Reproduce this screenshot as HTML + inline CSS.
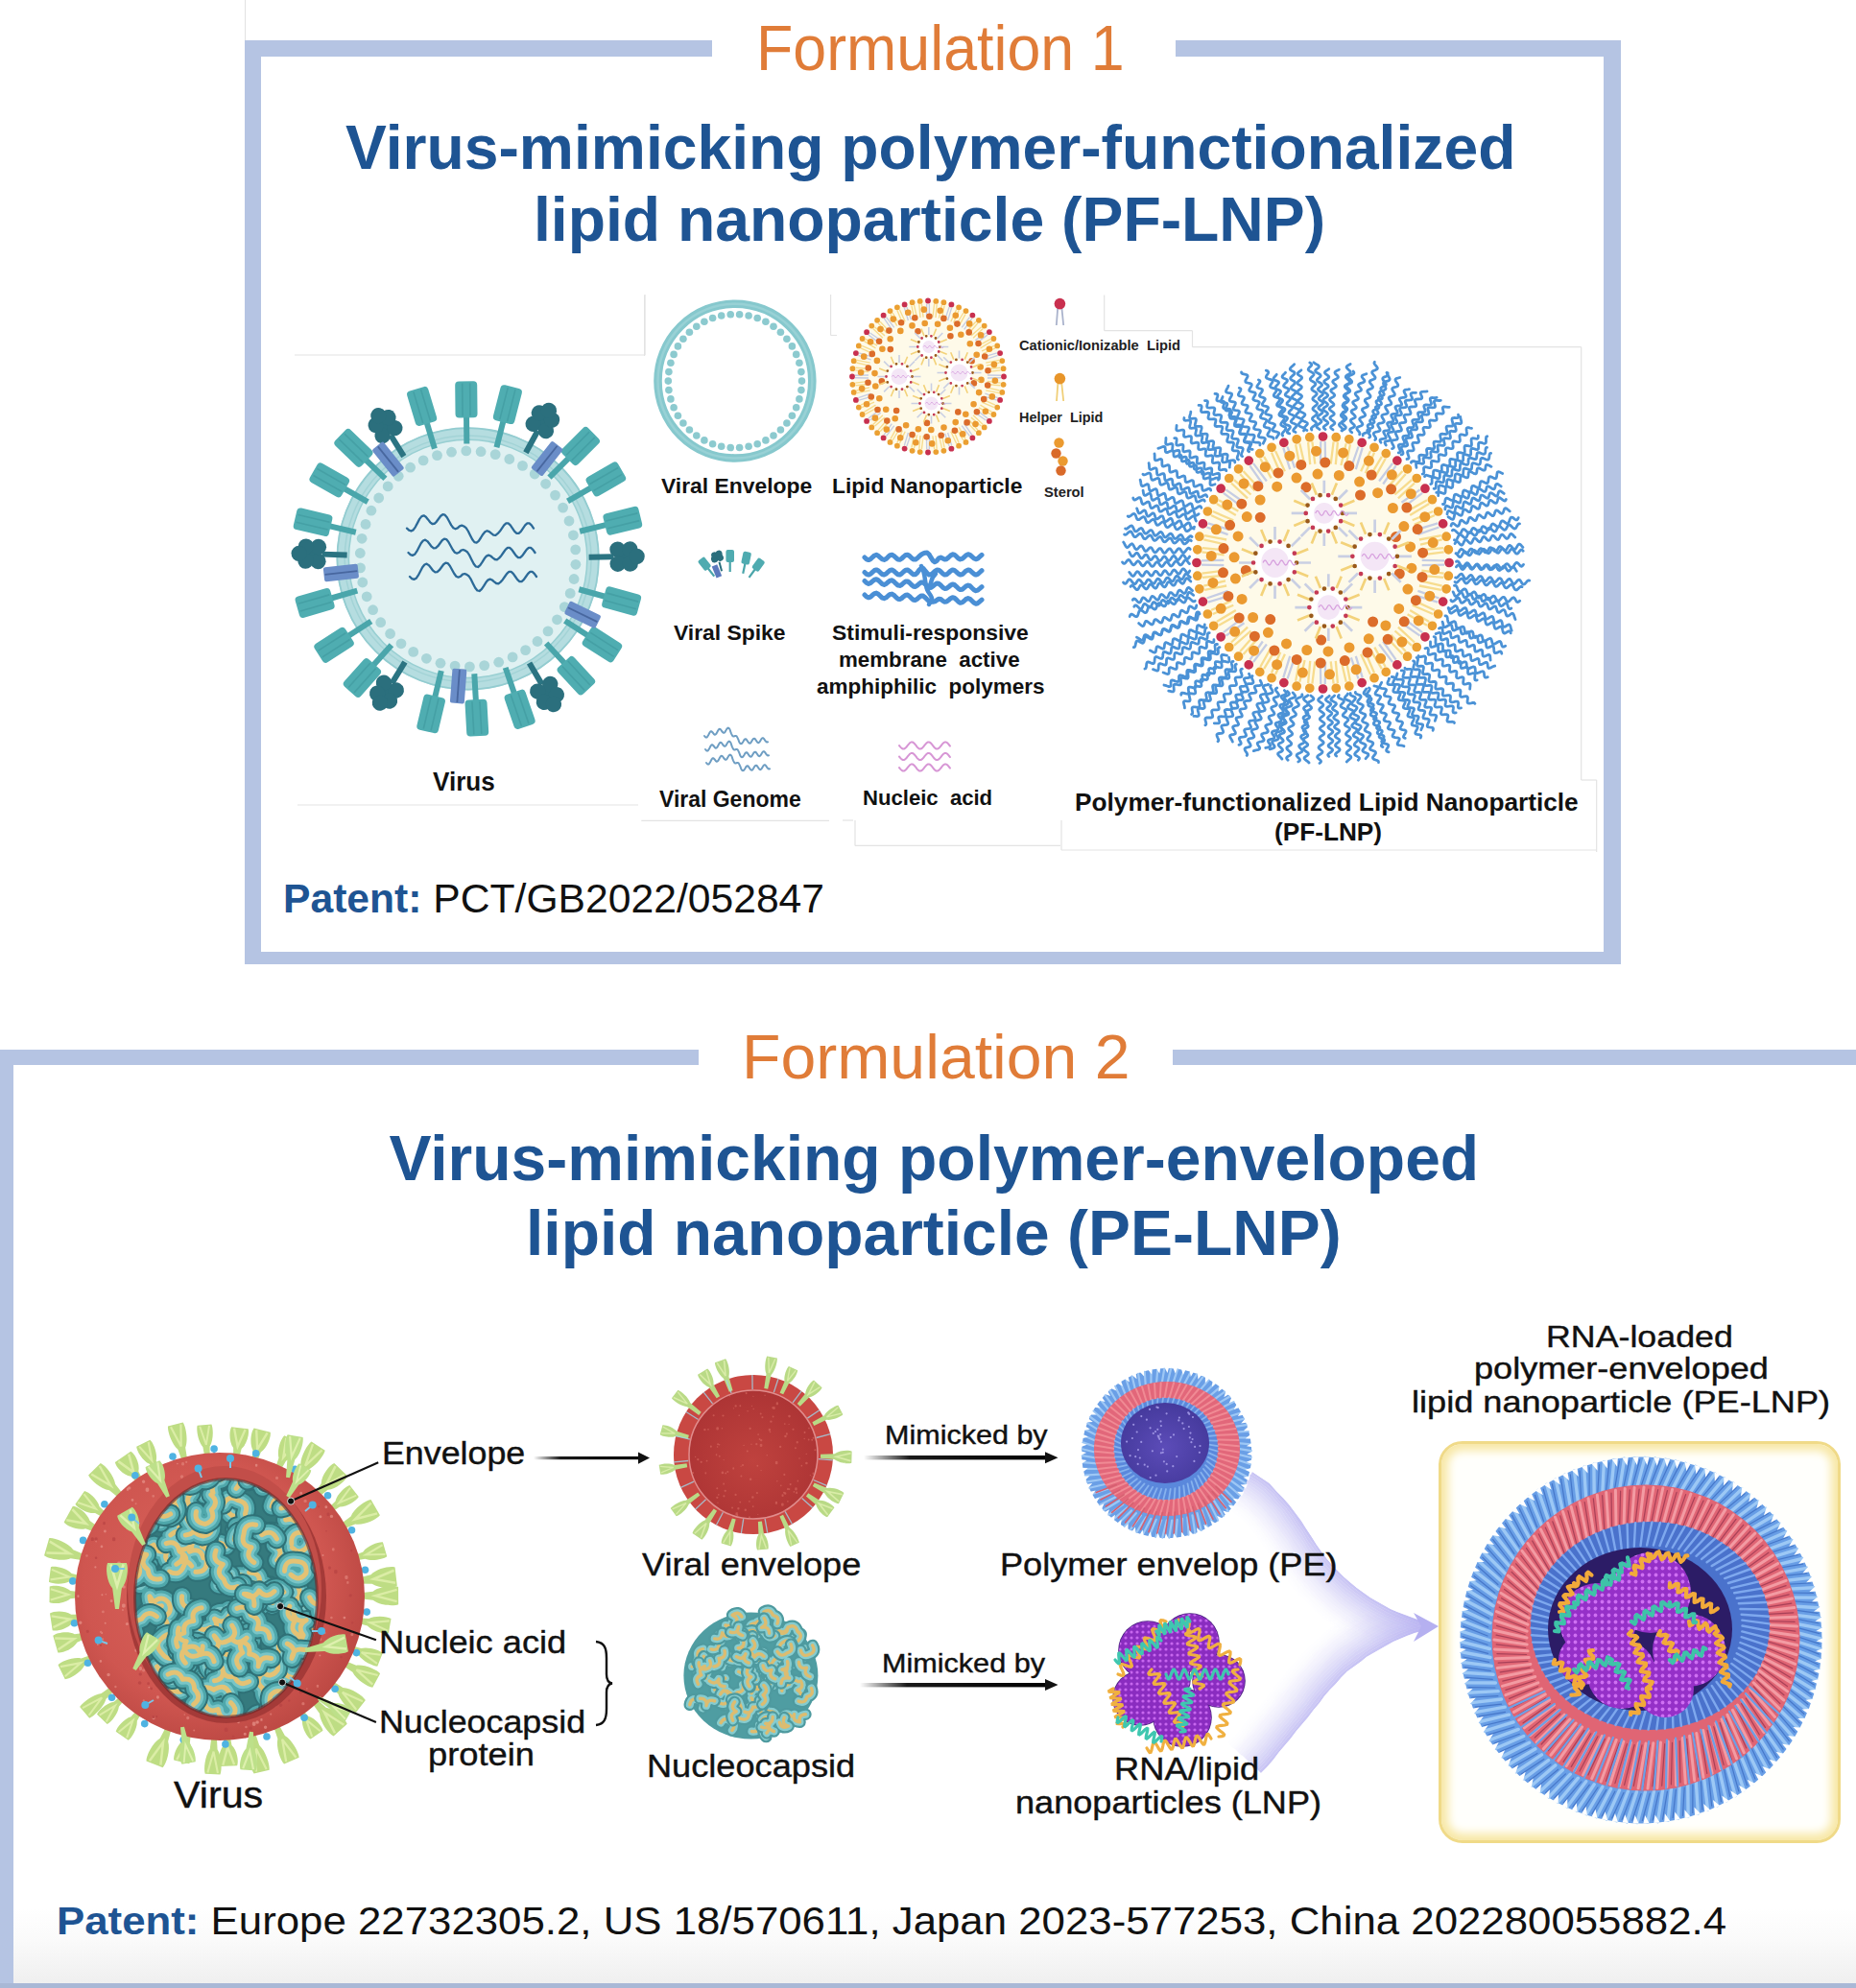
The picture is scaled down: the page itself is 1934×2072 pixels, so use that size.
<!DOCTYPE html>
<html><head><meta charset="utf-8">
<style>
html,body{margin:0;padding:0;background:#fff;}
#pg{position:relative;width:1934px;height:2072px;overflow:hidden;background:#fff;font-family:"Liberation Sans",sans-serif;}
.t{position:absolute;white-space:pre;line-height:1;transform-origin:0 0;}
.r{position:absolute;}
svg{position:absolute;left:0;top:0;overflow:visible;}
</style></head><body><div id="pg">
<div class="r" style="left:0;top:1990px;width:1934px;height:82px;background:linear-gradient(#fff,#fafafa 40%,#eeeeee)"></div>
<div class="r" style="left:1499px;top:1502px;width:413px;height:413px;border-radius:25px;border:3px solid #f0da88;box-shadow:inset 0 0 10px 7px #f8e8a6;background:#fffffc"></div>
<svg width="1934" height="2072" viewBox="0 0 1934 2072"><line x1="307" y1="370" x2="672" y2="370" stroke="#e3e3e3" stroke-width="1.2"/>
<line x1="672" y1="307" x2="672" y2="370" stroke="#e3e3e3" stroke-width="1.2"/>
<line x1="865.6" y1="307" x2="865.6" y2="349.5" stroke="#e3e3e3" stroke-width="1.2"/>
<line x1="865.6" y1="349.5" x2="872" y2="349.5" stroke="#e3e3e3" stroke-width="1.2"/>
<line x1="1150.7" y1="307.6" x2="1150.7" y2="344.7" stroke="#e3e3e3" stroke-width="1.2"/>
<line x1="1150.7" y1="344.7" x2="1242.5" y2="344.7" stroke="#e3e3e3" stroke-width="1.2"/>
<line x1="1242.5" y1="344.7" x2="1242.5" y2="361.7" stroke="#e3e3e3" stroke-width="1.2"/>
<line x1="1242.5" y1="361.7" x2="1647.7" y2="361.7" stroke="#e3e3e3" stroke-width="1.2"/>
<line x1="1647.7" y1="361.7" x2="1647.7" y2="813" stroke="#e3e3e3" stroke-width="1.2"/>
<line x1="1647.7" y1="813" x2="1663.7" y2="813" stroke="#e3e3e3" stroke-width="1.2"/>
<line x1="1663.7" y1="813" x2="1663.7" y2="888" stroke="#e3e3e3" stroke-width="1.2"/>
<line x1="668.3" y1="855.3" x2="864" y2="855.3" stroke="#e3e3e3" stroke-width="1.2"/>
<line x1="878" y1="855" x2="889" y2="855" stroke="#e3e3e3" stroke-width="1.2"/>
<line x1="891" y1="855" x2="891" y2="881.4" stroke="#e3e3e3" stroke-width="1.2"/>
<line x1="891" y1="881.4" x2="1105" y2="881.4" stroke="#e3e3e3" stroke-width="1.2"/>
<line x1="671.6" y1="307.5" x2="671.6" y2="371" stroke="#e3e3e3" stroke-width="1.2"/>
<line x1="310" y1="839" x2="665" y2="839" stroke="#e3e3e3" stroke-width="1.2"/>
<line x1="1106" y1="855" x2="1106" y2="886" stroke="#e3e3e3" stroke-width="1.2"/>
<line x1="1106" y1="886" x2="1663.7" y2="886" stroke="#e3e3e3" stroke-width="1.2"/>
<circle cx="487.6" cy="582.4" r="124" fill="#e0f1f2"/>
<circle cx="487.6" cy="582.4" r="130.5" fill="none" stroke="#b5dde0" stroke-width="13"/>
<circle cx="487.6" cy="582.4" r="136.2" fill="none" stroke="#93ccd0" stroke-width="1.8"/>
<circle cx="487.6" cy="582.4" r="128.5" fill="none" stroke="#a3d3d6" stroke-width="1.5"/>
<circle cx="487.6" cy="582.4" r="124.2" fill="none" stroke="#98cfd2" stroke-width="1.5"/>
<circle cx="599.9" cy="588.3" r="5.4" fill="#a9d5d8"/>
<circle cx="598.1" cy="603.5" r="5.4" fill="#a9d5d8"/>
<circle cx="594.2" cy="618.4" r="5.4" fill="#a9d5d8"/>
<circle cx="588.3" cy="632.6" r="5.4" fill="#a9d5d8"/>
<circle cx="580.5" cy="645.8" r="5.4" fill="#a9d5d8"/>
<circle cx="571.0" cy="657.9" r="5.4" fill="#a9d5d8"/>
<circle cx="560.0" cy="668.5" r="5.4" fill="#a9d5d8"/>
<circle cx="547.6" cy="677.6" r="5.4" fill="#a9d5d8"/>
<circle cx="534.1" cy="684.9" r="5.4" fill="#a9d5d8"/>
<circle cx="519.7" cy="690.2" r="5.4" fill="#a9d5d8"/>
<circle cx="504.7" cy="693.6" r="5.4" fill="#a9d5d8"/>
<circle cx="489.4" cy="694.9" r="5.4" fill="#a9d5d8"/>
<circle cx="474.1" cy="694.1" r="5.4" fill="#a9d5d8"/>
<circle cx="459.0" cy="691.2" r="5.4" fill="#a9d5d8"/>
<circle cx="444.4" cy="686.3" r="5.4" fill="#a9d5d8"/>
<circle cx="430.7" cy="679.4" r="5.4" fill="#a9d5d8"/>
<circle cx="418.0" cy="670.8" r="5.4" fill="#a9d5d8"/>
<circle cx="406.6" cy="660.5" r="5.4" fill="#a9d5d8"/>
<circle cx="396.7" cy="648.7" r="5.4" fill="#a9d5d8"/>
<circle cx="388.6" cy="635.7" r="5.4" fill="#a9d5d8"/>
<circle cx="382.2" cy="621.8" r="5.4" fill="#a9d5d8"/>
<circle cx="377.8" cy="607.0" r="5.4" fill="#a9d5d8"/>
<circle cx="375.5" cy="591.9" r="5.4" fill="#a9d5d8"/>
<circle cx="375.3" cy="576.5" r="5.4" fill="#a9d5d8"/>
<circle cx="377.1" cy="561.3" r="5.4" fill="#a9d5d8"/>
<circle cx="381.0" cy="546.4" r="5.4" fill="#a9d5d8"/>
<circle cx="386.9" cy="532.2" r="5.4" fill="#a9d5d8"/>
<circle cx="394.7" cy="519.0" r="5.4" fill="#a9d5d8"/>
<circle cx="404.2" cy="506.9" r="5.4" fill="#a9d5d8"/>
<circle cx="415.2" cy="496.3" r="5.4" fill="#a9d5d8"/>
<circle cx="427.6" cy="487.2" r="5.4" fill="#a9d5d8"/>
<circle cx="441.1" cy="479.9" r="5.4" fill="#a9d5d8"/>
<circle cx="455.5" cy="474.6" r="5.4" fill="#a9d5d8"/>
<circle cx="470.5" cy="471.2" r="5.4" fill="#a9d5d8"/>
<circle cx="485.8" cy="469.9" r="5.4" fill="#a9d5d8"/>
<circle cx="501.1" cy="470.7" r="5.4" fill="#a9d5d8"/>
<circle cx="516.2" cy="473.6" r="5.4" fill="#a9d5d8"/>
<circle cx="530.8" cy="478.5" r="5.4" fill="#a9d5d8"/>
<circle cx="544.5" cy="485.4" r="5.4" fill="#a9d5d8"/>
<circle cx="557.2" cy="494.0" r="5.4" fill="#a9d5d8"/>
<circle cx="568.6" cy="504.3" r="5.4" fill="#a9d5d8"/>
<circle cx="578.5" cy="516.1" r="5.4" fill="#a9d5d8"/>
<circle cx="586.6" cy="529.1" r="5.4" fill="#a9d5d8"/>
<circle cx="593.0" cy="543.0" r="5.4" fill="#a9d5d8"/>
<circle cx="597.4" cy="557.8" r="5.4" fill="#a9d5d8"/>
<circle cx="599.7" cy="572.9" r="5.4" fill="#a9d5d8"/>
<polyline points="424.0,550.6 426.2,552.7 428.4,553.5 430.6,552.4 432.8,549.3 435.0,545.1 437.2,540.9 439.4,538.1 441.6,537.3 443.8,538.7 446.0,541.4 448.2,544.3 450.4,546.0 452.6,545.8 454.8,543.8 457.0,540.8 459.2,537.8 461.4,536.2 463.6,536.7 465.8,539.3 468.0,543.3 470.2,547.4 472.4,550.3 474.6,551.3 476.8,550.4 479.0,548.3 481.2,547.6 483.4,548.5 485.6,550.1 487.8,553.5 490.0,558.0 492.2,562.3 494.4,565.1 496.6,565.6 498.8,563.8 501.0,560.5 503.2,556.9 505.4,554.2 507.6,553.2 509.8,554.1 512.0,555.9 514.2,557.6 516.4,557.9 518.6,556.2 520.8,553.8 523.0,550.6 525.2,547.4 527.4,545.4 529.6,545.4 531.8,547.4 534.0,550.6 536.2,553.8 538.4,555.8 540.6,555.8 542.8,553.8 545.0,550.6 547.2,547.4 549.4,545.4 551.6,545.4 553.8,547.4 556.0,550.6" fill="none" stroke="#2c6a98" stroke-width="2.3" stroke-linecap="round" stroke-linejoin="round"/>
<polyline points="425.5,576.0 427.7,578.1 429.9,578.9 432.1,577.8 434.3,574.7 436.5,570.5 438.7,566.3 440.9,563.5 443.1,562.7 445.3,564.1 447.5,566.8 449.7,569.7 451.9,571.4 454.1,571.2 456.3,569.2 458.5,566.2 460.7,563.2 462.9,561.6 465.1,562.1 467.3,564.7 469.5,568.7 471.7,572.8 473.9,575.7 476.1,576.7 478.3,575.8 480.5,573.7 482.7,573.0 484.9,573.9 487.1,575.5 489.3,578.9 491.5,583.4 493.7,587.7 495.9,590.5 498.1,591.0 500.3,589.2 502.5,585.9 504.7,582.3 506.9,579.6 509.1,578.6 511.3,579.5 513.5,581.3 515.7,583.0 517.9,583.3 520.1,581.6 522.3,579.2 524.5,576.0 526.7,572.8 528.9,570.8 531.1,570.8 533.3,572.8 535.5,576.0 537.7,579.2 539.9,581.2 542.1,581.2 544.3,579.2 546.5,576.0 548.7,572.8 550.9,570.8 553.1,570.8 555.3,572.8 557.5,576.0" fill="none" stroke="#2c6a98" stroke-width="2.3" stroke-linecap="round" stroke-linejoin="round"/>
<polyline points="427.0,601.0 429.2,603.1 431.4,603.9 433.6,602.8 435.8,599.7 438.0,595.5 440.2,591.3 442.4,588.5 444.6,587.7 446.8,589.1 449.0,591.8 451.2,594.7 453.4,596.4 455.6,596.2 457.8,594.2 460.0,591.2 462.2,588.2 464.4,586.6 466.6,587.1 468.8,589.7 471.0,593.7 473.2,597.8 475.4,600.7 477.6,601.7 479.8,600.8 482.0,598.7 484.2,598.0 486.4,598.9 488.6,600.5 490.8,603.9 493.0,608.4 495.2,612.7 497.4,615.5 499.6,616.0 501.8,614.2 504.0,610.9 506.2,607.3 508.4,604.6 510.6,603.6 512.8,604.5 515.0,606.3 517.2,608.0 519.4,608.3 521.6,606.6 523.8,604.2 526.0,601.0 528.2,597.8 530.4,595.8 532.6,595.8 534.8,597.8 537.0,601.0 539.2,604.2 541.4,606.2 543.6,606.2 545.8,604.2 548.0,601.0 550.2,597.8 552.4,595.8 554.6,595.8 556.8,597.8 559.0,601.0" fill="none" stroke="#2c6a98" stroke-width="2.3" stroke-linecap="round" stroke-linejoin="round"/>
<g transform="translate(487.6,582.4) rotate(-0.6)"><rect x="-3" y="-150" width="6" height="30" fill="#4aa6ab"/><rect x="-11.5" y="-185" width="23" height="38" rx="4" fill="#4fadb1"/><path d="M-4,-183 V-149 M4,-183 V-149" stroke="#45a0a5" stroke-width="1.6"/></g>
<g transform="translate(487.6,582.4) rotate(-16.8)"><rect x="-3" y="-150" width="6" height="30" fill="#4aa6ab"/><rect x="-11.5" y="-185" width="23" height="38" rx="4" fill="#4fadb1"/><path d="M-4,-183 V-149 M4,-183 V-149" stroke="#45a0a5" stroke-width="1.6"/></g>
<g transform="translate(487.6,582.4) rotate(14.4)"><rect x="-3" y="-150" width="6" height="30" fill="#4aa6ab"/><rect x="-11.5" y="-185" width="23" height="38" rx="4" fill="#4fadb1"/><path d="M-4,-183 V-149 M4,-183 V-149" stroke="#45a0a5" stroke-width="1.6"/></g>
<g transform="translate(487.6,582.4) rotate(-45.9)"><rect x="-3" y="-150" width="6" height="30" fill="#4aa6ab"/><rect x="-11.5" y="-185" width="23" height="38" rx="4" fill="#4fadb1"/><path d="M-4,-183 V-149 M4,-183 V-149" stroke="#45a0a5" stroke-width="1.6"/></g>
<g transform="translate(487.6,582.4) rotate(45.0)"><rect x="-3" y="-150" width="6" height="30" fill="#4aa6ab"/><rect x="-11.5" y="-185" width="23" height="38" rx="4" fill="#4fadb1"/><path d="M-4,-183 V-149 M4,-183 V-149" stroke="#45a0a5" stroke-width="1.6"/></g>
<g transform="translate(487.6,582.4) rotate(-60.4)"><rect x="-3" y="-150" width="6" height="30" fill="#4aa6ab"/><rect x="-11.5" y="-185" width="23" height="38" rx="4" fill="#4fadb1"/><path d="M-4,-183 V-149 M4,-183 V-149" stroke="#45a0a5" stroke-width="1.6"/></g>
<g transform="translate(487.6,582.4) rotate(60.0)"><rect x="-3" y="-150" width="6" height="30" fill="#4aa6ab"/><rect x="-11.5" y="-185" width="23" height="38" rx="4" fill="#4fadb1"/><path d="M-4,-183 V-149 M4,-183 V-149" stroke="#45a0a5" stroke-width="1.6"/></g>
<g transform="translate(487.6,582.4) rotate(-76.7)"><rect x="-3" y="-150" width="6" height="30" fill="#4aa6ab"/><rect x="-11.5" y="-185" width="23" height="38" rx="4" fill="#4fadb1"/><path d="M-4,-183 V-149 M4,-183 V-149" stroke="#45a0a5" stroke-width="1.6"/></g>
<g transform="translate(487.6,582.4) rotate(76.2)"><rect x="-3" y="-150" width="6" height="30" fill="#4aa6ab"/><rect x="-11.5" y="-185" width="23" height="38" rx="4" fill="#4fadb1"/><path d="M-4,-183 V-149 M4,-183 V-149" stroke="#45a0a5" stroke-width="1.6"/></g>
<g transform="translate(487.6,582.4) rotate(253.9)"><rect x="-3" y="-150" width="6" height="30" fill="#4aa6ab"/><rect x="-11.5" y="-185" width="23" height="38" rx="4" fill="#4fadb1"/><path d="M-4,-183 V-149 M4,-183 V-149" stroke="#45a0a5" stroke-width="1.6"/></g>
<g transform="translate(487.6,582.4) rotate(105.4)"><rect x="-3" y="-150" width="6" height="30" fill="#4aa6ab"/><rect x="-11.5" y="-185" width="23" height="38" rx="4" fill="#4fadb1"/><path d="M-4,-183 V-149 M4,-183 V-149" stroke="#45a0a5" stroke-width="1.6"/></g>
<g transform="translate(487.6,582.4) rotate(237.2)"><rect x="-3" y="-150" width="6" height="30" fill="#4aa6ab"/><rect x="-11.5" y="-185" width="23" height="38" rx="4" fill="#4fadb1"/><path d="M-4,-183 V-149 M4,-183 V-149" stroke="#45a0a5" stroke-width="1.6"/></g>
<g transform="translate(487.6,582.4) rotate(122.6)"><rect x="-3" y="-150" width="6" height="30" fill="#4aa6ab"/><rect x="-11.5" y="-185" width="23" height="38" rx="4" fill="#4fadb1"/><path d="M-4,-183 V-149 M4,-183 V-149" stroke="#45a0a5" stroke-width="1.6"/></g>
<g transform="translate(487.6,582.4) rotate(221.6)"><rect x="-3" y="-150" width="6" height="30" fill="#4aa6ab"/><rect x="-11.5" y="-185" width="23" height="38" rx="4" fill="#4fadb1"/><path d="M-4,-183 V-149 M4,-183 V-149" stroke="#45a0a5" stroke-width="1.6"/></g>
<g transform="translate(487.6,582.4) rotate(137.2)"><rect x="-3" y="-150" width="6" height="30" fill="#4aa6ab"/><rect x="-11.5" y="-185" width="23" height="38" rx="4" fill="#4fadb1"/><path d="M-4,-183 V-149 M4,-183 V-149" stroke="#45a0a5" stroke-width="1.6"/></g>
<g transform="translate(487.6,582.4) rotate(193.4)"><rect x="-3" y="-150" width="6" height="30" fill="#4aa6ab"/><rect x="-11.5" y="-185" width="23" height="38" rx="4" fill="#4fadb1"/><path d="M-4,-183 V-149 M4,-183 V-149" stroke="#45a0a5" stroke-width="1.6"/></g>
<g transform="translate(487.6,582.4) rotate(176.8)"><rect x="-3" y="-150" width="6" height="30" fill="#4aa6ab"/><rect x="-11.5" y="-185" width="23" height="38" rx="4" fill="#4fadb1"/><path d="M-4,-183 V-149 M4,-183 V-149" stroke="#45a0a5" stroke-width="1.6"/></g>
<g transform="translate(487.6,582.4) rotate(161.0)"><rect x="-3" y="-150" width="6" height="30" fill="#4aa6ab"/><rect x="-11.5" y="-185" width="23" height="38" rx="4" fill="#4fadb1"/><path d="M-4,-183 V-149 M4,-183 V-149" stroke="#45a0a5" stroke-width="1.6"/></g>
<g transform="translate(487.6,582.4) rotate(-32.0)"><rect x="-3" y="-152" width="6" height="26" fill="#2b7482"/><circle cx="0" cy="-164" r="8.2" fill="#2b6f7d"/><circle cx="-7.5" cy="-156" r="8.2" fill="#2b6f7d"/><circle cx="7.5" cy="-156" r="8.2" fill="#2b6f7d"/><circle cx="-7.5" cy="-169" r="8.2" fill="#2b6f7d"/><circle cx="7.5" cy="-169" r="8.2" fill="#2b6f7d"/><circle cx="0" cy="-176" r="8.2" fill="#2b6f7d"/></g>
<g transform="translate(487.6,582.4) rotate(28.6)"><rect x="-3" y="-152" width="6" height="26" fill="#2b7482"/><circle cx="0" cy="-164" r="8.2" fill="#2b6f7d"/><circle cx="-7.5" cy="-156" r="8.2" fill="#2b6f7d"/><circle cx="7.5" cy="-156" r="8.2" fill="#2b6f7d"/><circle cx="-7.5" cy="-169" r="8.2" fill="#2b6f7d"/><circle cx="7.5" cy="-169" r="8.2" fill="#2b6f7d"/><circle cx="0" cy="-176" r="8.2" fill="#2b6f7d"/></g>
<g transform="translate(487.6,582.4) rotate(-88.2)"><rect x="-3" y="-152" width="6" height="26" fill="#2b7482"/><circle cx="0" cy="-164" r="8.2" fill="#2b6f7d"/><circle cx="-7.5" cy="-156" r="8.2" fill="#2b6f7d"/><circle cx="7.5" cy="-156" r="8.2" fill="#2b6f7d"/><circle cx="-7.5" cy="-169" r="8.2" fill="#2b6f7d"/><circle cx="7.5" cy="-169" r="8.2" fill="#2b6f7d"/><circle cx="0" cy="-176" r="8.2" fill="#2b6f7d"/></g>
<g transform="translate(487.6,582.4) rotate(89.2)"><rect x="-3" y="-152" width="6" height="26" fill="#2b7482"/><circle cx="0" cy="-164" r="8.2" fill="#2b6f7d"/><circle cx="-7.5" cy="-156" r="8.2" fill="#2b6f7d"/><circle cx="7.5" cy="-156" r="8.2" fill="#2b6f7d"/><circle cx="-7.5" cy="-169" r="8.2" fill="#2b6f7d"/><circle cx="7.5" cy="-169" r="8.2" fill="#2b6f7d"/><circle cx="0" cy="-176" r="8.2" fill="#2b6f7d"/></g>
<g transform="translate(487.6,582.4) rotate(211.4)"><rect x="-3" y="-152" width="6" height="26" fill="#2b7482"/><circle cx="0" cy="-164" r="8.2" fill="#2b6f7d"/><circle cx="-7.5" cy="-156" r="8.2" fill="#2b6f7d"/><circle cx="7.5" cy="-156" r="8.2" fill="#2b6f7d"/><circle cx="-7.5" cy="-169" r="8.2" fill="#2b6f7d"/><circle cx="7.5" cy="-169" r="8.2" fill="#2b6f7d"/><circle cx="0" cy="-176" r="8.2" fill="#2b6f7d"/></g>
<g transform="translate(487.6,582.4) rotate(149.5)"><rect x="-3" y="-152" width="6" height="26" fill="#2b7482"/><circle cx="0" cy="-164" r="8.2" fill="#2b6f7d"/><circle cx="-7.5" cy="-156" r="8.2" fill="#2b6f7d"/><circle cx="7.5" cy="-156" r="8.2" fill="#2b6f7d"/><circle cx="-7.5" cy="-169" r="8.2" fill="#2b6f7d"/><circle cx="7.5" cy="-169" r="8.2" fill="#2b6f7d"/><circle cx="0" cy="-176" r="8.2" fill="#2b6f7d"/></g>
<g transform="translate(487.6,582.4) rotate(-38.7)"><rect x="-7.5" y="-151" width="15" height="36" rx="2" fill="#6a8dc8"/><path d="M0,-150 V-116" stroke="#48679f" stroke-width="1.8"/></g>
<g transform="translate(487.6,582.4) rotate(38.3)"><rect x="-7.5" y="-151" width="15" height="36" rx="2" fill="#6a8dc8"/><path d="M0,-150 V-116" stroke="#48679f" stroke-width="1.8"/></g>
<g transform="translate(487.6,582.4) rotate(263.7)"><rect x="-7.5" y="-151" width="15" height="36" rx="2" fill="#6a8dc8"/><path d="M0,-150 V-116" stroke="#48679f" stroke-width="1.8"/></g>
<g transform="translate(487.6,582.4) rotate(116.0)"><rect x="-7.5" y="-151" width="15" height="36" rx="2" fill="#6a8dc8"/><path d="M0,-150 V-116" stroke="#48679f" stroke-width="1.8"/></g>
<g transform="translate(487.6,582.4) rotate(184.3)"><rect x="-7.5" y="-151" width="15" height="36" rx="2" fill="#6a8dc8"/><path d="M0,-150 V-116" stroke="#48679f" stroke-width="1.8"/></g>
<circle cx="765.9" cy="397.1" r="80.4" fill="none" stroke="#86c8cd" stroke-width="8.6"/>
<circle cx="765.9" cy="397.1" r="80.4" fill="none" stroke="#98d1d5" stroke-width="2.5"/>
<circle cx="835.5" cy="397.1" r="3.8" fill="#8ccacf"/>
<circle cx="834.9" cy="406.6" r="3.8" fill="#8ccacf"/>
<circle cx="832.9" cy="415.9" r="3.8" fill="#8ccacf"/>
<circle cx="829.7" cy="424.8" r="3.8" fill="#8ccacf"/>
<circle cx="825.4" cy="433.3" r="3.8" fill="#8ccacf"/>
<circle cx="819.9" cy="441.0" r="3.8" fill="#8ccacf"/>
<circle cx="813.4" cy="448.0" r="3.8" fill="#8ccacf"/>
<circle cx="806.0" cy="454.0" r="3.8" fill="#8ccacf"/>
<circle cx="797.9" cy="458.9" r="3.8" fill="#8ccacf"/>
<circle cx="789.2" cy="462.7" r="3.8" fill="#8ccacf"/>
<circle cx="780.1" cy="465.2" r="3.8" fill="#8ccacf"/>
<circle cx="770.6" cy="466.5" r="3.8" fill="#8ccacf"/>
<circle cx="761.2" cy="466.5" r="3.8" fill="#8ccacf"/>
<circle cx="751.7" cy="465.2" r="3.8" fill="#8ccacf"/>
<circle cx="742.6" cy="462.7" r="3.8" fill="#8ccacf"/>
<circle cx="733.9" cy="458.9" r="3.8" fill="#8ccacf"/>
<circle cx="725.8" cy="454.0" r="3.8" fill="#8ccacf"/>
<circle cx="718.4" cy="448.0" r="3.8" fill="#8ccacf"/>
<circle cx="711.9" cy="441.0" r="3.8" fill="#8ccacf"/>
<circle cx="706.4" cy="433.3" r="3.8" fill="#8ccacf"/>
<circle cx="702.1" cy="424.8" r="3.8" fill="#8ccacf"/>
<circle cx="698.9" cy="415.9" r="3.8" fill="#8ccacf"/>
<circle cx="696.9" cy="406.6" r="3.8" fill="#8ccacf"/>
<circle cx="696.3" cy="397.1" r="3.8" fill="#8ccacf"/>
<circle cx="696.9" cy="387.6" r="3.8" fill="#8ccacf"/>
<circle cx="698.9" cy="378.3" r="3.8" fill="#8ccacf"/>
<circle cx="702.1" cy="369.4" r="3.8" fill="#8ccacf"/>
<circle cx="706.4" cy="360.9" r="3.8" fill="#8ccacf"/>
<circle cx="711.9" cy="353.2" r="3.8" fill="#8ccacf"/>
<circle cx="718.4" cy="346.2" r="3.8" fill="#8ccacf"/>
<circle cx="725.8" cy="340.2" r="3.8" fill="#8ccacf"/>
<circle cx="733.9" cy="335.3" r="3.8" fill="#8ccacf"/>
<circle cx="742.6" cy="331.5" r="3.8" fill="#8ccacf"/>
<circle cx="751.7" cy="329.0" r="3.8" fill="#8ccacf"/>
<circle cx="761.2" cy="327.7" r="3.8" fill="#8ccacf"/>
<circle cx="770.6" cy="327.7" r="3.8" fill="#8ccacf"/>
<circle cx="780.1" cy="329.0" r="3.8" fill="#8ccacf"/>
<circle cx="789.2" cy="331.5" r="3.8" fill="#8ccacf"/>
<circle cx="797.9" cy="335.3" r="3.8" fill="#8ccacf"/>
<circle cx="806.0" cy="340.2" r="3.8" fill="#8ccacf"/>
<circle cx="813.4" cy="346.2" r="3.8" fill="#8ccacf"/>
<circle cx="819.9" cy="353.2" r="3.8" fill="#8ccacf"/>
<circle cx="825.4" cy="360.9" r="3.8" fill="#8ccacf"/>
<circle cx="829.7" cy="369.4" r="3.8" fill="#8ccacf"/>
<circle cx="832.9" cy="378.3" r="3.8" fill="#8ccacf"/>
<circle cx="834.9" cy="387.6" r="3.8" fill="#8ccacf"/>
<circle cx="967" cy="392.5" r="80.0" fill="#fefae9"/>
<path d="M1043 391.2L1029 391M1043 393.8L1029 394M1039.7 414.7L1026.4 410.2M1038.9 417.2L1025.5 413.1M1029.2 436.1L1018.1 427.7M1027.7 438.2L1016.2 430.2M1012.7 453.2L1004.7 441.7M1010.6 454.7L1002.2 443.6M991.7 464.4L987.6 451M989.2 465.2L984.7 451.9M968.3 468.5L968.5 454.5M965.7 468.5L965.5 454.5M944.8 465.2L949.3 451.9M942.3 464.4L946.4 451M923.4 454.7L931.8 443.6M921.3 453.2L929.3 441.7M906.3 438.2L917.8 430.2M904.8 436.1L915.9 427.7M895.1 417.2L908.5 413.1M894.3 414.7L907.6 410.2M891 393.8L905 394M891 391.2L905 391M894.3 370.3L907.6 374.8M895.1 367.8L908.5 371.9M904.8 348.9L915.9 357.3M906.3 346.8L917.8 354.8M921.3 331.8L929.3 343.3M923.4 330.3L931.8 341.4M942.3 320.6L946.4 334M944.8 319.8L949.3 333.1M965.7 316.5L965.5 330.5M968.3 316.5L968.5 330.5M989.2 319.8L984.7 333.1M991.7 320.6L987.6 334M1010.6 330.3L1002.2 341.4M1012.7 331.8L1004.7 343.3M1027.7 346.8L1016.2 354.8M1029.2 348.9L1018.1 357.3M1038.9 367.8L1025.5 371.9M1039.7 370.3L1026.4 374.8" fill="none" stroke="#c6cde3" stroke-width="1.4" stroke-linecap="butt" stroke-linejoin="round"/><path d="M1042.7 399.1L1028.8 397.4M1042.4 401.7L1028.5 400.5M1041.6 407L1027.9 403.9M1041.1 409.6L1027.3 406.9M1037 422.2L1024.3 416.3M1035.9 424.6L1023 419.1M1033.5 429.4L1021.5 422.2M1032.2 431.6L1019.9 424.8M1024.3 442.4L1014.1 432.8M1022.6 444.3L1012 435.1M1018.8 448.1L1009.6 437.5M1016.9 449.8L1007.3 439.6M1006.1 457.7L999.3 445.4M1003.9 459L996.7 447M999.1 461.4L993.6 448.5M996.7 462.5L990.8 449.8M984.1 466.6L981.4 452.8M981.5 467.1L978.4 453.4M976.2 467.9L975 454M973.6 468.2L971.9 454.3M960.4 468.2L962.1 454.3M957.8 467.9L959 454M952.5 467.1L955.6 453.4M949.9 466.6L952.6 452.8M937.3 462.5L943.2 449.8M934.9 461.4L940.4 448.5M930.1 459L937.3 447M927.9 457.7L934.7 445.4M917.1 449.8L926.7 439.6M915.2 448.1L924.4 437.5M911.4 444.3L922 435.1M909.7 442.4L919.9 432.8M901.8 431.6L914.1 424.8M900.5 429.4L912.5 422.2M898.1 424.6L911 419.1M897 422.2L909.7 416.3M892.9 409.6L906.7 406.9M892.4 407L906.1 403.9M891.6 401.7L905.5 400.5M891.3 399.1L905.2 397.4M891.3 385.9L905.2 387.6M891.6 383.3L905.5 384.5M892.4 378L906.1 381.1M892.9 375.4L906.7 378.1M897 362.8L909.7 368.7M898.1 360.4L911 365.9M900.5 355.6L912.5 362.8M901.8 353.4L914.1 360.2M909.7 342.6L919.9 352.2M911.4 340.7L922 349.9M915.2 336.9L924.4 347.5M917.1 335.2L926.7 345.4M927.9 327.3L934.7 339.6M930.1 326L937.3 338M934.9 323.6L940.4 336.5M937.3 322.5L943.2 335.2M949.9 318.4L952.6 332.2M952.5 317.9L955.6 331.6M957.8 317.1L959 331M960.4 316.8L962.1 330.7M973.6 316.8L971.9 330.7M976.2 317.1L975 331M981.5 317.9L978.4 331.6M984.1 318.4L981.4 332.2M996.7 322.5L990.8 335.2M999.1 323.6L993.6 336.5M1003.9 326L996.7 338M1006.1 327.3L999.3 339.6M1016.9 335.2L1007.3 345.4M1018.8 336.9L1009.6 347.5M1022.6 340.7L1012 349.9M1024.3 342.6L1014.1 352.2M1032.2 353.4L1019.9 360.2M1033.5 355.6L1021.5 362.8M1035.9 360.4L1023 365.9M1037 362.8L1024.3 368.7M1041.1 375.4L1027.3 378.1M1041.6 378L1027.9 381.1M1042.4 383.3L1028.5 384.5M1042.7 385.9L1028.8 387.6" fill="none" stroke="#f7dc8e" stroke-width="1.4" stroke-linecap="butt" stroke-linejoin="round"/><path d="M1033.6 396.8a3.3 3.3 0 1 0 6.6 0a3.3 3.3 0 1 0 -6.6 0M1019.2 395.9a3.3 3.3 0 1 0 6.6 0a3.3 3.3 0 1 0 -6.6 0M1030.5 413.4a3.3 3.3 0 1 0 6.6 0a3.3 3.3 0 1 0 -6.6 0M1016.8 409.1a3.3 3.3 0 1 0 6.6 0a3.3 3.3 0 1 0 -6.6 0M1023.6 428.8a3.3 3.3 0 1 0 6.6 0a3.3 3.3 0 1 0 -6.6 0M1011.3 421.3a3.3 3.3 0 1 0 6.6 0a3.3 3.3 0 1 0 -6.6 0M1013.2 442a3.3 3.3 0 1 0 6.6 0a3.3 3.3 0 1 0 -6.6 0M1003 431.8a3.3 3.3 0 1 0 6.6 0a3.3 3.3 0 1 0 -6.6 0M999.9 452.4a3.3 3.3 0 1 0 6.6 0a3.3 3.3 0 1 0 -6.6 0M992.4 440.1a3.3 3.3 0 1 0 6.6 0a3.3 3.3 0 1 0 -6.6 0M984.5 459.3a3.3 3.3 0 1 0 6.6 0a3.3 3.3 0 1 0 -6.6 0M980.2 445.6a3.3 3.3 0 1 0 6.6 0a3.3 3.3 0 1 0 -6.6 0M967.9 462.4a3.3 3.3 0 1 0 6.6 0a3.3 3.3 0 1 0 -6.6 0M967 448a3.3 3.3 0 1 0 6.6 0a3.3 3.3 0 1 0 -6.6 0M951 461.3a3.3 3.3 0 1 0 6.6 0a3.3 3.3 0 1 0 -6.6 0M953.6 447.2a3.3 3.3 0 1 0 6.6 0a3.3 3.3 0 1 0 -6.6 0M934.9 456.3a3.3 3.3 0 1 0 6.6 0a3.3 3.3 0 1 0 -6.6 0M940.8 443.2a3.3 3.3 0 1 0 6.6 0a3.3 3.3 0 1 0 -6.6 0M920.5 447.6a3.3 3.3 0 1 0 6.6 0a3.3 3.3 0 1 0 -6.6 0M929.4 436.2a3.3 3.3 0 1 0 6.6 0a3.3 3.3 0 1 0 -6.6 0M908.6 435.6a3.3 3.3 0 1 0 6.6 0a3.3 3.3 0 1 0 -6.6 0M919.9 426.8a3.3 3.3 0 1 0 6.6 0a3.3 3.3 0 1 0 -6.6 0M899.8 421.2a3.3 3.3 0 1 0 6.6 0a3.3 3.3 0 1 0 -6.6 0M913 415.3a3.3 3.3 0 1 0 6.6 0a3.3 3.3 0 1 0 -6.6 0M894.8 405.1a3.3 3.3 0 1 0 6.6 0a3.3 3.3 0 1 0 -6.6 0M909 402.5a3.3 3.3 0 1 0 6.6 0a3.3 3.3 0 1 0 -6.6 0M893.8 388.2a3.3 3.3 0 1 0 6.6 0a3.3 3.3 0 1 0 -6.6 0M908.2 389.1a3.3 3.3 0 1 0 6.6 0a3.3 3.3 0 1 0 -6.6 0M896.9 371.6a3.3 3.3 0 1 0 6.6 0a3.3 3.3 0 1 0 -6.6 0M910.6 375.9a3.3 3.3 0 1 0 6.6 0a3.3 3.3 0 1 0 -6.6 0M903.8 356.2a3.3 3.3 0 1 0 6.6 0a3.3 3.3 0 1 0 -6.6 0M916.1 363.7a3.3 3.3 0 1 0 6.6 0a3.3 3.3 0 1 0 -6.6 0M914.2 343a3.3 3.3 0 1 0 6.6 0a3.3 3.3 0 1 0 -6.6 0M924.4 353.2a3.3 3.3 0 1 0 6.6 0a3.3 3.3 0 1 0 -6.6 0M927.5 332.6a3.3 3.3 0 1 0 6.6 0a3.3 3.3 0 1 0 -6.6 0M935 344.9a3.3 3.3 0 1 0 6.6 0a3.3 3.3 0 1 0 -6.6 0M942.9 325.7a3.3 3.3 0 1 0 6.6 0a3.3 3.3 0 1 0 -6.6 0M947.2 339.4a3.3 3.3 0 1 0 6.6 0a3.3 3.3 0 1 0 -6.6 0M959.5 322.6a3.3 3.3 0 1 0 6.6 0a3.3 3.3 0 1 0 -6.6 0M960.4 337a3.3 3.3 0 1 0 6.6 0a3.3 3.3 0 1 0 -6.6 0M976.4 323.7a3.3 3.3 0 1 0 6.6 0a3.3 3.3 0 1 0 -6.6 0M973.8 337.8a3.3 3.3 0 1 0 6.6 0a3.3 3.3 0 1 0 -6.6 0M992.5 328.7a3.3 3.3 0 1 0 6.6 0a3.3 3.3 0 1 0 -6.6 0M986.6 341.8a3.3 3.3 0 1 0 6.6 0a3.3 3.3 0 1 0 -6.6 0M1006.9 337.4a3.3 3.3 0 1 0 6.6 0a3.3 3.3 0 1 0 -6.6 0M998 348.8a3.3 3.3 0 1 0 6.6 0a3.3 3.3 0 1 0 -6.6 0M1018.8 349.4a3.3 3.3 0 1 0 6.6 0a3.3 3.3 0 1 0 -6.6 0M1007.5 358.2a3.3 3.3 0 1 0 6.6 0a3.3 3.3 0 1 0 -6.6 0M1027.6 363.8a3.3 3.3 0 1 0 6.6 0a3.3 3.3 0 1 0 -6.6 0M1014.4 369.7a3.3 3.3 0 1 0 6.6 0a3.3 3.3 0 1 0 -6.6 0M1032.6 379.9a3.3 3.3 0 1 0 6.6 0a3.3 3.3 0 1 0 -6.6 0M1018.4 382.5a3.3 3.3 0 1 0 6.6 0a3.3 3.3 0 1 0 -6.6 0" fill="#eb9a30"/><path d="M1025.9 401.5a3.3 3.3 0 1 0 6.6 0a3.3 3.3 0 1 0 -6.6 0M1011.6 399.4a3.3 3.3 0 1 0 6.6 0a3.3 3.3 0 1 0 -6.6 0M1021.9 416.1a3.3 3.3 0 1 0 6.6 0a3.3 3.3 0 1 0 -6.6 0M1014.6 429.3a3.3 3.3 0 1 0 6.6 0a3.3 3.3 0 1 0 -6.6 0M1004.3 440.4a3.3 3.3 0 1 0 6.6 0a3.3 3.3 0 1 0 -6.6 0M995 429.4a3.3 3.3 0 1 0 6.6 0a3.3 3.3 0 1 0 -6.6 0M991.6 448.7a3.3 3.3 0 1 0 6.6 0a3.3 3.3 0 1 0 -6.6 0M977.4 453.8a3.3 3.3 0 1 0 6.6 0a3.3 3.3 0 1 0 -6.6 0M962.3 455.3a3.3 3.3 0 1 0 6.6 0a3.3 3.3 0 1 0 -6.6 0M962.6 440.9a3.3 3.3 0 1 0 6.6 0a3.3 3.3 0 1 0 -6.6 0M947.3 453.1a3.3 3.3 0 1 0 6.6 0a3.3 3.3 0 1 0 -6.6 0M933.3 447.4a3.3 3.3 0 1 0 6.6 0a3.3 3.3 0 1 0 -6.6 0M921 438.6a3.3 3.3 0 1 0 6.6 0a3.3 3.3 0 1 0 -6.6 0M930.8 428a3.3 3.3 0 1 0 6.6 0a3.3 3.3 0 1 0 -6.6 0M911.2 427a3.3 3.3 0 1 0 6.6 0a3.3 3.3 0 1 0 -6.6 0M904.5 413.5a3.3 3.3 0 1 0 6.6 0a3.3 3.3 0 1 0 -6.6 0M901.2 398.7a3.3 3.3 0 1 0 6.6 0a3.3 3.3 0 1 0 -6.6 0M915.5 397.3a3.3 3.3 0 1 0 6.6 0a3.3 3.3 0 1 0 -6.6 0M901.5 383.5a3.3 3.3 0 1 0 6.6 0a3.3 3.3 0 1 0 -6.6 0M905.5 368.9a3.3 3.3 0 1 0 6.6 0a3.3 3.3 0 1 0 -6.6 0M912.8 355.7a3.3 3.3 0 1 0 6.6 0a3.3 3.3 0 1 0 -6.6 0M924.5 364.1a3.3 3.3 0 1 0 6.6 0a3.3 3.3 0 1 0 -6.6 0M923.1 344.6a3.3 3.3 0 1 0 6.6 0a3.3 3.3 0 1 0 -6.6 0M935.8 336.3a3.3 3.3 0 1 0 6.6 0a3.3 3.3 0 1 0 -6.6 0M950 331.2a3.3 3.3 0 1 0 6.6 0a3.3 3.3 0 1 0 -6.6 0M953.2 345.3a3.3 3.3 0 1 0 6.6 0a3.3 3.3 0 1 0 -6.6 0M965.1 329.7a3.3 3.3 0 1 0 6.6 0a3.3 3.3 0 1 0 -6.6 0M980.1 331.9a3.3 3.3 0 1 0 6.6 0a3.3 3.3 0 1 0 -6.6 0M994.1 337.6a3.3 3.3 0 1 0 6.6 0a3.3 3.3 0 1 0 -6.6 0M987.1 350.2a3.3 3.3 0 1 0 6.6 0a3.3 3.3 0 1 0 -6.6 0M1006.4 346.4a3.3 3.3 0 1 0 6.6 0a3.3 3.3 0 1 0 -6.6 0M1016.2 358a3.3 3.3 0 1 0 6.6 0a3.3 3.3 0 1 0 -6.6 0M1022.9 371.5a3.3 3.3 0 1 0 6.6 0a3.3 3.3 0 1 0 -6.6 0M1009.3 376.3a3.3 3.3 0 1 0 6.6 0a3.3 3.3 0 1 0 -6.6 0M1026.2 386.3a3.3 3.3 0 1 0 6.6 0a3.3 3.3 0 1 0 -6.6 0" fill="#dc6c2a"/>
<path d="M980.3 361.5L988.3 361.5M976.6 370.3L982.3 376M967.8 374L967.8 382M959 370.3L953.3 376M955.3 361.5L947.3 361.5M959 352.7L953.3 347M967.8 349L967.8 341M976.6 352.7L982.3 347M951.5 392.5L959.5 392.5M947.3 402.8L952.9 408.4M937 407L937 415M926.7 402.8L921.1 408.4M922.5 392.5L914.5 392.5M926.7 382.2L921.1 376.6M937 378L937 370M947.3 382.2L952.9 376.6M1014.5 388.5L1022.5 388.5M1010.1 399.1L1015.8 404.8M999.5 403.5L999.5 411.5M988.9 399.1L983.2 404.8M984.5 388.5L976.5 388.5M988.9 377.9L983.2 372.2M999.5 373.5L999.5 365.5M1010.1 377.9L1015.8 372.2M983.5 420.5L991.5 420.5M979.7 429.7L985.3 435.3M970.5 433.5L970.5 441.5M961.3 429.7L955.7 435.3M957.5 420.5L949.5 420.5M961.3 411.3L955.7 405.7M970.5 407.5L970.5 399.5M979.7 411.3L985.3 405.7" fill="none" stroke="#c9cfe3" stroke-width="1.6" stroke-linecap="butt" stroke-linejoin="round"/><path d="M979.3 366.3L986.7 369.3M972.6 373L975.6 380.4M963 373L960 380.4M956.3 366.3L948.9 369.3M956.3 356.7L948.9 353.7M963 350L960 342.6M972.6 350L975.6 342.6M979.3 356.7L986.7 353.7M950.4 398L957.8 401.1M942.5 405.9L945.6 413.3M931.5 405.9L928.4 413.3M923.6 398L916.2 401.1M923.6 387L916.2 383.9M931.5 379.1L928.4 371.7M942.5 379.1L945.6 371.7M950.4 387L957.8 383.9M1013.4 394.2L1020.7 397.3M1005.2 402.4L1008.3 409.7M993.8 402.4L990.7 409.7M985.6 394.2L978.3 397.3M985.6 382.8L978.3 379.7M993.8 374.6L990.7 367.3M1005.2 374.6L1008.3 367.3M1013.4 382.8L1020.7 379.7M982.5 425.5L989.9 428.5M975.5 432.5L978.5 439.9M965.5 432.5L962.5 439.9M958.5 425.5L951.1 428.5M958.5 415.5L951.1 412.5M965.5 408.5L962.5 401.1M975.5 408.5L978.5 401.1M982.5 415.5L989.9 412.5" fill="none" stroke="#f3d27a" stroke-width="1.6" stroke-linecap="butt" stroke-linejoin="round"/>
<path d="M957.3 361.5a10.5 10.5 0 1 0 21 0a10.5 10.5 0 1 0 -21 0M924.5 392.5a12.5 12.5 0 1 0 25 0a12.5 12.5 0 1 0 -25 0M986.5 388.5a13 13 0 1 0 26 0a13 13 0 1 0 -26 0M959.5 420.5a11 11 0 1 0 22 0a11 11 0 1 0 -22 0" fill="#ffffff"/><path d="M961.3 361.5a6.5 6.5 0 1 0 13 0a6.5 6.5 0 1 0 -13 0M928.5 392.5a8.5 8.5 0 1 0 17 0a8.5 8.5 0 1 0 -17 0M990.5 388.5a9 9 0 1 0 18 0a9 9 0 1 0 -18 0M963.5 420.5a7 7 0 1 0 14 0a7 7 0 1 0 -14 0" fill="#f4e6f6"/><path d="M977.9 361.5a1.4 1.4 0 1 0 2.8 0a1.4 1.4 0 1 0 -2.8 0M973.6 370.5a1.4 1.4 0 1 0 2.8 0a1.4 1.4 0 1 0 -2.8 0M963.8 372.7a1.4 1.4 0 1 0 2.8 0a1.4 1.4 0 1 0 -2.8 0M956 366.5a1.4 1.4 0 1 0 2.8 0a1.4 1.4 0 1 0 -2.8 0M956 356.5a1.4 1.4 0 1 0 2.8 0a1.4 1.4 0 1 0 -2.8 0M963.8 350.3a1.4 1.4 0 1 0 2.8 0a1.4 1.4 0 1 0 -2.8 0M973.6 352.5a1.4 1.4 0 1 0 2.8 0a1.4 1.4 0 1 0 -2.8 0M949.1 392.5a1.4 1.4 0 1 0 2.8 0a1.4 1.4 0 1 0 -2.8 0M944 403.1a1.4 1.4 0 1 0 2.8 0a1.4 1.4 0 1 0 -2.8 0M932.6 405.7a1.4 1.4 0 1 0 2.8 0a1.4 1.4 0 1 0 -2.8 0M923.4 398.4a1.4 1.4 0 1 0 2.8 0a1.4 1.4 0 1 0 -2.8 0M923.4 386.6a1.4 1.4 0 1 0 2.8 0a1.4 1.4 0 1 0 -2.8 0M932.6 379.3a1.4 1.4 0 1 0 2.8 0a1.4 1.4 0 1 0 -2.8 0M944 381.9a1.4 1.4 0 1 0 2.8 0a1.4 1.4 0 1 0 -2.8 0M1012.1 388.5a1.4 1.4 0 1 0 2.8 0a1.4 1.4 0 1 0 -2.8 0M1006.8 399.4a1.4 1.4 0 1 0 2.8 0a1.4 1.4 0 1 0 -2.8 0M995 402.1a1.4 1.4 0 1 0 2.8 0a1.4 1.4 0 1 0 -2.8 0M985.5 394.6a1.4 1.4 0 1 0 2.8 0a1.4 1.4 0 1 0 -2.8 0M985.5 382.4a1.4 1.4 0 1 0 2.8 0a1.4 1.4 0 1 0 -2.8 0M995 374.9a1.4 1.4 0 1 0 2.8 0a1.4 1.4 0 1 0 -2.8 0M1006.8 377.6a1.4 1.4 0 1 0 2.8 0a1.4 1.4 0 1 0 -2.8 0M981.1 420.5a1.4 1.4 0 1 0 2.8 0a1.4 1.4 0 1 0 -2.8 0M976.6 429.9a1.4 1.4 0 1 0 2.8 0a1.4 1.4 0 1 0 -2.8 0M966.4 432.2a1.4 1.4 0 1 0 2.8 0a1.4 1.4 0 1 0 -2.8 0M958.3 425.7a1.4 1.4 0 1 0 2.8 0a1.4 1.4 0 1 0 -2.8 0M958.3 415.3a1.4 1.4 0 1 0 2.8 0a1.4 1.4 0 1 0 -2.8 0M966.4 408.8a1.4 1.4 0 1 0 2.8 0a1.4 1.4 0 1 0 -2.8 0M976.6 411.1a1.4 1.4 0 1 0 2.8 0a1.4 1.4 0 1 0 -2.8 0" fill="#9a5a1a"/><path d="M976.8 366.5a1.4 1.4 0 1 0 2.8 0a1.4 1.4 0 1 0 -2.8 0M969 372.7a1.4 1.4 0 1 0 2.8 0a1.4 1.4 0 1 0 -2.8 0M959.2 370.5a1.4 1.4 0 1 0 2.8 0a1.4 1.4 0 1 0 -2.8 0M954.9 361.5a1.4 1.4 0 1 0 2.8 0a1.4 1.4 0 1 0 -2.8 0M959.2 352.5a1.4 1.4 0 1 0 2.8 0a1.4 1.4 0 1 0 -2.8 0M969 350.3a1.4 1.4 0 1 0 2.8 0a1.4 1.4 0 1 0 -2.8 0M976.8 356.5a1.4 1.4 0 1 0 2.8 0a1.4 1.4 0 1 0 -2.8 0M947.8 398.4a1.4 1.4 0 1 0 2.8 0a1.4 1.4 0 1 0 -2.8 0M938.6 405.7a1.4 1.4 0 1 0 2.8 0a1.4 1.4 0 1 0 -2.8 0M927.2 403.1a1.4 1.4 0 1 0 2.8 0a1.4 1.4 0 1 0 -2.8 0M922.1 392.5a1.4 1.4 0 1 0 2.8 0a1.4 1.4 0 1 0 -2.8 0M927.2 381.9a1.4 1.4 0 1 0 2.8 0a1.4 1.4 0 1 0 -2.8 0M938.6 379.3a1.4 1.4 0 1 0 2.8 0a1.4 1.4 0 1 0 -2.8 0M947.8 386.6a1.4 1.4 0 1 0 2.8 0a1.4 1.4 0 1 0 -2.8 0M1010.7 394.6a1.4 1.4 0 1 0 2.8 0a1.4 1.4 0 1 0 -2.8 0M1001.2 402.1a1.4 1.4 0 1 0 2.8 0a1.4 1.4 0 1 0 -2.8 0M989.4 399.4a1.4 1.4 0 1 0 2.8 0a1.4 1.4 0 1 0 -2.8 0M984.1 388.5a1.4 1.4 0 1 0 2.8 0a1.4 1.4 0 1 0 -2.8 0M989.4 377.6a1.4 1.4 0 1 0 2.8 0a1.4 1.4 0 1 0 -2.8 0M1001.2 374.9a1.4 1.4 0 1 0 2.8 0a1.4 1.4 0 1 0 -2.8 0M1010.7 382.4a1.4 1.4 0 1 0 2.8 0a1.4 1.4 0 1 0 -2.8 0M979.9 425.7a1.4 1.4 0 1 0 2.8 0a1.4 1.4 0 1 0 -2.8 0M971.8 432.2a1.4 1.4 0 1 0 2.8 0a1.4 1.4 0 1 0 -2.8 0M961.6 429.9a1.4 1.4 0 1 0 2.8 0a1.4 1.4 0 1 0 -2.8 0M957.1 420.5a1.4 1.4 0 1 0 2.8 0a1.4 1.4 0 1 0 -2.8 0M961.6 411.1a1.4 1.4 0 1 0 2.8 0a1.4 1.4 0 1 0 -2.8 0M971.8 408.8a1.4 1.4 0 1 0 2.8 0a1.4 1.4 0 1 0 -2.8 0M979.9 415.3a1.4 1.4 0 1 0 2.8 0a1.4 1.4 0 1 0 -2.8 0" fill="#c53a55"/><path d="M962.3 361.5q1.2 -3 2.6 0t2.6 0q1.2 -3 2.6 0t2.6 0q1.2 -3 2.6 0t2.6 0q1.2 -3 2.6 0t2.6 0M929.5 392.5q1.2 -3 2.6 0t2.6 0q1.2 -3 2.6 0t2.6 0q1.2 -3 2.6 0t2.6 0q1.2 -3 2.6 0t2.6 0M991.5 388.5q1.2 -3 2.6 0t2.6 0q1.2 -3 2.6 0t2.6 0q1.2 -3 2.6 0t2.6 0q1.2 -3 2.6 0t2.6 0M964.5 420.5q1.2 -3 2.6 0t2.6 0q1.2 -3 2.6 0t2.6 0q1.2 -3 2.6 0t2.6 0q1.2 -3 2.6 0t2.6 0" fill="none" stroke="#d7a0de" stroke-width=".8" stroke-linecap="butt" stroke-linejoin="round"/><path d="M1043.1 392.5a2.9 2.9 0 1 0 5.8 0a2.9 2.9 0 1 0 -5.8 0M1039.2 416.9a2.9 2.9 0 1 0 5.8 0a2.9 2.9 0 1 0 -5.8 0M1028 438.9a2.9 2.9 0 1 0 5.8 0a2.9 2.9 0 1 0 -5.8 0M1010.5 456.4a2.9 2.9 0 1 0 5.8 0a2.9 2.9 0 1 0 -5.8 0M988.5 467.6a2.9 2.9 0 1 0 5.8 0a2.9 2.9 0 1 0 -5.8 0M964.1 471.5a2.9 2.9 0 1 0 5.8 0a2.9 2.9 0 1 0 -5.8 0M939.7 467.6a2.9 2.9 0 1 0 5.8 0a2.9 2.9 0 1 0 -5.8 0M917.7 456.4a2.9 2.9 0 1 0 5.8 0a2.9 2.9 0 1 0 -5.8 0M900.2 438.9a2.9 2.9 0 1 0 5.8 0a2.9 2.9 0 1 0 -5.8 0M889 416.9a2.9 2.9 0 1 0 5.8 0a2.9 2.9 0 1 0 -5.8 0M885.1 392.5a2.9 2.9 0 1 0 5.8 0a2.9 2.9 0 1 0 -5.8 0M889 368.1a2.9 2.9 0 1 0 5.8 0a2.9 2.9 0 1 0 -5.8 0M900.2 346.1a2.9 2.9 0 1 0 5.8 0a2.9 2.9 0 1 0 -5.8 0M917.7 328.6a2.9 2.9 0 1 0 5.8 0a2.9 2.9 0 1 0 -5.8 0M939.7 317.4a2.9 2.9 0 1 0 5.8 0a2.9 2.9 0 1 0 -5.8 0M964.1 313.5a2.9 2.9 0 1 0 5.8 0a2.9 2.9 0 1 0 -5.8 0M988.5 317.4a2.9 2.9 0 1 0 5.8 0a2.9 2.9 0 1 0 -5.8 0M1010.5 328.6a2.9 2.9 0 1 0 5.8 0a2.9 2.9 0 1 0 -5.8 0M1028 346.1a2.9 2.9 0 1 0 5.8 0a2.9 2.9 0 1 0 -5.8 0M1039.2 368.1a2.9 2.9 0 1 0 5.8 0a2.9 2.9 0 1 0 -5.8 0" fill="#c8304f"/><path d="M1042.7 400.8a2.9 2.9 0 1 0 5.8 0a2.9 2.9 0 1 0 -5.8 0M1041.4 408.9a2.9 2.9 0 1 0 5.8 0a2.9 2.9 0 1 0 -5.8 0M1036.3 424.6a2.9 2.9 0 1 0 5.8 0a2.9 2.9 0 1 0 -5.8 0M1032.5 432a2.9 2.9 0 1 0 5.8 0a2.9 2.9 0 1 0 -5.8 0M1022.8 445.4a2.9 2.9 0 1 0 5.8 0a2.9 2.9 0 1 0 -5.8 0M1017 451.2a2.9 2.9 0 1 0 5.8 0a2.9 2.9 0 1 0 -5.8 0M1003.6 460.9a2.9 2.9 0 1 0 5.8 0a2.9 2.9 0 1 0 -5.8 0M996.2 464.7a2.9 2.9 0 1 0 5.8 0a2.9 2.9 0 1 0 -5.8 0M980.5 469.8a2.9 2.9 0 1 0 5.8 0a2.9 2.9 0 1 0 -5.8 0M972.4 471.1a2.9 2.9 0 1 0 5.8 0a2.9 2.9 0 1 0 -5.8 0M955.8 471.1a2.9 2.9 0 1 0 5.8 0a2.9 2.9 0 1 0 -5.8 0M947.7 469.8a2.9 2.9 0 1 0 5.8 0a2.9 2.9 0 1 0 -5.8 0M932 464.7a2.9 2.9 0 1 0 5.8 0a2.9 2.9 0 1 0 -5.8 0M924.6 460.9a2.9 2.9 0 1 0 5.8 0a2.9 2.9 0 1 0 -5.8 0M911.2 451.2a2.9 2.9 0 1 0 5.8 0a2.9 2.9 0 1 0 -5.8 0M905.4 445.4a2.9 2.9 0 1 0 5.8 0a2.9 2.9 0 1 0 -5.8 0M895.7 432a2.9 2.9 0 1 0 5.8 0a2.9 2.9 0 1 0 -5.8 0M891.9 424.6a2.9 2.9 0 1 0 5.8 0a2.9 2.9 0 1 0 -5.8 0M886.8 408.9a2.9 2.9 0 1 0 5.8 0a2.9 2.9 0 1 0 -5.8 0M885.5 400.8a2.9 2.9 0 1 0 5.8 0a2.9 2.9 0 1 0 -5.8 0M885.5 384.2a2.9 2.9 0 1 0 5.8 0a2.9 2.9 0 1 0 -5.8 0M886.8 376.1a2.9 2.9 0 1 0 5.8 0a2.9 2.9 0 1 0 -5.8 0M891.9 360.4a2.9 2.9 0 1 0 5.8 0a2.9 2.9 0 1 0 -5.8 0M895.7 353a2.9 2.9 0 1 0 5.8 0a2.9 2.9 0 1 0 -5.8 0M905.4 339.6a2.9 2.9 0 1 0 5.8 0a2.9 2.9 0 1 0 -5.8 0M911.2 333.8a2.9 2.9 0 1 0 5.8 0a2.9 2.9 0 1 0 -5.8 0M924.6 324.1a2.9 2.9 0 1 0 5.8 0a2.9 2.9 0 1 0 -5.8 0M932 320.3a2.9 2.9 0 1 0 5.8 0a2.9 2.9 0 1 0 -5.8 0M947.7 315.2a2.9 2.9 0 1 0 5.8 0a2.9 2.9 0 1 0 -5.8 0M955.8 313.9a2.9 2.9 0 1 0 5.8 0a2.9 2.9 0 1 0 -5.8 0M972.4 313.9a2.9 2.9 0 1 0 5.8 0a2.9 2.9 0 1 0 -5.8 0M980.5 315.2a2.9 2.9 0 1 0 5.8 0a2.9 2.9 0 1 0 -5.8 0M996.2 320.3a2.9 2.9 0 1 0 5.8 0a2.9 2.9 0 1 0 -5.8 0M1003.6 324.1a2.9 2.9 0 1 0 5.8 0a2.9 2.9 0 1 0 -5.8 0M1017 333.8a2.9 2.9 0 1 0 5.8 0a2.9 2.9 0 1 0 -5.8 0M1022.8 339.6a2.9 2.9 0 1 0 5.8 0a2.9 2.9 0 1 0 -5.8 0M1032.5 353a2.9 2.9 0 1 0 5.8 0a2.9 2.9 0 1 0 -5.8 0M1036.3 360.4a2.9 2.9 0 1 0 5.8 0a2.9 2.9 0 1 0 -5.8 0M1041.4 376.1a2.9 2.9 0 1 0 5.8 0a2.9 2.9 0 1 0 -5.8 0M1042.7 384.2a2.9 2.9 0 1 0 5.8 0a2.9 2.9 0 1 0 -5.8 0" fill="#eba032"/>
<path d="M1102.2,321 L1100.8,339 M1106.4,321 L1108.2,339" stroke="#aab3cc" stroke-width="1.8"/>
<circle cx="1104.4" cy="316.6" r="5.8" fill="#c9304f"/>
<path d="M1102.4,399 L1101,418 M1106.2,399 L1108.2,418" stroke="#f0cf78" stroke-width="1.8"/>
<circle cx="1104.4" cy="394.6" r="5.8" fill="#e8952a"/>
<circle cx="1103.5" cy="461.5" r="5.2" fill="#eb9a30"/>
<circle cx="1100.5" cy="472.5" r="5.2" fill="#d96a2a"/>
<circle cx="1107.5" cy="480.5" r="5.2" fill="#eb9a30"/>
<circle cx="1105.5" cy="490.5" r="5.2" fill="#d96a2a"/>
<g transform="translate(737.5,592) rotate(-38)"><rect x="-1.1" y="0" width="2.2" height="11" fill="#4aa5aa"/><rect x="-4.3" y="-12" width="8.6" height="13" rx="2" fill="#4fabb0"/></g>
<g transform="translate(760.7,585) rotate(0)"><rect x="-1.1" y="0" width="2.2" height="11" fill="#4aa5aa"/><rect x="-4.3" y="-12" width="8.6" height="13" rx="2" fill="#4fabb0"/></g>
<g transform="translate(776.5,587) rotate(12)"><rect x="-1.1" y="0" width="2.2" height="11" fill="#4aa5aa"/><rect x="-4.3" y="-12" width="8.6" height="13" rx="2" fill="#4fabb0"/></g>
<g transform="translate(787,593) rotate(36)"><rect x="-1.1" y="0" width="2.2" height="11" fill="#4aa5aa"/><rect x="-4.3" y="-12" width="8.6" height="13" rx="2" fill="#4fabb0"/></g>
<g transform="translate(746,593) rotate(-22)"><rect x="-3" y="-4" width="6" height="13" fill="#5c79bd"/></g>
<g transform="translate(748,584) rotate(-15)"><rect x="0" y="2" width="2" height="10" fill="#2b6f7d"/><circle cx="-3" cy="-2" r="3.6" fill="#2b6f7d"/><circle cx="3" cy="-2" r="3.6" fill="#2b6f7d"/><circle cx="-2" cy="-6" r="3.4" fill="#2b6f7d"/><circle cx="3" cy="-6.5" r="3.4" fill="#2b6f7d"/></g>
<polyline points="901.0,581.0 903.0,582.8 905.1,583.6 907.1,582.7 909.1,580.8 911.2,579.0 913.2,578.3 915.2,579.2 917.3,581.2 919.3,582.9 921.3,583.4 923.4,582.4 925.4,580.4 927.4,578.7 929.5,578.3 931.5,579.4 933.5,581.3 935.6,583.0 937.6,583.3 939.6,582.1 941.7,580.1 943.7,578.5 945.7,578.2 947.8,579.5 949.8,581.5 951.8,583.0 953.9,583.1 955.9,581.7 957.9,579.7 960.0,578.0 962.0,576.9 964.0,576.2 966.1,576.0 968.1,577.8 970.1,581.2 972.2,584.5 974.2,585.8 976.2,584.4 978.3,581.8 980.3,581.0 982.3,582.0 984.4,583.0 986.4,582.7 988.4,581.0 990.5,579.0 992.5,577.8 994.5,578.2 996.6,579.9 998.6,581.9 1000.6,582.9 1002.7,582.4 1004.7,580.6 1006.7,578.7 1008.8,577.7 1010.8,578.3 1012.8,580.1 1014.9,582.0 1016.9,582.8 1018.9,582.1 1021.0,580.2 1023.0,578.4" fill="none" stroke="#4a8fd5" stroke-width="5" stroke-linecap="round" stroke-linejoin="round"/>
<polyline points="901.0,596.5 903.0,598.4 905.1,599.1 907.1,598.3 909.1,596.4 911.2,594.5 913.2,593.9 915.2,594.8 917.3,596.8 919.3,598.5 921.3,599.1 923.4,598.1 925.4,596.1 927.4,594.4 929.5,593.9 931.5,595.1 933.5,597.0 935.6,598.7 937.6,599.0 939.6,597.8 941.7,595.8 943.7,594.2 945.7,594.0 947.8,595.3 949.8,597.3 951.8,598.8 953.9,598.8 955.9,596.9 957.9,594.0 960.0,592.1 962.0,592.5 964.0,594.8 966.1,597.4 968.1,598.9 970.1,598.8 972.2,597.3 974.2,595.3 976.2,594.0 978.3,594.2 980.3,595.8 982.3,597.8 984.4,599.0 986.4,598.7 988.4,597.1 990.5,595.1 992.5,593.9 994.5,594.4 996.6,596.1 998.6,598.0 1000.6,599.1 1002.7,598.6 1004.7,596.8 1006.7,594.9 1008.8,593.9 1010.8,594.5 1012.8,596.3 1014.9,598.2 1016.9,599.1 1018.9,598.4 1021.0,596.5 1023.0,594.7" fill="none" stroke="#4a8fd5" stroke-width="5" stroke-linecap="round" stroke-linejoin="round"/>
<polyline points="901.0,605.5 903.0,607.5 905.1,608.4 907.1,607.7 909.1,605.9 911.2,604.2 913.2,603.7 915.2,604.8 917.3,606.8 919.3,608.7 921.3,609.4 923.4,608.5 925.4,606.7 927.4,605.1 929.5,604.8 931.5,606.1 933.5,608.2 935.6,610.0 937.6,610.4 939.6,609.4 941.7,607.5 943.7,606.0 945.7,605.9 947.8,607.4 949.8,609.5 951.8,611.2 953.9,611.4 955.9,610.2 957.9,608.3 960.0,607.0 962.0,607.1 964.0,608.7 966.1,610.8 968.1,612.3 970.1,612.4 972.2,611.0 974.2,609.1 976.2,608.0 978.3,608.3 980.3,610.0 982.3,612.1 984.4,613.5 986.4,613.3 988.4,611.8 990.5,610.0 992.5,608.9 994.5,609.5 996.6,611.3 998.6,613.4 1000.6,614.6 1002.7,614.2 1004.7,612.6 1006.7,610.8 1008.8,610.0 1010.8,610.7 1012.8,612.7 1014.9,614.7 1016.9,615.7 1018.9,615.1 1021.0,613.4 1023.0,611.7" fill="none" stroke="#4a8fd5" stroke-width="5" stroke-linecap="round" stroke-linejoin="round"/>
<polyline points="901.0,620.0 903.0,622.0 905.1,622.8 907.1,622.1 909.1,620.3 911.2,618.6 913.2,618.1 915.2,619.2 917.3,621.2 919.3,623.1 921.3,623.7 923.4,622.8 925.4,621.0 927.4,619.4 929.5,619.1 931.5,620.3 933.5,622.4 935.6,624.2 937.6,624.6 939.6,623.5 941.7,621.7 943.7,620.2 945.7,620.1 947.8,621.5 949.8,623.6 951.8,625.2 953.9,625.5 955.9,624.2 957.9,622.3 960.0,621.0 962.0,621.1 964.0,622.7 966.1,624.8 968.1,626.5 970.1,627.2 972.2,627.3 974.2,626.9 976.2,625.5 978.3,624.2 980.3,624.5 982.3,626.1 984.4,627.3 986.4,627.1 988.4,625.6 990.5,623.7 992.5,622.7 994.5,623.2 996.6,625.0 998.6,627.1 1000.6,628.3 1002.7,627.9 1004.7,626.3 1006.7,624.4 1008.8,623.6 1010.8,624.3 1012.8,626.2 1014.9,628.3 1016.9,629.2 1018.9,628.7 1021.0,626.9 1023.0,625.2" fill="none" stroke="#4a8fd5" stroke-width="5" stroke-linecap="round" stroke-linejoin="round"/>
<path d="M960,590 C966,600 962,610 968,618 S970,626 968,630" fill="none" stroke="#4a8fd5" stroke-width="4.5" stroke-linecap="round"/>
<path d="M975,598 C968,604 972,610 966,614" fill="none" stroke="#4a8fd5" stroke-width="4.5" stroke-linecap="round"/>
<polyline points="734.0,767.0 734.8,768.0 735.6,768.6 736.5,768.5 737.3,767.6 738.1,766.2 739.0,764.5 739.8,763.1 740.6,762.3 741.4,762.3 742.2,763.0 743.1,764.0 743.9,765.1 744.7,765.7 745.5,765.5 746.4,764.7 747.2,763.3 748.0,761.7 748.9,760.4 749.7,759.8 750.5,759.9 751.3,760.8 752.1,762.0 753.0,763.1 753.8,763.7 754.6,763.7 755.5,762.9 756.3,761.6 757.1,760.1 757.9,759.1 758.8,758.6 759.6,759.0 760.4,760.0 761.2,762.4 762.0,764.6 762.9,766.3 763.7,767.3 764.5,767.5 765.4,767.3 766.2,766.9 767.0,766.9 767.8,767.6 768.6,769.1 769.5,771.1 770.3,773.5 771.1,774.6 772.0,775.2 772.8,775.1 773.6,774.2 774.4,772.9 775.2,771.5 776.1,770.5 776.9,770.2 777.7,770.7 778.5,771.8 779.4,773.1 780.2,774.2 781.0,774.7 781.9,774.5 782.7,773.6 783.5,772.2 784.3,770.8 785.1,769.9 786.0,769.7 786.8,770.2 787.6,771.3 788.5,772.6 789.3,773.7 790.1,774.2 790.9,773.9 791.8,772.9 792.6,771.5 793.4,770.2 794.2,769.3 795.0,769.2 795.9,769.8 796.7,770.9 797.5,772.2 798.4,773.2 799.2,773.6 800.0,773.3" fill="none" stroke="#6f9ec3" stroke-width="2.0" stroke-linecap="round" stroke-linejoin="round"/>
<polyline points="735.0,781.0 735.8,782.0 736.6,782.6 737.5,782.5 738.3,781.6 739.1,780.2 740.0,778.5 740.8,777.1 741.6,776.3 742.4,776.3 743.2,777.0 744.1,778.0 744.9,779.1 745.7,779.7 746.5,779.5 747.4,778.7 748.2,777.3 749.0,775.7 749.9,774.4 750.7,773.8 751.5,773.9 752.3,774.8 753.1,776.0 754.0,777.1 754.8,777.7 755.6,777.7 756.5,776.9 757.3,775.6 758.1,774.1 758.9,773.1 759.8,772.6 760.6,773.0 761.4,774.0 762.2,776.4 763.0,778.6 763.9,780.3 764.7,781.3 765.5,781.5 766.4,781.3 767.2,780.9 768.0,780.9 768.8,781.6 769.6,783.1 770.5,785.1 771.3,787.5 772.1,788.6 773.0,789.2 773.8,789.1 774.6,788.2 775.4,786.9 776.2,785.5 777.1,784.5 777.9,784.2 778.7,784.7 779.5,785.8 780.4,787.1 781.2,788.2 782.0,788.7 782.9,788.5 783.7,787.6 784.5,786.2 785.3,784.8 786.1,783.9 787.0,783.7 787.8,784.2 788.6,785.3 789.5,786.6 790.3,787.7 791.1,788.2 791.9,787.9 792.8,786.9 793.6,785.5 794.4,784.2 795.2,783.3 796.0,783.2 796.9,783.8 797.7,784.9 798.5,786.2 799.4,787.2 800.2,787.6 801.0,787.3" fill="none" stroke="#6f9ec3" stroke-width="2.0" stroke-linecap="round" stroke-linejoin="round"/>
<polyline points="736.0,795.0 736.8,796.0 737.6,796.6 738.5,796.5 739.3,795.6 740.1,794.2 741.0,792.5 741.8,791.1 742.6,790.3 743.4,790.3 744.2,791.0 745.1,792.0 745.9,793.1 746.7,793.7 747.5,793.5 748.4,792.7 749.2,791.3 750.0,789.7 750.9,788.4 751.7,787.8 752.5,787.9 753.3,788.8 754.1,790.0 755.0,791.1 755.8,791.7 756.6,791.7 757.5,790.9 758.3,789.6 759.1,788.1 759.9,787.1 760.8,786.6 761.6,787.0 762.4,788.0 763.2,790.4 764.0,792.6 764.9,794.3 765.7,795.3 766.5,795.5 767.4,795.3 768.2,794.9 769.0,794.9 769.8,795.6 770.6,797.1 771.5,799.1 772.3,801.5 773.1,802.6 774.0,803.2 774.8,803.1 775.6,802.2 776.4,800.9 777.2,799.5 778.1,798.5 778.9,798.2 779.7,798.7 780.5,799.8 781.4,801.1 782.2,802.2 783.0,802.7 783.9,802.5 784.7,801.6 785.5,800.2 786.3,798.8 787.1,797.9 788.0,797.7 788.8,798.2 789.6,799.3 790.5,800.6 791.3,801.7 792.1,802.2 792.9,801.9 793.8,800.9 794.6,799.5 795.4,798.2 796.2,797.3 797.0,797.2 797.9,797.8 798.7,798.9 799.5,800.2 800.4,801.2 801.2,801.6 802.0,801.3" fill="none" stroke="#6f9ec3" stroke-width="2.0" stroke-linecap="round" stroke-linejoin="round"/>
<polyline points="937.0,777.0 937.9,778.1 938.8,779.1 939.6,779.9 940.5,780.4 941.4,780.6 942.3,780.4 943.2,779.9 944.1,779.0 945.0,778.0 945.8,776.9 946.7,775.8 947.6,774.8 948.5,774.0 949.4,773.5 950.2,773.4 951.1,773.6 952.0,774.2 952.9,775.0 953.8,776.1 954.7,777.2 955.5,778.3 956.4,779.3 957.3,780.1 958.2,780.5 959.1,780.6 960.0,780.3 960.9,779.7 961.7,778.9 962.6,777.8 963.5,776.7 964.4,775.6 965.3,774.6 966.1,773.9 967.0,773.5 967.9,773.4 968.8,773.7 969.7,774.3 970.6,775.2 971.5,776.3 972.3,777.4 973.2,778.5 974.1,779.5 975.0,780.2 975.9,780.5 976.8,780.6 977.6,780.2 978.5,779.6 979.4,778.7 980.3,777.6 981.2,776.5 982.0,775.4 982.9,774.5 983.8,773.8 984.7,773.4 985.6,773.4 986.5,773.8 987.4,774.5 988.2,775.4 989.1,776.5 990.0,777.6" fill="none" stroke="#d796d5" stroke-width="2.0" stroke-linecap="round" stroke-linejoin="round"/>
<polyline points="937.0,788.5 937.9,789.6 938.8,790.6 939.6,791.4 940.5,791.9 941.4,792.1 942.3,791.9 943.2,791.4 944.1,790.5 945.0,789.5 945.8,788.4 946.7,787.3 947.6,786.3 948.5,785.5 949.4,785.0 950.2,784.9 951.1,785.1 952.0,785.7 952.9,786.5 953.8,787.6 954.7,788.7 955.5,789.8 956.4,790.8 957.3,791.6 958.2,792.0 959.1,792.1 960.0,791.8 960.9,791.2 961.7,790.4 962.6,789.3 963.5,788.2 964.4,787.1 965.3,786.1 966.1,785.4 967.0,785.0 967.9,784.9 968.8,785.2 969.7,785.8 970.6,786.7 971.5,787.8 972.3,788.9 973.2,790.0 974.1,791.0 975.0,791.7 975.9,792.0 976.8,792.1 977.6,791.7 978.5,791.1 979.4,790.2 980.3,789.1 981.2,788.0 982.0,786.9 982.9,786.0 983.8,785.3 984.7,784.9 985.6,784.9 986.5,785.3 987.4,786.0 988.2,786.9 989.1,788.0 990.0,789.1" fill="none" stroke="#d796d5" stroke-width="2.0" stroke-linecap="round" stroke-linejoin="round"/>
<polyline points="937.0,800.0 937.9,801.1 938.8,802.1 939.6,802.9 940.5,803.4 941.4,803.6 942.3,803.4 943.2,802.9 944.1,802.0 945.0,801.0 945.8,799.9 946.7,798.8 947.6,797.8 948.5,797.0 949.4,796.5 950.2,796.4 951.1,796.6 952.0,797.2 952.9,798.0 953.8,799.1 954.7,800.2 955.5,801.3 956.4,802.3 957.3,803.1 958.2,803.5 959.1,803.6 960.0,803.3 960.9,802.7 961.7,801.9 962.6,800.8 963.5,799.7 964.4,798.6 965.3,797.6 966.1,796.9 967.0,796.5 967.9,796.4 968.8,796.7 969.7,797.3 970.6,798.2 971.5,799.3 972.3,800.4 973.2,801.5 974.1,802.5 975.0,803.2 975.9,803.5 976.8,803.6 977.6,803.2 978.5,802.6 979.4,801.7 980.3,800.6 981.2,799.5 982.0,798.4 982.9,797.5 983.8,796.8 984.7,796.4 985.6,796.4 986.5,796.8 987.4,797.5 988.2,798.4 989.1,799.5 990.0,800.6" fill="none" stroke="#d796d5" stroke-width="2.0" stroke-linecap="round" stroke-linejoin="round"/>
<defs><path id="bw0" d="M139 1.9l1 .5l1 -.4l1 -1.1l1 -1.4l1 -1.2l1 -.4l1 .5l1 1.2l1 1.5l1 1.3l1 .6l1 -.3l1 -1.1l1 -1.4l1 -1.2l1 -.5l1 .4l1 1.2l1 1.5l1 1.3l1 .6l1 -.3l1 -1.1l1 -1.4l1 -1.2l1 -.6l1 .3l1 1.1l1 1.5l1 1.3l1 .6l1 -.3l1 -1.1l1 -1.5l1 -1.3l1 -.7l1 .2l1 1l1 1.4l1 1.3l1 .7l1 -.2l1 -1l1 -1.5l1 -1.4l1 -.7l1 .2l1 1l1 1.4l1 1.3l1 .7l1 -.2l1 -1l1 -1.5l1 -1.4l1 -.8l1 .1l1 .9l1 1.4l1 1.3l1 .7l1 -.1l1 -1l1 -1.5l1 -1.4l1 -.9l1 0l1 .9l1 1.4l1 1.3"/><path id="bw1" d="M139 -.5l.9 -1.3l.9 -.7l.9 .1l.9 .9l.9 1.3l.9 1.3l.9 .8l.9 0l.9 -.8l.9 -1.3l.9 -1.4l.9 -1.1l.9 -.4l.9 .5l.9 1.1l.9 1.4l.9 1.1l.9 .5l.9 -.3l.9 -1l.9 -1.4l.9 -1.3l.9 -.8l.9 -0l.9 .8l.9 1.3l.9 1.4l.9 .9l.9 .2l.9 -.6l.9 -1.2l.9 -1.4l.9 -1.1l.9 -.5l.9 .3l.9 1l.9 1.4l.9 1.3l.9 .7l.9 -.1l.9 -.8l.9 -1.3l.9 -1.3l.9 -.9l.9 -.1l.9 .7l.9 1.3l.9 1.4l.9 1.1l.9 .4l.9 -.4l.9 -1.1l.9 -1.4l.9 -1.2l.9 -.6l.9 .2l.9 1l.9 1.4l.9 1.4l.9 .9l.9 .1l.9 -.7l.9 -1.2l.9 -1.3l.9 -1l.9 -.3l.9 .5l.9 1.2l.9 1.4l.9 1.2"/><path id="bw2" d="M139 -.1l.9 -1.5l.9 -1l.9 -.2l.9 .6l.9 1.1l.9 1.2l.9 .9l.9 .2l.9 -.6l.9 -1.3l.9 -1.5l.9 -1.3l.9 -.7l.9 .1l.9 .8l.9 1.2l.9 1.2l.9 .7l.9 -.1l.9 -.9l.9 -1.4l.9 -1.5l.9 -1.1l.9 -.4l.9 .4l.9 1.1l.9 1.3l.9 1.1l.9 .5l.9 -.3l.9 -1l.9 -1.4l.9 -1.3l.9 -.8l.9 0l.9 .8l.9 1.3l.9 1.4l.9 1l.9 .3l.9 -.5l.9 -1.1l.9 -1.3l.9 -1.1l.9 -.4l.9 .4l.9 1.1l.9 1.5l.9 1.4l.9 .8l.9 .1l.9 -.7l.9 -1.2l.9 -1.2l.9 -.8l.9 -.1l.9 .7l.9 1.3l.9 1.5l.9 1.3l.9 .6l.9 -.2l.9 -.9l.9 -1.2l.9 -1.1l.9 -.5l.9 .2l.9 1l.9 1.5l.9 1.5"/><path id="bw3" d="M139 1l1 .9l1 .1l1 -.8l1 -1.5l1 -1.6l1 -1.2l1 -.3l1 .6l1 1.2l1 1.3l1 .9l1 -0l1 -.9l1 -1.5l1 -1.6l1 -1l1 -.2l1 .8l1 1.3l1 1.3l1 .8l1 -.1l1 -1l1 -1.5l1 -1.5l1 -.9l1 0l1 .9l1 1.4l1 1.3l1 .7l1 -.2l1 -1l1 -1.5l1 -1.4l1 -.7l1 .3l1 1.1l1 1.5l1 1.3l1 .7l1 -.3l1 -1.1l1 -1.4l1 -1.2l1 -.5l1 .5l1 1.3l1 1.6l1 1.3l1 .6l1 -.4l1 -1.1l1 -1.4l1 -1.1l1 -.3l1 .6l1 1.4l1 1.6l1 1.3l1 .5l1 -.5l1 -1.2l1 -1.4l1 -1l1 -.1l1 .8l1 1.5l1 1.6l1 1.2"/><path id="bw4" d="M139 -2.1l1 .9l1 1.4l1 1.2l1 .5l1 -.4l1 -1.3l1 -1.6l1 -1.4l1 -.7l1 .2l1 1l1 1.4l1 1.1l1 .4l1 -.5l1 -1.3l1 -1.6l1 -1.3l1 -.5l1 .4l1 1.2l1 1.4l1 1.1l1 .3l1 -.6l1 -1.3l1 -1.5l1 -1.2l1 -.4l1 .6l1 1.3l1 1.5l1 1.1l1 .3l1 -.7l1 -1.3l1 -1.5l1 -1l1 -.2l1 .7l1 1.4l1 1.5l1 1l1 .2l1 -.7l1 -1.3l1 -1.4l1 -.9l1 -0l1 .9l1 1.5l1 1.5l1 1l1 .1l1 -.8l1 -1.3l1 -1.3l1 -.7l1 .2l1 1.1l1 1.6l1 1.5l1 .9l1 0l1 -.9l1 -1.3l1 -1.2l1 -.6l1 .3l1 1.2"/><path id="bw5" d="M139 -1.7l1 -.5l1 .4l1 1.2l1 1.6l1 1.5l1 .9l1 .1l1 -.7l1 -1.2l1 -1.2l1 -.7l1 .1l1 .9l1 1.5l1 1.5l1 1.1l1 .3l1 -.6l1 -1.2l1 -1.3l1 -.9l1 -.2l1 .7l1 1.3l1 1.5l1 1.2l1 .5l1 -.4l1 -1.1l1 -1.4l1 -1.2l1 -.5l1 .4l1 1.1l1 1.4l1 1.3l1 .6l1 -.3l1 -1l1 -1.5l1 -1.4l1 -.8l1 .1l1 .9l1 1.3l1 1.3l1 .8l1 -.1l1 -.9l1 -1.5l1 -1.5l1 -1l1 -.2l1 .6l1 1.2l1 1.3l1 .9l1 .1l1 -.8l1 -1.4l1 -1.6l1 -1.2l1 -.5l1 .4l1 1l1 1.3l1 1l1 .3l1 -.6l1 -1.3"/><path id="bw6" d="M139 1.5l1 -1.3l1 -1.3l1 -.7l1 .3l1 1.2l1 1.7l1 1.5l1 .8l1 -.2l1 -1l1 -1.4l1 -1.1l1 -.3l1 .7l1 1.4l1 1.7l1 1.3l1 .4l1 -.6l1 -1.3l1 -1.4l1 -.9l1 0l1 1l1 1.6l1 1.5l1 .9l1 -.1l1 -1l1 -1.5l1 -1.3l1 -.6l1 .4l1 1.2l1 1.5l1 1.2l1 .4l1 -.6l1 -1.4l1 -1.6l1 -1.1l1 -.3l1 .7l1 1.4l1 1.4l1 .9l1 -.1l1 -1l1 -1.6l1 -1.5l1 -.9l1 .1l1 1l1 1.4l1 1.2l1 .4l1 -.6l1 -1.4l1 -1.7l1 -1.4l1 -.5l1 .5l1 1.2l1 1.4l1 .9l1 -0l1 -1l1 -1.6l1 -1.6l1 -1.1"/><path id="bw7" d="M139 -1.9l.9 1.1l.9 1.3l.9 1.1l.9 .5l.9 -.3l.9 -1.1l.9 -1.4l.9 -1.4l.9 -.9l.9 -.1l.9 .7l.9 1.2l.9 1.3l.9 .9l.9 .2l.9 -.6l.9 -1.2l.9 -1.4l.9 -1.2l.9 -.6l.9 .2l.9 .9l.9 1.3l.9 1.3l.9 .7l.9 -0l.9 -.8l.9 -1.3l.9 -1.4l.9 -1l.9 -.3l.9 .5l.9 1.2l.9 1.4l.9 1.2l.9 .5l.9 -.3l.9 -1l.9 -1.4l.9 -1.3l.9 -.8l.9 0l.9 .8l.9 1.3l.9 1.4l.9 1l.9 .3l.9 -.5l.9 -1.1l.9 -1.3l.9 -1.1l.9 -.5l.9 .3l.9 1l.9 1.4l.9 1.3l.9 .8l.9 .1l.9 -.7l.9 -1.2l.9 -1.3l.9 -.9l.9 -.2l.9 .6l.9 1.2l.9 1.5l.9 1.2l.9 .6l.9 -.2l.9 -.9"/><path id="bw8" d="M139 1.6l1 .7l1 -.2l1 -1l1 -1.4l1 -1.4l1 -.9l1 -.2l1 .7l1 1.2l1 1.3l1 1l1 .2l1 -.6l1 -1.3l1 -1.5l1 -1.2l1 -.5l1 .3l1 1l1 1.4l1 1.2l1 .6l1 -.2l1 -1l1 -1.4l1 -1.4l1 -.8l1 -0l1 .8l1 1.3l1 1.4l1 .9l1 .2l1 -.7l1 -1.3l1 -1.4l1 -1.1l1 -.4l1 .5l1 1.2l1 1.4l1 1.2l1 .6l1 -.3l1 -1l1 -1.4l1 -1.3l1 -.7l1 .1l1 .9l1 1.4l1 1.4l1 .9l1 .1l1 -.7l1 -1.2l1 -1.3l1 -1l1 -.2l1 .6l1 1.3l1 1.5l1 1.2l1 .5l1 -.3l1 -1l1 -1.3l1 -1.2l1 -.6l1 .3"/><path id="bw9" d="M139 2.2l1.1 .2l1.1 -.9l1.1 -1.5l1.1 -1.5l1.1 -.7l1.1 .3l1.1 1.3l1.1 1.6l1.1 1.3l1.1 .4l1.1 -.7l1.1 -1.5l1.1 -1.5l1.1 -.9l1.1 .2l1.1 1.1l1.1 1.6l1.1 1.4l1.1 .5l1.1 -.6l1.1 -1.4l1.1 -1.6l1.1 -1l1.1 -0l1.1 1l1.1 1.6l1.1 1.5l1.1 .7l1.1 -.4l1.1 -1.3l1.1 -1.6l1.1 -1.2l1.1 -.2l1.1 .9l1.1 1.5l1.1 1.5l1.1 .8l1.1 -.3l1.1 -1.2l1.1 -1.6l1.1 -1.3l1.1 -.4l1.1 .7l1.1 1.4l1.1 1.6l1.1 .9l1.1 -.1l1.1 -1.1l1.1 -1.6l1.1 -1.4l1.1 -.6l1.1 .5l1.1 1.4l1.1 1.6l1.1 1.1l1.1 .1l1.1 -1l1.1 -1.6l1.1 -1.5l1.1 -.7l1.1 .3l1.1 1.2l1.1 1.6l1.1 1.2l1.1 .2l1.1 -.8l1.1 -1.5l1.1 -1.6l1.1 -.9l1.1 .2"/></defs>
<g transform="translate(1378.5,586.5)" fill="none" stroke="#4b92d6" stroke-width="2.8" stroke-linecap="round" stroke-linejoin="round"><use href="#bw5" transform="rotate(0.2)"/><use href="#bw1" transform="rotate(2.0)"/><use href="#bw9" transform="rotate(5.5)"/><use href="#bw8" transform="rotate(7.6)"/><use href="#bw5" transform="rotate(10.6)"/><use href="#bw7" transform="rotate(13.4)"/><use href="#bw3" transform="rotate(15.9)"/><use href="#bw3" transform="rotate(19.3)"/><use href="#bw4" transform="rotate(20.8)"/><use href="#bw5" transform="rotate(24.2)"/><use href="#bw4" transform="rotate(27.2)"/><use href="#bw1" transform="rotate(29.7)"/><use href="#bw6" transform="rotate(31.6)"/><use href="#bw5" transform="rotate(34.4)"/><use href="#bw7" transform="rotate(37.1)"/><use href="#bw1" transform="rotate(40.2)"/><use href="#bw9" transform="rotate(43.4)"/><use href="#bw5" transform="rotate(46.1)"/><use href="#bw5" transform="rotate(48.1)"/><use href="#bw9" transform="rotate(51.2)"/><use href="#bw1" transform="rotate(54.2)"/><use href="#bw4" transform="rotate(57.0)"/><use href="#bw1" transform="rotate(59.1)"/><use href="#bw4" transform="rotate(61.1)"/><use href="#bw7" transform="rotate(64.7)"/><use href="#bw6" transform="rotate(66.8)"/><use href="#bw5" transform="rotate(70.5)"/><use href="#bw7" transform="rotate(71.8)"/><use href="#bw9" transform="rotate(75.0)"/><use href="#bw0" transform="rotate(77.3)"/><use href="#bw4" transform="rotate(80.1)"/><use href="#bw3" transform="rotate(82.7)"/><use href="#bw7" transform="rotate(85.8)"/><use href="#bw7" transform="rotate(88.0)"/><use href="#bw4" transform="rotate(91.2)"/><use href="#bw6" transform="rotate(94.6)"/><use href="#bw4" transform="rotate(97.3)"/><use href="#bw5" transform="rotate(99.7)"/><use href="#bw6" transform="rotate(102.4)"/><use href="#bw2" transform="rotate(105.5)"/><use href="#bw2" transform="rotate(106.8)"/><use href="#bw3" transform="rotate(109.7)"/><use href="#bw9" transform="rotate(112.1)"/><use href="#bw4" transform="rotate(115.0)"/><use href="#bw6" transform="rotate(117.4)"/><use href="#bw9" transform="rotate(121.0)"/><use href="#bw2" transform="rotate(123.7)"/><use href="#bw8" transform="rotate(126.6)"/><use href="#bw0" transform="rotate(129.7)"/><use href="#bw8" transform="rotate(131.6)"/><use href="#bw6" transform="rotate(134.2)"/><use href="#bw7" transform="rotate(136.8)"/><use href="#bw0" transform="rotate(139.9)"/><use href="#bw3" transform="rotate(141.9)"/><use href="#bw1" transform="rotate(145.0)"/><use href="#bw0" transform="rotate(147.5)"/><use href="#bw9" transform="rotate(149.8)"/><use href="#bw1" transform="rotate(152.6)"/><use href="#bw9" transform="rotate(156.5)"/><use href="#bw3" transform="rotate(157.7)"/><use href="#bw2" transform="rotate(161.4)"/><use href="#bw5" transform="rotate(164.1)"/><use href="#bw7" transform="rotate(166.7)"/><use href="#bw7" transform="rotate(168.7)"/><use href="#bw7" transform="rotate(172.7)"/><use href="#bw4" transform="rotate(174.6)"/><use href="#bw1" transform="rotate(176.7)"/><use href="#bw4" transform="rotate(180.4)"/><use href="#bw2" transform="rotate(182.7)"/><use href="#bw3" transform="rotate(185.4)"/><use href="#bw8" transform="rotate(188.8)"/><use href="#bw8" transform="rotate(190.5)"/><use href="#bw8" transform="rotate(194.1)"/><use href="#bw1" transform="rotate(195.8)"/><use href="#bw4" transform="rotate(199.1)"/><use href="#bw2" transform="rotate(201.5)"/><use href="#bw3" transform="rotate(203.9)"/><use href="#bw8" transform="rotate(206.9)"/><use href="#bw3" transform="rotate(209.3)"/><use href="#bw3" transform="rotate(212.4)"/><use href="#bw6" transform="rotate(215.4)"/><use href="#bw3" transform="rotate(218.0)"/><use href="#bw7" transform="rotate(219.8)"/><use href="#bw0" transform="rotate(222.8)"/><use href="#bw4" transform="rotate(226.5)"/><use href="#bw3" transform="rotate(228.3)"/><use href="#bw5" transform="rotate(231.4)"/><use href="#bw5" transform="rotate(233.6)"/><use href="#bw5" transform="rotate(237.1)"/><use href="#bw1" transform="rotate(238.4)"/><use href="#bw3" transform="rotate(241.4)"/><use href="#bw7" transform="rotate(244.2)"/><use href="#bw9" transform="rotate(247.4)"/><use href="#bw7" transform="rotate(250.4)"/><use href="#bw5" transform="rotate(253.2)"/><use href="#bw1" transform="rotate(255.7)"/><use href="#bw1" transform="rotate(258.4)"/><use href="#bw3" transform="rotate(261.3)"/><use href="#bw2" transform="rotate(263.2)"/><use href="#bw5" transform="rotate(265.9)"/><use href="#bw6" transform="rotate(268.0)"/><use href="#bw1" transform="rotate(271.3)"/><use href="#bw2" transform="rotate(274.4)"/><use href="#bw0" transform="rotate(277.5)"/><use href="#bw7" transform="rotate(278.8)"/><use href="#bw2" transform="rotate(282.6)"/><use href="#bw9" transform="rotate(285.0)"/><use href="#bw5" transform="rotate(288.2)"/><use href="#bw8" transform="rotate(289.6)"/><use href="#bw0" transform="rotate(292.2)"/><use href="#bw1" transform="rotate(296.0)"/><use href="#bw2" transform="rotate(298.3)"/><use href="#bw3" transform="rotate(300.8)"/><use href="#bw3" transform="rotate(304.1)"/><use href="#bw3" transform="rotate(305.5)"/><use href="#bw3" transform="rotate(308.6)"/><use href="#bw5" transform="rotate(312.1)"/><use href="#bw6" transform="rotate(313.9)"/><use href="#bw0" transform="rotate(317.5)"/><use href="#bw5" transform="rotate(320.4)"/><use href="#bw9" transform="rotate(323.0)"/><use href="#bw8" transform="rotate(325.6)"/><use href="#bw8" transform="rotate(327.6)"/><use href="#bw2" transform="rotate(329.9)"/><use href="#bw0" transform="rotate(333.2)"/><use href="#bw2" transform="rotate(336.4)"/><use href="#bw2" transform="rotate(338.7)"/><use href="#bw7" transform="rotate(340.7)"/><use href="#bw1" transform="rotate(344.1)"/><use href="#bw5" transform="rotate(346.7)"/><use href="#bw8" transform="rotate(349.5)"/><use href="#bw1" transform="rotate(352.0)"/><use href="#bw0" transform="rotate(355.2)"/><use href="#bw4" transform="rotate(356.9)"/></g>
<circle cx="1378.5" cy="586.5" r="133.2" fill="#fefae9"/>
<path d="M1505 584.3L1481.7 583.9M1505 588.7L1481.7 589.1M1499.5 623.5L1477.4 615.9M1498.2 627.7L1475.9 620.8M1482.1 659.1L1463.5 645.1M1479.6 662.6L1460.5 649.2M1454.6 687.6L1441.2 668.5M1451.1 690.1L1437.1 671.5M1419.7 706.2L1412.8 683.9M1415.5 707.5L1407.9 685.4M1380.7 713L1381.1 689.7M1376.3 713L1375.9 689.7M1341.5 707.5L1349.1 685.4M1337.3 706.2L1344.2 683.9M1305.9 690.1L1319.9 671.5M1302.4 687.6L1315.8 668.5M1277.4 662.6L1296.5 649.2M1274.9 659.1L1293.5 645.1M1258.8 627.7L1281.1 620.8M1257.5 623.5L1279.6 615.9M1252 588.7L1275.3 589.1M1252 584.3L1275.3 583.9M1257.5 549.5L1279.6 557.1M1258.8 545.3L1281.1 552.2M1274.9 513.9L1293.5 527.9M1277.4 510.4L1296.5 523.8M1302.4 485.4L1315.8 504.5M1305.9 482.9L1319.9 501.5M1337.3 466.8L1344.2 489.1M1341.5 465.5L1349.1 487.6M1376.3 460L1375.9 483.3M1380.7 460L1381.1 483.3M1415.5 465.5L1407.9 487.6M1419.7 466.8L1412.8 489.1M1451.1 482.9L1437.1 501.5M1454.6 485.4L1441.2 504.5M1479.6 510.4L1460.5 523.8M1482.1 513.9L1463.5 527.9M1498.2 545.3L1475.9 552.2M1499.5 549.5L1477.4 557.1" fill="none" stroke="#c6cde3" stroke-width="2.3" stroke-linecap="butt" stroke-linejoin="round"/><path d="M1504.6 597.6L1481.4 594.7M1504.1 601.9L1480.9 599.8M1502.7 610.7L1480 605.4M1501.8 614.9L1478.9 610.5M1495 636L1473.8 626.1M1493.2 640L1471.7 630.8M1489.2 647.9L1469.2 635.9M1487 651.7L1466.6 640.3M1474 669.5L1456.9 653.6M1471.1 672.8L1453.5 657.5M1464.8 679.1L1449.5 661.5M1461.5 682L1445.6 664.9M1443.7 695L1432.3 674.6M1439.9 697.2L1427.9 677.2M1432 701.2L1422.8 679.7M1428 703L1418.1 681.8M1406.9 709.8L1402.5 686.9M1402.7 710.7L1397.4 688M1393.9 712.1L1391.8 688.9M1389.6 712.6L1386.7 689.4M1367.4 712.6L1370.3 689.4M1363.1 712.1L1365.2 688.9M1354.3 710.7L1359.6 688M1350.1 709.8L1354.5 686.9M1329 703L1338.9 681.8M1325 701.2L1334.2 679.7M1317.1 697.2L1329.1 677.2M1313.3 695L1324.7 674.6M1295.5 682L1311.4 664.9M1292.2 679.1L1307.5 661.5M1285.9 672.8L1303.5 657.5M1283 669.5L1300.1 653.6M1270 651.7L1290.4 640.3M1267.8 647.9L1287.8 635.9M1263.8 640L1285.3 630.8M1262 636L1283.2 626.1M1255.2 614.9L1278.1 610.5M1254.3 610.7L1277 605.4M1252.9 601.9L1276.1 599.8M1252.4 597.6L1275.6 594.7M1252.4 575.4L1275.6 578.3M1252.9 571.1L1276.1 573.2M1254.3 562.3L1277 567.6M1255.2 558.1L1278.1 562.5M1262 537L1283.2 546.9M1263.8 533L1285.3 542.2M1267.8 525.1L1287.8 537.1M1270 521.3L1290.4 532.7M1283 503.5L1300.1 519.4M1285.9 500.2L1303.5 515.5M1292.2 493.9L1307.5 511.5M1295.5 491L1311.4 508.1M1313.3 478L1324.7 498.4M1317.1 475.8L1329.1 495.8M1325 471.8L1334.2 493.3M1329 470L1338.9 491.2M1350.1 463.2L1354.5 486.1M1354.3 462.3L1359.6 485M1363.1 460.9L1365.2 484.1M1367.4 460.4L1370.3 483.6M1389.6 460.4L1386.7 483.6M1393.9 460.9L1391.8 484.1M1402.7 462.3L1397.4 485M1406.9 463.2L1402.5 486.1M1428 470L1418.1 491.2M1432 471.8L1422.8 493.3M1439.9 475.8L1427.9 495.8M1443.7 478L1432.3 498.4M1461.5 491L1445.6 508.1M1464.8 493.9L1449.5 511.5M1471.1 500.2L1453.5 515.5M1474 503.5L1456.9 519.4M1487 521.3L1466.6 532.7M1489.2 525.1L1469.2 537.1M1493.2 533L1471.7 542.2M1495 537L1473.8 546.9M1501.8 558.1L1478.9 562.5M1502.7 562.3L1480 567.6M1504.1 571.1L1480.9 573.2M1504.6 575.4L1481.4 578.3" fill="none" stroke="#f7dc8e" stroke-width="2.3" stroke-linecap="butt" stroke-linejoin="round"/><path d="M1489.3 593.6a5.5 5.5 0 1 0 11 0a5.5 5.5 0 1 0 -11 0M1465.4 592.2a5.5 5.5 0 1 0 11 0a5.5 5.5 0 1 0 -11 0M1484.3 621.2a5.5 5.5 0 1 0 11 0a5.5 5.5 0 1 0 -11 0M1461.4 614.1a5.5 5.5 0 1 0 11 0a5.5 5.5 0 1 0 -11 0M1472.7 646.9a5.5 5.5 0 1 0 11 0a5.5 5.5 0 1 0 -11 0M1452.2 634.4a5.5 5.5 0 1 0 11 0a5.5 5.5 0 1 0 -11 0M1455.4 669a5.5 5.5 0 1 0 11 0a5.5 5.5 0 1 0 -11 0M1438.4 652a5.5 5.5 0 1 0 11 0a5.5 5.5 0 1 0 -11 0M1433.2 686.3a5.5 5.5 0 1 0 11 0a5.5 5.5 0 1 0 -11 0M1420.8 665.8a5.5 5.5 0 1 0 11 0a5.5 5.5 0 1 0 -11 0M1407.6 697.8a5.5 5.5 0 1 0 11 0a5.5 5.5 0 1 0 -11 0M1400.5 674.9a5.5 5.5 0 1 0 11 0a5.5 5.5 0 1 0 -11 0M1380 702.8a5.5 5.5 0 1 0 11 0a5.5 5.5 0 1 0 -11 0M1378.5 678.9a5.5 5.5 0 1 0 11 0a5.5 5.5 0 1 0 -11 0M1351.9 701.1a5.5 5.5 0 1 0 11 0a5.5 5.5 0 1 0 -11 0M1356.3 677.5a5.5 5.5 0 1 0 11 0a5.5 5.5 0 1 0 -11 0M1325.1 692.7a5.5 5.5 0 1 0 11 0a5.5 5.5 0 1 0 -11 0M1335 670.9a5.5 5.5 0 1 0 11 0a5.5 5.5 0 1 0 -11 0M1301.1 678.2a5.5 5.5 0 1 0 11 0a5.5 5.5 0 1 0 -11 0M1315.9 659.3a5.5 5.5 0 1 0 11 0a5.5 5.5 0 1 0 -11 0M1281.2 658.3a5.5 5.5 0 1 0 11 0a5.5 5.5 0 1 0 -11 0M1300.1 643.5a5.5 5.5 0 1 0 11 0a5.5 5.5 0 1 0 -11 0M1266.7 634.3a5.5 5.5 0 1 0 11 0a5.5 5.5 0 1 0 -11 0M1288.6 624.4a5.5 5.5 0 1 0 11 0a5.5 5.5 0 1 0 -11 0M1258.4 607.4a5.5 5.5 0 1 0 11 0a5.5 5.5 0 1 0 -11 0M1281.9 603.1a5.5 5.5 0 1 0 11 0a5.5 5.5 0 1 0 -11 0M1256.7 579.4a5.5 5.5 0 1 0 11 0a5.5 5.5 0 1 0 -11 0M1280.6 580.8a5.5 5.5 0 1 0 11 0a5.5 5.5 0 1 0 -11 0M1261.8 551.8a5.5 5.5 0 1 0 11 0a5.5 5.5 0 1 0 -11 0M1284.6 558.9a5.5 5.5 0 1 0 11 0a5.5 5.5 0 1 0 -11 0M1273.3 526.1a5.5 5.5 0 1 0 11 0a5.5 5.5 0 1 0 -11 0M1293.8 538.6a5.5 5.5 0 1 0 11 0a5.5 5.5 0 1 0 -11 0M1290.6 504a5.5 5.5 0 1 0 11 0a5.5 5.5 0 1 0 -11 0M1307.6 521a5.5 5.5 0 1 0 11 0a5.5 5.5 0 1 0 -11 0M1312.8 486.7a5.5 5.5 0 1 0 11 0a5.5 5.5 0 1 0 -11 0M1325.2 507.2a5.5 5.5 0 1 0 11 0a5.5 5.5 0 1 0 -11 0M1338.4 475.2a5.5 5.5 0 1 0 11 0a5.5 5.5 0 1 0 -11 0M1345.5 498.1a5.5 5.5 0 1 0 11 0a5.5 5.5 0 1 0 -11 0M1366 470.2a5.5 5.5 0 1 0 11 0a5.5 5.5 0 1 0 -11 0M1367.5 494.1a5.5 5.5 0 1 0 11 0a5.5 5.5 0 1 0 -11 0M1394.1 471.9a5.5 5.5 0 1 0 11 0a5.5 5.5 0 1 0 -11 0M1389.8 495.5a5.5 5.5 0 1 0 11 0a5.5 5.5 0 1 0 -11 0M1420.9 480.3a5.5 5.5 0 1 0 11 0a5.5 5.5 0 1 0 -11 0M1411.1 502.1a5.5 5.5 0 1 0 11 0a5.5 5.5 0 1 0 -11 0M1444.9 494.8a5.5 5.5 0 1 0 11 0a5.5 5.5 0 1 0 -11 0M1430.1 513.7a5.5 5.5 0 1 0 11 0a5.5 5.5 0 1 0 -11 0M1464.8 514.7a5.5 5.5 0 1 0 11 0a5.5 5.5 0 1 0 -11 0M1445.9 529.5a5.5 5.5 0 1 0 11 0a5.5 5.5 0 1 0 -11 0M1479.3 538.7a5.5 5.5 0 1 0 11 0a5.5 5.5 0 1 0 -11 0M1457.4 548.6a5.5 5.5 0 1 0 11 0a5.5 5.5 0 1 0 -11 0M1487.7 565.6a5.5 5.5 0 1 0 11 0a5.5 5.5 0 1 0 -11 0M1464.1 569.9a5.5 5.5 0 1 0 11 0a5.5 5.5 0 1 0 -11 0" fill="#eb9a30"/><path d="M1476.5 601.4a5.5 5.5 0 1 0 11 0a5.5 5.5 0 1 0 -11 0M1452.8 598a5.5 5.5 0 1 0 11 0a5.5 5.5 0 1 0 -11 0M1469.9 625.7a5.5 5.5 0 1 0 11 0a5.5 5.5 0 1 0 -11 0M1457.7 647.8a5.5 5.5 0 1 0 11 0a5.5 5.5 0 1 0 -11 0M1440.6 666.3a5.5 5.5 0 1 0 11 0a5.5 5.5 0 1 0 -11 0M1425.1 648a5.5 5.5 0 1 0 11 0a5.5 5.5 0 1 0 -11 0M1419.5 680.1a5.5 5.5 0 1 0 11 0a5.5 5.5 0 1 0 -11 0M1395.8 688.6a5.5 5.5 0 1 0 11 0a5.5 5.5 0 1 0 -11 0M1370.7 691a5.5 5.5 0 1 0 11 0a5.5 5.5 0 1 0 -11 0M1371.2 667.1a5.5 5.5 0 1 0 11 0a5.5 5.5 0 1 0 -11 0M1345.7 687.4a5.5 5.5 0 1 0 11 0a5.5 5.5 0 1 0 -11 0M1322.4 678a5.5 5.5 0 1 0 11 0a5.5 5.5 0 1 0 -11 0M1301.9 663.2a5.5 5.5 0 1 0 11 0a5.5 5.5 0 1 0 -11 0M1318.2 645.6a5.5 5.5 0 1 0 11 0a5.5 5.5 0 1 0 -11 0M1285.7 644a5.5 5.5 0 1 0 11 0a5.5 5.5 0 1 0 -11 0M1274.4 621.4a5.5 5.5 0 1 0 11 0a5.5 5.5 0 1 0 -11 0M1269 596.8a5.5 5.5 0 1 0 11 0a5.5 5.5 0 1 0 -11 0M1292.8 594.4a5.5 5.5 0 1 0 11 0a5.5 5.5 0 1 0 -11 0M1269.5 571.6a5.5 5.5 0 1 0 11 0a5.5 5.5 0 1 0 -11 0M1276.1 547.3a5.5 5.5 0 1 0 11 0a5.5 5.5 0 1 0 -11 0M1288.3 525.2a5.5 5.5 0 1 0 11 0a5.5 5.5 0 1 0 -11 0M1307.7 539.3a5.5 5.5 0 1 0 11 0a5.5 5.5 0 1 0 -11 0M1305.4 506.7a5.5 5.5 0 1 0 11 0a5.5 5.5 0 1 0 -11 0M1326.5 492.9a5.5 5.5 0 1 0 11 0a5.5 5.5 0 1 0 -11 0M1350.3 484.4a5.5 5.5 0 1 0 11 0a5.5 5.5 0 1 0 -11 0M1355.5 507.8a5.5 5.5 0 1 0 11 0a5.5 5.5 0 1 0 -11 0M1375.3 482a5.5 5.5 0 1 0 11 0a5.5 5.5 0 1 0 -11 0M1400.3 485.6a5.5 5.5 0 1 0 11 0a5.5 5.5 0 1 0 -11 0M1423.6 495a5.5 5.5 0 1 0 11 0a5.5 5.5 0 1 0 -11 0M1412 516a5.5 5.5 0 1 0 11 0a5.5 5.5 0 1 0 -11 0M1444.1 509.8a5.5 5.5 0 1 0 11 0a5.5 5.5 0 1 0 -11 0M1460.4 529a5.5 5.5 0 1 0 11 0a5.5 5.5 0 1 0 -11 0M1471.6 551.6a5.5 5.5 0 1 0 11 0a5.5 5.5 0 1 0 -11 0M1449 559.6a5.5 5.5 0 1 0 11 0a5.5 5.5 0 1 0 -11 0M1477.1 576.2a5.5 5.5 0 1 0 11 0a5.5 5.5 0 1 0 -11 0" fill="#dc6c2a"/>
<path d="M1400.6 534.9L1414 534.9M1394.5 549.6L1404 559M1379.8 555.7L1379.8 569M1365.1 549.6L1355.7 559M1359 534.9L1345.7 534.9M1365.1 520.2L1355.7 510.7M1379.8 514.1L1379.8 500.8M1394.5 520.2L1404 510.7M1352.7 586.5L1366 586.5M1345.6 603.6L1355 613M1328.5 610.6L1328.5 624M1311.5 603.6L1302.1 613M1304.4 586.5L1291.1 586.5M1311.5 569.4L1302.1 560M1328.5 562.4L1328.5 549M1345.6 569.4L1355 560M1457.6 579.8L1470.9 579.8M1450.3 597.5L1459.7 606.9M1432.6 604.8L1432.6 618.1M1415 597.5L1405.5 606.9M1407.6 579.8L1394.3 579.8M1415 562.2L1405.5 552.8M1432.6 554.9L1432.6 541.5M1450.3 562.2L1459.7 552.8M1406 633.1L1419.3 633.1M1399.6 648.4L1409.1 657.8M1384.3 654.8L1384.3 668.1M1369 648.4L1359.6 657.8M1362.7 633.1L1349.4 633.1M1369 617.8L1359.6 608.4M1384.3 611.5L1384.3 598.2M1399.6 617.8L1409.1 608.4" fill="none" stroke="#c9cfe3" stroke-width="2.7" stroke-linecap="butt" stroke-linejoin="round"/><path d="M1399.1 542.8L1411.4 547.9M1387.8 554.1L1392.9 566.4M1371.9 554.1L1366.8 566.4M1360.6 542.8L1348.3 547.9M1360.6 526.9L1348.3 521.8M1371.9 515.7L1366.8 503.4M1387.8 515.7L1392.9 503.4M1399.1 526.9L1411.4 521.8M1350.9 595.7L1363.2 600.8M1337.8 608.8L1342.9 621.1M1319.3 608.8L1314.2 621.1M1306.2 595.7L1293.9 600.8M1306.2 577.3L1293.9 572.2M1319.3 564.2L1314.2 551.9M1337.8 564.2L1342.9 551.9M1350.9 577.3L1363.2 572.2M1455.7 589.4L1468 594.5M1442.2 602.9L1447.3 615.2M1423.1 602.9L1418 615.2M1409.5 589.4L1397.2 594.5M1409.5 570.3L1397.2 565.2M1423.1 556.8L1418 544.5M1442.2 556.8L1447.3 544.5M1455.7 570.3L1468 565.2M1404.3 641.4L1416.6 646.5M1392.6 653.1L1397.7 665.4M1376 653.1L1370.9 665.4M1364.3 641.4L1352 646.5M1364.3 624.8L1352 619.7M1376 613.1L1370.9 600.8M1392.6 613.1L1397.7 600.8M1404.3 624.8L1416.6 619.7" fill="none" stroke="#f3d27a" stroke-width="2.7" stroke-linecap="butt" stroke-linejoin="round"/>
<path d="M1362.3 534.9a17.5 17.5 0 1 0 35 0a17.5 17.5 0 1 0 -35 0M1307.7 586.5a20.8 20.8 0 1 0 41.6 0a20.8 20.8 0 1 0 -41.6 0M1411 579.8a21.6 21.6 0 1 0 43.3 0a21.6 21.6 0 1 0 -43.3 0M1366 633.1a18.3 18.3 0 1 0 36.6 0a18.3 18.3 0 1 0 -36.6 0" fill="#ffffff"/><path d="M1369 534.9a10.8 10.8 0 1 0 21.6 0a10.8 10.8 0 1 0 -21.6 0M1314.4 586.5a14.2 14.2 0 1 0 28.3 0a14.2 14.2 0 1 0 -28.3 0M1417.6 579.8a15 15 0 1 0 30 0a15 15 0 1 0 -30 0M1372.7 633.1a11.7 11.7 0 1 0 23.3 0a11.7 11.7 0 1 0 -23.3 0" fill="#f4e6f6"/><path d="M1396.6 534.9a2.3 2.3 0 1 0 4.7 0a2.3 2.3 0 1 0 -4.7 0M1389.4 549.9a2.3 2.3 0 1 0 4.7 0a2.3 2.3 0 1 0 -4.7 0M1373.2 553.6a2.3 2.3 0 1 0 4.7 0a2.3 2.3 0 1 0 -4.7 0M1360.2 543.2a2.3 2.3 0 1 0 4.7 0a2.3 2.3 0 1 0 -4.7 0M1360.2 526.6a2.3 2.3 0 1 0 4.7 0a2.3 2.3 0 1 0 -4.7 0M1373.2 516.2a2.3 2.3 0 1 0 4.7 0a2.3 2.3 0 1 0 -4.7 0M1389.4 519.9a2.3 2.3 0 1 0 4.7 0a2.3 2.3 0 1 0 -4.7 0M1348.7 586.5a2.3 2.3 0 1 0 4.7 0a2.3 2.3 0 1 0 -4.7 0M1340.2 604.1a2.3 2.3 0 1 0 4.7 0a2.3 2.3 0 1 0 -4.7 0M1321.2 608.4a2.3 2.3 0 1 0 4.7 0a2.3 2.3 0 1 0 -4.7 0M1306 596.3a2.3 2.3 0 1 0 4.7 0a2.3 2.3 0 1 0 -4.7 0M1306 576.7a2.3 2.3 0 1 0 4.7 0a2.3 2.3 0 1 0 -4.7 0M1321.2 564.6a2.3 2.3 0 1 0 4.7 0a2.3 2.3 0 1 0 -4.7 0M1340.2 568.9a2.3 2.3 0 1 0 4.7 0a2.3 2.3 0 1 0 -4.7 0M1453.6 579.8a2.3 2.3 0 1 0 4.7 0a2.3 2.3 0 1 0 -4.7 0M1444.8 598.1a2.3 2.3 0 1 0 4.7 0a2.3 2.3 0 1 0 -4.7 0M1425.1 602.6a2.3 2.3 0 1 0 4.7 0a2.3 2.3 0 1 0 -4.7 0M1409.3 590a2.3 2.3 0 1 0 4.7 0a2.3 2.3 0 1 0 -4.7 0M1409.3 569.7a2.3 2.3 0 1 0 4.7 0a2.3 2.3 0 1 0 -4.7 0M1425.1 557.1a2.3 2.3 0 1 0 4.7 0a2.3 2.3 0 1 0 -4.7 0M1444.8 561.6a2.3 2.3 0 1 0 4.7 0a2.3 2.3 0 1 0 -4.7 0M1402 633.1a2.3 2.3 0 1 0 4.7 0a2.3 2.3 0 1 0 -4.7 0M1394.5 648.7a2.3 2.3 0 1 0 4.7 0a2.3 2.3 0 1 0 -4.7 0M1377.6 652.6a2.3 2.3 0 1 0 4.7 0a2.3 2.3 0 1 0 -4.7 0M1364 641.8a2.3 2.3 0 1 0 4.7 0a2.3 2.3 0 1 0 -4.7 0M1364 624.5a2.3 2.3 0 1 0 4.7 0a2.3 2.3 0 1 0 -4.7 0M1377.6 613.6a2.3 2.3 0 1 0 4.7 0a2.3 2.3 0 1 0 -4.7 0M1394.5 617.5a2.3 2.3 0 1 0 4.7 0a2.3 2.3 0 1 0 -4.7 0" fill="#9a5a1a"/><path d="M1394.8 543.2a2.3 2.3 0 1 0 4.7 0a2.3 2.3 0 1 0 -4.7 0M1381.8 553.6a2.3 2.3 0 1 0 4.7 0a2.3 2.3 0 1 0 -4.7 0M1365.6 549.9a2.3 2.3 0 1 0 4.7 0a2.3 2.3 0 1 0 -4.7 0M1358.4 534.9a2.3 2.3 0 1 0 4.7 0a2.3 2.3 0 1 0 -4.7 0M1365.6 519.9a2.3 2.3 0 1 0 4.7 0a2.3 2.3 0 1 0 -4.7 0M1381.8 516.2a2.3 2.3 0 1 0 4.7 0a2.3 2.3 0 1 0 -4.7 0M1394.8 526.6a2.3 2.3 0 1 0 4.7 0a2.3 2.3 0 1 0 -4.7 0M1346.5 596.3a2.3 2.3 0 1 0 4.7 0a2.3 2.3 0 1 0 -4.7 0M1331.2 608.4a2.3 2.3 0 1 0 4.7 0a2.3 2.3 0 1 0 -4.7 0M1312.2 604.1a2.3 2.3 0 1 0 4.7 0a2.3 2.3 0 1 0 -4.7 0M1303.7 586.5a2.3 2.3 0 1 0 4.7 0a2.3 2.3 0 1 0 -4.7 0M1312.2 568.9a2.3 2.3 0 1 0 4.7 0a2.3 2.3 0 1 0 -4.7 0M1331.2 564.6a2.3 2.3 0 1 0 4.7 0a2.3 2.3 0 1 0 -4.7 0M1346.5 576.7a2.3 2.3 0 1 0 4.7 0a2.3 2.3 0 1 0 -4.7 0M1451.3 590a2.3 2.3 0 1 0 4.7 0a2.3 2.3 0 1 0 -4.7 0M1435.5 602.6a2.3 2.3 0 1 0 4.7 0a2.3 2.3 0 1 0 -4.7 0M1415.7 598.1a2.3 2.3 0 1 0 4.7 0a2.3 2.3 0 1 0 -4.7 0M1407 579.8a2.3 2.3 0 1 0 4.7 0a2.3 2.3 0 1 0 -4.7 0M1415.7 561.6a2.3 2.3 0 1 0 4.7 0a2.3 2.3 0 1 0 -4.7 0M1435.5 557.1a2.3 2.3 0 1 0 4.7 0a2.3 2.3 0 1 0 -4.7 0M1451.3 569.7a2.3 2.3 0 1 0 4.7 0a2.3 2.3 0 1 0 -4.7 0M1400 641.8a2.3 2.3 0 1 0 4.7 0a2.3 2.3 0 1 0 -4.7 0M1386.4 652.6a2.3 2.3 0 1 0 4.7 0a2.3 2.3 0 1 0 -4.7 0M1369.5 648.7a2.3 2.3 0 1 0 4.7 0a2.3 2.3 0 1 0 -4.7 0M1362 633.1a2.3 2.3 0 1 0 4.7 0a2.3 2.3 0 1 0 -4.7 0M1369.5 617.5a2.3 2.3 0 1 0 4.7 0a2.3 2.3 0 1 0 -4.7 0M1386.4 613.6a2.3 2.3 0 1 0 4.7 0a2.3 2.3 0 1 0 -4.7 0M1400 624.5a2.3 2.3 0 1 0 4.7 0a2.3 2.3 0 1 0 -4.7 0" fill="#c53a55"/><path d="M1370.7 534.9q2 -5 4.3 0t4.3 0q2 -5 4.3 0t4.3 0q2 -5 4.3 0t4.3 0q2 -5 4.3 0t4.3 0M1316.1 586.5q2 -5 4.3 0t4.3 0q2 -5 4.3 0t4.3 0q2 -5 4.3 0t4.3 0q2 -5 4.3 0t4.3 0M1419.3 579.8q2 -5 4.3 0t4.3 0q2 -5 4.3 0t4.3 0q2 -5 4.3 0t4.3 0q2 -5 4.3 0t4.3 0M1374.3 633.1q2 -5 4.3 0t4.3 0q2 -5 4.3 0t4.3 0q2 -5 4.3 0t4.3 0q2 -5 4.3 0t4.3 0" fill="none" stroke="#d7a0de" stroke-width="1.3" stroke-linecap="butt" stroke-linejoin="round"/><path d="M1505.2 586.5a4.8 4.8 0 1 0 9.7 0a4.8 4.8 0 1 0 -9.7 0M1498.8 627.1a4.8 4.8 0 1 0 9.7 0a4.8 4.8 0 1 0 -9.7 0M1480.1 663.8a4.8 4.8 0 1 0 9.7 0a4.8 4.8 0 1 0 -9.7 0M1451 692.9a4.8 4.8 0 1 0 9.7 0a4.8 4.8 0 1 0 -9.7 0M1414.3 711.6a4.8 4.8 0 1 0 9.7 0a4.8 4.8 0 1 0 -9.7 0M1373.7 718a4.8 4.8 0 1 0 9.7 0a4.8 4.8 0 1 0 -9.7 0M1333 711.6a4.8 4.8 0 1 0 9.7 0a4.8 4.8 0 1 0 -9.7 0M1296.4 692.9a4.8 4.8 0 1 0 9.7 0a4.8 4.8 0 1 0 -9.7 0M1267.3 663.8a4.8 4.8 0 1 0 9.7 0a4.8 4.8 0 1 0 -9.7 0M1248.6 627.1a4.8 4.8 0 1 0 9.7 0a4.8 4.8 0 1 0 -9.7 0M1242.1 586.5a4.8 4.8 0 1 0 9.7 0a4.8 4.8 0 1 0 -9.7 0M1248.6 545.9a4.8 4.8 0 1 0 9.7 0a4.8 4.8 0 1 0 -9.7 0M1267.3 509.2a4.8 4.8 0 1 0 9.7 0a4.8 4.8 0 1 0 -9.7 0M1296.4 480.1a4.8 4.8 0 1 0 9.7 0a4.8 4.8 0 1 0 -9.7 0M1333 461.4a4.8 4.8 0 1 0 9.7 0a4.8 4.8 0 1 0 -9.7 0M1373.7 455a4.8 4.8 0 1 0 9.7 0a4.8 4.8 0 1 0 -9.7 0M1414.3 461.4a4.8 4.8 0 1 0 9.7 0a4.8 4.8 0 1 0 -9.7 0M1451 480.1a4.8 4.8 0 1 0 9.7 0a4.8 4.8 0 1 0 -9.7 0M1480.1 509.2a4.8 4.8 0 1 0 9.7 0a4.8 4.8 0 1 0 -9.7 0M1498.8 545.9a4.8 4.8 0 1 0 9.7 0a4.8 4.8 0 1 0 -9.7 0" fill="#c8304f"/><path d="M1504.5 600.2a4.8 4.8 0 1 0 9.7 0a4.8 4.8 0 1 0 -9.7 0M1502.3 613.8a4.8 4.8 0 1 0 9.7 0a4.8 4.8 0 1 0 -9.7 0M1493.8 640a4.8 4.8 0 1 0 9.7 0a4.8 4.8 0 1 0 -9.7 0M1487.6 652.3a4.8 4.8 0 1 0 9.7 0a4.8 4.8 0 1 0 -9.7 0M1471.4 674.5a4.8 4.8 0 1 0 9.7 0a4.8 4.8 0 1 0 -9.7 0M1461.7 684.2a4.8 4.8 0 1 0 9.7 0a4.8 4.8 0 1 0 -9.7 0M1439.4 700.4a4.8 4.8 0 1 0 9.7 0a4.8 4.8 0 1 0 -9.7 0M1427.2 706.7a4.8 4.8 0 1 0 9.7 0a4.8 4.8 0 1 0 -9.7 0M1401 715.2a4.8 4.8 0 1 0 9.7 0a4.8 4.8 0 1 0 -9.7 0M1387.4 717.3a4.8 4.8 0 1 0 9.7 0a4.8 4.8 0 1 0 -9.7 0M1359.9 717.3a4.8 4.8 0 1 0 9.7 0a4.8 4.8 0 1 0 -9.7 0M1346.3 715.2a4.8 4.8 0 1 0 9.7 0a4.8 4.8 0 1 0 -9.7 0M1320.2 706.7a4.8 4.8 0 1 0 9.7 0a4.8 4.8 0 1 0 -9.7 0M1307.9 700.4a4.8 4.8 0 1 0 9.7 0a4.8 4.8 0 1 0 -9.7 0M1285.7 684.2a4.8 4.8 0 1 0 9.7 0a4.8 4.8 0 1 0 -9.7 0M1275.9 674.5a4.8 4.8 0 1 0 9.7 0a4.8 4.8 0 1 0 -9.7 0M1259.8 652.3a4.8 4.8 0 1 0 9.7 0a4.8 4.8 0 1 0 -9.7 0M1253.5 640a4.8 4.8 0 1 0 9.7 0a4.8 4.8 0 1 0 -9.7 0M1245 613.8a4.8 4.8 0 1 0 9.7 0a4.8 4.8 0 1 0 -9.7 0M1242.9 600.2a4.8 4.8 0 1 0 9.7 0a4.8 4.8 0 1 0 -9.7 0M1242.9 572.8a4.8 4.8 0 1 0 9.7 0a4.8 4.8 0 1 0 -9.7 0M1245 559.2a4.8 4.8 0 1 0 9.7 0a4.8 4.8 0 1 0 -9.7 0M1253.5 533a4.8 4.8 0 1 0 9.7 0a4.8 4.8 0 1 0 -9.7 0M1259.8 520.7a4.8 4.8 0 1 0 9.7 0a4.8 4.8 0 1 0 -9.7 0M1275.9 498.5a4.8 4.8 0 1 0 9.7 0a4.8 4.8 0 1 0 -9.7 0M1285.7 488.8a4.8 4.8 0 1 0 9.7 0a4.8 4.8 0 1 0 -9.7 0M1307.9 472.6a4.8 4.8 0 1 0 9.7 0a4.8 4.8 0 1 0 -9.7 0M1320.2 466.3a4.8 4.8 0 1 0 9.7 0a4.8 4.8 0 1 0 -9.7 0M1346.3 457.8a4.8 4.8 0 1 0 9.7 0a4.8 4.8 0 1 0 -9.7 0M1359.9 455.7a4.8 4.8 0 1 0 9.7 0a4.8 4.8 0 1 0 -9.7 0M1387.4 455.7a4.8 4.8 0 1 0 9.7 0a4.8 4.8 0 1 0 -9.7 0M1401 457.8a4.8 4.8 0 1 0 9.7 0a4.8 4.8 0 1 0 -9.7 0M1427.2 466.3a4.8 4.8 0 1 0 9.7 0a4.8 4.8 0 1 0 -9.7 0M1439.4 472.6a4.8 4.8 0 1 0 9.7 0a4.8 4.8 0 1 0 -9.7 0M1461.7 488.8a4.8 4.8 0 1 0 9.7 0a4.8 4.8 0 1 0 -9.7 0M1471.4 498.5a4.8 4.8 0 1 0 9.7 0a4.8 4.8 0 1 0 -9.7 0M1487.6 520.7a4.8 4.8 0 1 0 9.7 0a4.8 4.8 0 1 0 -9.7 0M1493.8 533a4.8 4.8 0 1 0 9.7 0a4.8 4.8 0 1 0 -9.7 0M1502.3 559.2a4.8 4.8 0 1 0 9.7 0a4.8 4.8 0 1 0 -9.7 0M1504.5 572.8a4.8 4.8 0 1 0 9.7 0a4.8 4.8 0 1 0 -9.7 0" fill="#eba032"/>
<defs><clipPath id="fclip"><polygon points="1305,1534 1314,1540 1323,1546 1330,1554 1337,1561 1344,1569 1350,1577 1356,1585 1361,1593 1367,1602 1372,1610 1377,1617 1383,1625 1389,1632 1395,1638 1401,1644 1408,1650 1414,1655 1421,1660 1428,1665 1435,1669 1442,1673 1449,1677 1456,1680 1464,1683 1472,1686 1480,1689 1488,1692 1497,1695 1489,1697 1481,1700 1474,1702 1466,1705 1459,1708 1452,1711 1445,1715 1438,1719 1431,1723 1424,1727 1418,1732 1411,1737 1404,1742 1398,1748 1392,1755 1386,1761 1380,1768 1375,1775 1369,1782 1363,1790 1357,1797 1351,1804 1345,1812 1339,1819 1333,1826 1327,1834 1321,1841 1314,1848 1200,1848 1200,1534"/></clipPath>
<radialGradient id="vbody" cx="0.45" cy="0.45" r="0.6"><stop offset="0" stop-color="#da655c"/><stop offset="0.7" stop-color="#cf5650"/><stop offset="1" stop-color="#b94641"/></radialGradient>
<clipPath id="cav"><ellipse cx="235.5" cy="1665.5" rx="95" ry="124"/></clipPath>
<path id="vtub0" d="M163.6 1736.9Q169.1 1747.7 179.1 1741Q190.9 1738.6 187.1 1727.2Q189.4 1739 200.9 1735.3M273.5 1550.3Q269.9 1538.8 258.9 1543.8Q270.9 1542.3 268.1 1530.6Q260.5 1521.3 252.1 1529.8M262.1 1716.5Q259.6 1704.7 248.2 1708.5Q236.4 1706.1 235.4 1718.1Q242.3 1708.2 231.7 1702.5M330.3 1704Q324 1693.8 314.5 1701.2Q326.5 1700.1 324 1688.3Q329.7 1677.7 318.4 1673.3M219.1 1763.5Q222 1751.9 210.1 1750.3Q222 1749.1 219.5 1737.4Q230.2 1731.9 223.5 1721.9M168.9 1759Q159.7 1766.8 168.4 1775Q170.2 1786.9 181.8 1783.8Q173 1792 182.1 1799.8M235.3 1611.8Q226.5 1603.6 219.3 1613.2Q211.5 1604.1 203.4 1612.9Q195.2 1621.8 205 1628.9M238.2 1789.1Q242.3 1777.7 230.6 1775Q221.5 1767.1 214.7 1777Q207.3 1786.5 217.5 1792.8M268.6 1655.3Q256.5 1655.1 257.7 1667.1Q261.1 1678.6 272.2 1673.9Q260.2 1674.7 262.4 1686.5M136.4 1687.5Q127.5 1679.4 120.5 1689.2Q114.4 1678.8 104.8 1686Q93.9 1691.1 100.2 1701.4M332.7 1584.3Q320.7 1586 323.8 1597.6Q331.1 1607.2 339.8 1598.9Q332.6 1608.6 343.1 1614.6M165.2 1768.5Q176.7 1772 178.8 1760.2Q188.3 1767.7 194.6 1757.4Q195.3 1745.4 183.2 1746.1M313.3 1550.7Q303.9 1558.2 312.5 1566.6Q307.3 1555.8 297.2 1562.2Q285.8 1558.2 283.2 1570M231.7 1543.3Q224.9 1533.4 215.8 1541.3Q215.8 1529.2 203.8 1530.7Q214.1 1537 219.1 1526.1M283.9 1673.2Q294.3 1667.3 287.2 1657.6Q279.9 1648 271.3 1656.4Q261.6 1649.3 255.6 1659.7M268.7 1677.4Q257.1 1674.3 255.3 1686.2Q251.4 1674.8 240.5 1680.1Q228.7 1678 227.9 1690"/>
<path id="vtub1" d="M243.8 1756.7Q232.9 1751.5 229.1 1763Q221.3 1772.2 231.4 1778.8Q227 1767.6 216.4 1773.2M145.5 1651.6Q154.9 1644 146.3 1635.6Q158.1 1633.2 154.3 1621.8Q165.9 1625 167.8 1613.1M296.2 1666Q305.7 1673.5 312 1663.2Q314.1 1651.4 302.1 1650.6Q290.1 1650 290.9 1662M170.6 1701.4Q178.8 1692.5 169.1 1685.4Q180.7 1682.1 176 1671Q168.5 1661.6 160.1 1670.1M220.1 1715.9Q228.8 1724.1 236 1714.5Q231.1 1725.5 242.6 1729.1Q230.5 1728.9 231.7 1740.8M234.7 1704Q223.5 1699.6 220.4 1711.2Q211.4 1719.3 220.5 1727.2Q211.6 1735.4 220.8 1743.2M266.8 1689.9Q255.1 1693 259.5 1704.2Q248.4 1708.9 254.4 1719.3Q243.6 1713.8 239.4 1725.1M275.8 1783.9Q264.5 1788.2 270.1 1798.9Q258.1 1797.9 258.6 1810Q258.2 1822 270.2 1821.1M283.9 1670.6Q285.6 1658.7 273.5 1658.5Q270.4 1646.8 259.2 1651.3Q257.4 1639.4 245.8 1642.5M153.3 1679.6Q163.5 1673.2 156 1663.8Q156.6 1675.8 168.5 1673.8Q160.4 1682.7 170.2 1689.7M278.4 1788.8Q268.8 1781.5 262.7 1791.9Q256.5 1802.2 267.4 1807.2Q257.1 1801 252.2 1812M218.7 1557.4Q220.4 1569.3 232 1566.2Q220.3 1563.2 218.7 1575.1Q224.9 1564.8 214 1559.8M178.7 1576.7Q189.7 1581.5 193.2 1570Q194.6 1582 206.3 1579.2Q204.1 1591.1 216.1 1591.9M317.4 1764.9Q323.3 1754.5 312.2 1749.8Q322.6 1755.9 327.4 1744.8Q318.2 1752.6 327 1760.8M177.7 1633.5Q186.1 1642.1 193.6 1632.7Q205.1 1628.9 200 1618Q206.8 1627.9 215.8 1620M295.8 1659.8Q286.1 1652.8 280.2 1663.3Q282.6 1651.5 270.6 1650.5Q271.6 1638.5 259.5 1638.9"/>
<path id="vtub2" d="M233 1697.9Q228.8 1709.2 240.5 1712.1Q234.4 1722.4 245.4 1727.3Q243.3 1739.2 255.3 1739.9M144.4 1606.9Q150.4 1617.3 160.1 1610.2Q165.2 1621.1 175.4 1614.8Q168.4 1624.5 178.9 1630.4M237.4 1682.5Q227.1 1676.3 222.2 1687.3Q217.9 1698.6 229.6 1701.5Q241.6 1701.4 240 1689.4M280.6 1737Q290.8 1743.4 296 1732.6Q290.4 1743.2 301.6 1747.6Q312.8 1752.1 315.9 1740.4M334.6 1753.1Q340.6 1742.6 329.5 1737.9Q329.4 1725.9 317.5 1727.4Q306.8 1721.7 302.4 1732.9M310.7 1709Q298.7 1708.1 299.2 1720.1Q287.2 1719.8 288.3 1731.8Q285.7 1743.6 297.6 1744.8M237.8 1568.2Q235.5 1580 247.5 1580.9Q246.4 1592.9 258.4 1592.6Q248.6 1599.6 256.7 1608.5M238.4 1677.5Q228.1 1683.7 235.4 1693.2Q229.7 1703.9 240.9 1708.2Q230.9 1701.5 225.5 1712.2M301.9 1674.1Q296.2 1684.7 307.4 1689.1Q300.9 1699.3 311.7 1704.5Q312.5 1716.6 324.3 1714.4M155.5 1631.3Q143.5 1631.8 145.4 1643.7Q144.4 1631.7 132.6 1634.1Q142.8 1627.6 135.2 1618.3M231.6 1538Q242.6 1542.8 246.1 1531.3Q251.4 1542.1 261.5 1535.6Q270 1527.1 260.5 1519.7M305.6 1680.1Q307.6 1692 319.2 1688.6Q308.8 1694.7 316.1 1704.3Q310.5 1714.9 321.7 1719.2M291.7 1602.5Q285.7 1592 276 1599.2Q269.7 1588.9 260.2 1596.4Q253.5 1586.4 244.4 1594.3M321.1 1609Q313.6 1599.6 305.2 1608.2Q316.4 1603.8 310.7 1593.2Q309.3 1581.2 297.6 1584M288.7 1626.2Q296.4 1616.9 286.3 1610.4Q298.1 1612.7 299 1600.7Q294.2 1611.7 305.7 1615.2M295.8 1659.4Q288.1 1650.2 279.8 1659Q267.8 1658.6 268.9 1670.6Q272.2 1659 260.3 1657.1"/>
<path id="vtub3" d="M315.5 1566.3Q309.5 1576.8 320.6 1581.4Q326.3 1592.1 336.2 1585.3Q346.5 1591.5 351.5 1580.5M304.4 1613Q313 1621.4 320.3 1611.9Q325.7 1601.1 314.4 1597Q302.4 1597.2 303.9 1609.1M199.7 1632.1Q192.8 1622.2 183.8 1630.3Q194.5 1624.7 187.7 1614.7Q199.6 1616.5 199.9 1604.4M211.9 1623.8Q208.4 1612.2 197.4 1617.1Q204.3 1607.2 193.8 1601.5Q186.7 1591.7 177.8 1599.9M150.1 1547.4Q150.6 1535.4 138.6 1536.3Q127.1 1540 132.1 1551Q139.3 1560.6 148 1552.3M227.8 1651.9Q239.7 1653.4 239.8 1641.3Q241.1 1653.3 252.9 1650.6Q245.1 1659.8 255.2 1666.4M189.6 1663.7Q187.9 1675.6 200 1675.9Q193.2 1685.8 203.8 1691.4Q208.7 1702.4 219 1696.3M186.6 1592.2Q198.2 1588.7 193.4 1577.7Q190.4 1589.4 202.3 1590.9Q213.6 1586.6 208 1576M244.4 1755.7Q234.9 1748.4 228.7 1758.7Q234.5 1748.2 223.4 1743.6Q233.2 1750.7 239 1740.2M273.2 1742.1Q282 1750.4 289.2 1740.8Q291.7 1729 279.8 1727.8Q291.8 1727.7 290.3 1715.7M176.6 1638Q187.3 1643.5 191.5 1632.2Q197.8 1621.9 186.9 1616.9Q184.7 1605 173.2 1608.6M272.9 1744.3Q264.7 1753.2 274.5 1760.2Q272.6 1772.1 284.6 1772.6Q275.2 1780.1 283.8 1788.6M234.7 1703Q227 1693.7 218.7 1702.4Q229.7 1697.5 223.5 1687.1Q233.3 1694.2 239.1 1683.6M310.5 1792.2Q312.6 1804 324.1 1800.5Q334.4 1806.9 339.5 1796Q333.5 1806.5 344.5 1811.2M237.5 1711.6Q236.7 1723.6 248.7 1723Q252.6 1734.4 263.5 1729.3Q268.2 1740.3 278.6 1734.4M203.9 1638.3Q216 1639 215.2 1627Q221.4 1616.7 210.5 1611.7Q221.4 1606.6 215 1596.4"/>
<path id="vtub4" d="M208.5 1712.5Q197.6 1707.6 193.9 1719.1Q186.2 1728.4 196.3 1734.9Q186.4 1741.7 194.3 1750.8M160.9 1790.7Q148.9 1789.7 149.3 1801.7Q144.3 1790.8 134 1797.1Q122 1795.6 122 1807.6M167.2 1587.2Q157.9 1579.6 151.4 1589.7Q148.8 1577.9 137.4 1581.9Q148.9 1585.4 151.1 1573.6M229.4 1715.4Q231.3 1727.3 242.9 1723.9Q254 1728.5 257.2 1716.9Q267.1 1709.9 259 1701M185.4 1708.1Q178.1 1698.5 169.4 1706.9Q160 1714.4 168.5 1722.9Q175.4 1732.8 184.4 1724.8M334.5 1761.4Q336.2 1773.3 347.8 1770.3Q347.5 1782.3 359.5 1781.2Q347.7 1783.8 351.6 1795.2M215.9 1770.2Q218.5 1782 229.9 1778.1Q241.9 1777 239.4 1765.2Q234.4 1754.2 224.1 1760.4M222.8 1761.2Q212.6 1754.7 207.4 1765.5Q207 1753.5 195.1 1755.3Q190.1 1744.3 179.8 1750.6M163.4 1684.9Q154.1 1677.2 147.6 1687.3Q135.9 1690.4 140.4 1701.6Q137.8 1689.8 126.4 1693.8M223.4 1751.8Q235.3 1749.4 231.5 1738Q232.7 1749.9 244.4 1747.4Q249 1758.5 259.5 1752.6M165.4 1765Q153.9 1768.5 158.7 1779.5Q155.4 1791.1 167.3 1793Q169.2 1804.9 180.8 1801.6M199.4 1556.1Q191.1 1564.8 200.7 1572Q190.5 1578.3 197.9 1587.8Q203.8 1598.3 213.5 1591.2M136.4 1732.8Q124.8 1736 129.4 1747.1Q122.8 1757.2 133.6 1762.6Q143.7 1769 148.9 1758.2M292.8 1792.8Q295.4 1804.6 306.8 1800.6Q316 1808.3 322.6 1798.3Q329.5 1808.1 338.5 1800.1M246.5 1590.9Q258.4 1589.4 255.5 1577.7Q259.7 1566.4 248 1563.6Q237.7 1557.2 232.6 1568.1M193.2 1599.9Q205.2 1599.1 202.9 1587.2Q199.4 1598.7 211.2 1600.9Q223.2 1599.4 220.3 1587.7"/>
<path id="vtub5" d="M306.5 1780.6Q309.8 1769.1 298 1767.1Q290 1758 282 1767Q278.1 1778.4 289.9 1780.9M246.1 1551.4Q254.4 1542.6 244.8 1535.4Q233.7 1530.6 230.3 1542.2Q218.4 1544.4 222 1555.9M288.4 1603.9Q283 1593.1 272.9 1599.7Q267.3 1589 257.4 1595.8Q245.7 1592.9 244.2 1604.9M241.3 1708.1Q249.8 1716.6 257.2 1707.1Q246.4 1712.3 252.8 1722.5Q242.3 1728.5 249.5 1738.1M303 1641.2Q311.8 1649.4 318.9 1639.7Q320.9 1627.8 308.8 1627.3Q296.9 1625.5 296.5 1637.5M199.7 1723.3Q187.7 1724.5 190.3 1736.3Q196.1 1725.7 184.9 1721.3Q195.3 1715.3 188.2 1705.6M225 1616.2Q220.6 1627.4 232.3 1630.4Q223.8 1638.9 233.3 1646.3Q236.4 1658 247.6 1653.6M177.7 1581.8Q188.4 1576.2 181.5 1566.3Q184.2 1554.5 172.2 1553.3Q161.7 1547.5 157.2 1558.6M204.5 1575.5Q201.9 1587.2 213.9 1588.4Q225.3 1584.7 220.3 1573.7Q229 1565.5 219.8 1557.8M145.4 1559.6Q140.1 1570.5 151.5 1574.4Q139.5 1574 140.5 1586Q146.3 1596.6 156.1 1589.6M169.9 1552.3Q172 1540.4 160 1539.7Q153.1 1529.8 144.1 1537.8Q136.1 1528.8 128.1 1537.8M322.7 1664.8Q327.5 1675.9 337.9 1669.9Q328 1676.7 335.9 1685.8Q345.4 1693.1 351.6 1682.7M213 1774.4Q216 1786.1 227.3 1781.7Q229 1793.7 240.6 1790.6Q249.6 1782.6 240.6 1774.6M281 1707.2Q279.8 1695.3 268 1697.9Q272.8 1686.9 261.3 1683.4Q258 1671.8 246.9 1676.4M222.9 1720.8Q232 1712.9 223.1 1704.8Q228 1715.8 238.4 1709.7Q248.9 1703.9 241.8 1694.1M282.7 1728.5Q271.2 1724.9 269.1 1736.8Q271.5 1725 259.6 1723.9Q262.1 1712.2 250.1 1711"/>
<path id="vtub6" d="M210.1 1675.7Q198.2 1677.9 201.8 1689.4Q189.8 1690.1 191.9 1701.9Q180.3 1705.2 184.9 1716.3M191.8 1547Q202.9 1551.9 206.4 1540.4Q216.5 1546.9 221.8 1536.2Q233.7 1534 230.2 1522.5M186.2 1696.9Q182.4 1708.4 194.2 1710.8Q188 1721.1 198.9 1726.1Q210.8 1727.9 211.2 1715.8M328.6 1730.7Q329.3 1718.7 317.3 1719.5Q305.6 1716.5 304 1728.4Q310.3 1718.1 299.3 1713.1M293 1572Q304.8 1569.9 301.3 1558.4Q304.9 1546.9 293.1 1544.7Q284.8 1535.8 277.1 1545M172 1545Q160 1545.8 162.2 1557.6Q153.3 1565.7 162.3 1573.6Q167.6 1584.5 177.7 1578M137.9 1646Q149.2 1642 144 1631.2Q145 1619.2 132.9 1619.6Q120.9 1620.5 123.2 1632.3M223.1 1731.8Q220.2 1720.1 208.9 1724.4Q205.8 1712.8 194.6 1717.2Q185 1724.4 193.3 1733.2M309 1787.9Q297 1787.2 297.7 1799.2Q296 1787.3 284.3 1790.4Q272.3 1790.2 273.5 1802.2M201.7 1776.5Q211.2 1769 202.6 1760.5Q202.2 1748.5 190.3 1750.3Q185.6 1739.2 175.1 1745.2M257.9 1543.1Q261 1531.5 249.1 1529.7Q251.7 1518 239.7 1516.8Q227.6 1517.1 229.4 1529M264.8 1673.4Q266.3 1661.4 254.3 1661.3Q264.1 1668.4 269.9 1657.9Q277.5 1667.2 285.9 1658.6M333.9 1633.3Q344 1639.8 349.3 1629Q343.4 1639.5 354.5 1644.1Q347 1634.6 338.5 1643.1M266.7 1589.2Q254.8 1587 254 1599Q250.2 1610.4 262 1612.8Q254.5 1622.2 264.8 1628.5M143.3 1607.3Q140.8 1619.1 152.7 1620.2Q144.5 1629 154.2 1636.2Q155.4 1648.2 167.1 1645.6M136.6 1552.9Q124.6 1553.5 126.6 1565.4Q126.7 1553.4 114.7 1554.6Q125.9 1550.3 120.3 1539.6"/>
<radialGradient id="renv" cx="0.5" cy="0.55" r="0.65"><stop offset="0" stop-color="#bf423e"/><stop offset="0.8" stop-color="#ae3535"/><stop offset="1" stop-color="#a03030"/></radialGradient>
<radialGradient id="pein" cx="0.5" cy="0.55" r="0.6"><stop offset="0" stop-color="#5c4cb8"/><stop offset="1" stop-color="#43389a"/></radialGradient>
<clipPath id="ncp"><ellipse cx="782.4" cy="1746.5" rx="77" ry="73"/></clipPath>
<path id="ntub0" d="M808.6 1790.8Q809.2 1783 801.4 1783.9Q794.5 1780.1 792.1 1787.6M797.1 1692.8Q792.7 1686.3 787.2 1691.8Q779.4 1692.4 781.5 1700M820.2 1747.3Q812.7 1749.7 816.4 1756.5Q811.3 1750.6 806.4 1756.7M785.7 1776.2Q777.9 1776.3 779.4 1784Q774.8 1777.6 769.4 1783.3M816.8 1712.1Q824 1715.2 825.7 1707.6Q832.9 1710.6 834.6 1703M827.6 1786.7Q825.7 1794.3 833.5 1794.8Q831.6 1787.2 839.4 1786.7M824.7 1788.7Q819.2 1783.2 814.7 1789.6Q807 1788.3 807.2 1796.1M755.7 1749.1Q749.1 1753.3 754.5 1759Q754.9 1766.8 762.5 1764.9M787.8 1718.7Q782.8 1724.8 789.7 1728.5Q781.9 1727.5 782.3 1735.3M786.2 1699.4Q780.8 1693.8 776.2 1700.1Q770.3 1695 766.4 1701.7M795.3 1721.9Q792.5 1729.2 800.2 1730.6Q800.1 1738.4 807.8 1737.1M754.8 1777.7Q759 1771.1 751.8 1768.2Q752.6 1760.4 744.8 1761M801.1 1749.7Q804.8 1756.5 810.9 1751.6Q814.7 1758.4 820.7 1753.4M736.5 1748.9Q734.5 1741.4 727.4 1744.6Q728.9 1737 721.1 1736.9M736.5 1729.5Q742.6 1734.5 746.4 1727.7Q754.1 1728.3 753.4 1720.5M815.1 1730.4Q809.2 1725.3 805.3 1732Q800.3 1738 807.1 1741.8"/>
<path id="ntub1" d="M833.6 1768.9Q837.7 1762.2 830.4 1759.5Q837.8 1757.2 834.3 1750.3M756 1694Q763.6 1695.8 764.1 1688Q759.5 1694.4 766.5 1697.7M828.7 1735.1Q836.4 1735.9 835.8 1728.1Q843 1725.1 838.8 1718.5M783.4 1804.5Q791.1 1805.9 791 1798.1Q792.4 1805.7 799.7 1803M788.9 1703.9Q786 1696.6 779.4 1700.7Q771.8 1698.9 771.4 1706.7M772.4 1785.4Q780.1 1787.1 780.4 1779.3Q787.5 1776.1 783.1 1769.7M831.9 1710.1Q837.3 1704.4 830.8 1700.2Q829.1 1692.5 821.9 1695.7M825.9 1735Q818.7 1731.8 816.9 1739.4Q811 1744.6 817.2 1749.4M811.5 1699.5Q818.2 1703.5 820.9 1696.1Q820.5 1703.9 812.9 1702.1M732.5 1718.6Q724.9 1720.1 727.7 1727.4Q724.1 1734.3 731.6 1736.6M783.1 1740.3Q789 1745.4 793 1738.6Q795.9 1731.4 788.2 1729.9M741 1718.9Q748.5 1721 749.3 1713.3Q755.3 1708.3 749.3 1703.3M732.1 1780.4Q735 1773.2 727.3 1771.6Q720 1769 718.8 1776.8M790.6 1752Q785.7 1758.1 792.6 1761.8Q786 1757.6 783 1764.8M770 1728.2Q762.9 1725.1 761.1 1732.7Q753.9 1729.7 752.2 1737.4M787.2 1771.3Q787.4 1779.1 795.1 1777.5Q789.4 1782.9 795.7 1787.5"/>
<path id="ntub2" d="M769.7 1742.4Q776.4 1746.5 779.2 1739.2Q778.6 1747 786.4 1746.2M783.8 1741.2Q780.2 1748.2 787.7 1750.4Q779.9 1750.7 781.6 1758.3M806.1 1793.1Q798.3 1792.3 798.9 1800.1Q792.6 1804.7 798.3 1810.1M819.7 1756.6Q817.5 1749.1 810.5 1752.6Q803.5 1749.2 801.4 1756.7M736.5 1745.6Q740.3 1738.8 732.9 1736.3Q739.1 1731.5 733.3 1726.3M729.3 1743.8Q737.1 1743 735 1735.5Q740.9 1740.6 744.8 1733.8M736.6 1739Q730.2 1743.5 735.7 1749Q733.6 1741.4 726.6 1744.9M760.9 1774.1Q766.7 1768.8 760.5 1764.1Q754.5 1759 750.6 1765.8M832.5 1771.4Q837.7 1765.5 831 1761.5Q838.4 1758.8 834.4 1752.1M831.8 1752.7Q825.3 1748.4 822.2 1755.6Q814.5 1754.5 814.8 1762.3M758.4 1763.6Q763.2 1769.8 768.4 1764Q776.2 1763.3 774.1 1755.8M766.5 1692.8Q770.5 1686 763.1 1683.3Q769.1 1678.3 773 1685.1M749.9 1775Q757 1778.2 758.8 1770.6Q761.3 1763.2 753.6 1762M739.3 1752Q745.5 1756.8 749 1749.9Q747.4 1757.5 755.2 1757.7M744.7 1707.9Q752.3 1709.6 752.6 1701.8Q756.7 1708.5 762.5 1703.2M769.8 1718.5Q777.6 1717.6 775.4 1710.2Q782.7 1712.8 784.1 1705.2"/>
<path id="ntub3" d="M810 1692.2Q813 1685 805.4 1683.3Q802.7 1676 796 1679.9M767.7 1782.4Q764.5 1789.5 772 1791.4Q779.5 1793.9 780.5 1786.2M762.9 1803.5Q767.7 1797.4 760.9 1793.7Q754.8 1788.8 751.1 1795.6M832.4 1732.3Q832.9 1740.1 840.5 1738.2Q836.7 1745.1 844.1 1747.5M769.2 1717.7Q776.9 1716.6 774.4 1709.2Q777.8 1702.1 770.2 1700.1M796.1 1726.4Q790.7 1720.8 786.1 1727.1Q783.3 1719.8 776.6 1723.9M775.9 1784.1Q783.1 1786.9 784.6 1779.2Q792.4 1780.1 791.8 1772.4M758.1 1724.5Q758.5 1732.3 766.1 1730.4Q772.6 1734.8 775.7 1727.6M805.3 1802.8Q798.8 1798.5 804.2 1792.8Q799.5 1786.6 794.2 1792.3M780 1738.3Q775.5 1744.7 782.6 1747.9Q775.9 1751.9 781 1757.8M773.1 1717.6Q776.6 1724.5 782.8 1719.8Q789.6 1715.9 784.6 1710M767.3 1785.4Q774.7 1783.1 771 1776.2Q769.5 1768.5 762.2 1771.4M797 1692.2Q791.2 1697.5 797.5 1702.2Q800.7 1709.3 807.1 1704.9M744.6 1772.9Q737.3 1770.1 736 1777.8Q737.2 1770.1 729.4 1770.3M834.4 1720.1Q836.3 1727.7 843.4 1724.3Q850.7 1721.6 846.7 1714.9M825.7 1714.9Q823.3 1707.5 816.4 1711.2Q809.6 1715 814.5 1721"/>
<path id="ntub4" d="M801.6 1702.2Q801.2 1694.4 793.6 1696.3Q800.7 1693 796.2 1686.6M765.5 1773.9Q760.4 1779.8 767.1 1783.8Q759.8 1786.4 763.7 1793.2M795.1 1736Q796.9 1743.6 804 1740.5Q800.4 1747.4 807.8 1749.8M794.3 1776.4Q800.7 1772 795.2 1766.5Q801.5 1761.9 795.9 1756.5M761.3 1701.1Q768.8 1703.3 769.6 1695.5Q766.3 1702.6 773.8 1704.6M743.9 1737Q751.7 1735.8 749.1 1728.4Q756.9 1727.9 755 1720.4M832.1 1773.1Q839.4 1776 840.9 1768.4Q848.5 1766.7 845.5 1759.5M734.3 1736.5Q726.9 1739.1 730.8 1745.9Q723.4 1748.6 727.5 1755.3M812.4 1795.2Q814.6 1802.7 821.6 1799.1Q814 1797.2 817.3 1790.1M793.6 1800Q800.8 1803 802.4 1795.4Q799 1802.4 806.5 1804.5M820.4 1739.3Q815.5 1745.3 822.4 1749.1Q814.9 1746.9 814 1754.6M819.1 1749.1Q822.5 1742 814.9 1740Q822.7 1739.2 820.5 1731.7M767.4 1726.6Q773.9 1730.9 776.9 1723.8Q772.9 1730.5 780.2 1733.2M799 1806.2Q804.3 1800.5 797.7 1796.3Q805.5 1797.3 805.2 1789.5M810 1721.4Q814.2 1728.1 819.9 1722.9Q827.5 1720.8 824.1 1713.7M728.2 1732.6Q727.4 1740.4 735.1 1739.8Q742.8 1738.1 739.7 1730.9"/>
<pattern id="pdots" width="6" height="6" patternUnits="userSpaceOnUse"><rect width="6" height="6" fill="#8a2cc0"/><circle cx="3" cy="3" r="1.6" fill="#c766ef"/></pattern>
<pattern id="pdots2" width="7" height="7" patternUnits="userSpaceOnUse"><rect width="7" height="7" fill="#9530c8"/><circle cx="3.5" cy="3.5" r="1.9" fill="#cf6ff3"/></pattern>
<linearGradient id="ag1" x1="0" x2="1" y1="0" y2="0"><stop offset="0" stop-color="#000" stop-opacity="0"/><stop offset="0.25" stop-color="#000" stop-opacity="0.9"/><stop offset="1" stop-color="#000"/></linearGradient></defs>

<g clip-path="url(#fclip)"><polygon points="1305,1534 1314,1540 1323,1546 1330,1554 1337,1561 1344,1569 1350,1577 1356,1585 1361,1593 1367,1602 1372,1610 1377,1617 1383,1625 1389,1632 1395,1638 1401,1644 1408,1650 1414,1655 1421,1660 1428,1665 1435,1669 1442,1673 1449,1677 1456,1680 1464,1683 1472,1686 1480,1689 1488,1692 1497,1695 1496,1697 1487,1695 1479,1692 1471,1689 1463,1686 1455,1682 1448,1679 1440,1675 1433,1671 1426,1667 1419,1662 1413,1657 1406,1652 1400,1646 1393,1640 1387,1633 1381,1626 1375,1619 1370,1611 1364,1603 1359,1595 1353,1587 1348,1579 1342,1571 1335,1563 1328,1555 1321,1548 1313,1542 1304,1536" fill="#aea8ef" fill-opacity="0.68"/><polygon points="1304,1536 1313,1542 1321,1548 1328,1555 1335,1563 1342,1571 1348,1579 1353,1587 1359,1595 1364,1603 1370,1611 1375,1619 1381,1626 1387,1633 1393,1640 1400,1646 1406,1652 1413,1657 1419,1662 1426,1667 1433,1671 1440,1675 1448,1679 1455,1682 1463,1686 1471,1689 1479,1692 1487,1695 1496,1697 1495,1700 1487,1697 1478,1694 1470,1691 1462,1688 1454,1685 1446,1681 1439,1677 1432,1673 1425,1669 1418,1664 1411,1659 1405,1654 1398,1648 1391,1642 1385,1635 1379,1628 1373,1620 1368,1613 1362,1605 1357,1596 1351,1588 1346,1580 1340,1572 1333,1565 1327,1557 1319,1550 1311,1544 1302,1538" fill="#aea8ef" fill-opacity="0.62"/><polygon points="1302,1538 1311,1544 1319,1550 1327,1557 1333,1565 1340,1572 1346,1580 1351,1588 1357,1596 1362,1605 1368,1613 1373,1620 1379,1628 1385,1635 1391,1642 1398,1648 1405,1654 1411,1659 1418,1664 1425,1669 1432,1673 1439,1677 1446,1681 1454,1685 1462,1688 1470,1691 1478,1694 1487,1697 1495,1700 1495,1702 1486,1700 1477,1697 1469,1694 1461,1690 1453,1687 1445,1684 1438,1680 1431,1676 1423,1671 1416,1666 1410,1661 1403,1656 1396,1650 1390,1644 1383,1637 1377,1630 1371,1622 1365,1614 1360,1606 1355,1598 1349,1590 1344,1582 1338,1574 1331,1566 1325,1559 1318,1552 1310,1546 1301,1541" fill="#aea8ef" fill-opacity="0.56"/><polygon points="1301,1541 1310,1546 1318,1552 1325,1559 1331,1566 1338,1574 1344,1582 1349,1590 1355,1598 1360,1606 1365,1614 1371,1622 1377,1630 1383,1637 1390,1644 1396,1650 1403,1656 1410,1661 1416,1666 1423,1671 1431,1676 1438,1680 1445,1684 1453,1687 1461,1690 1469,1694 1477,1697 1486,1700 1495,1702 1494,1705 1485,1702 1476,1699 1468,1696 1460,1693 1452,1689 1444,1686 1437,1682 1429,1678 1422,1673 1415,1669 1408,1663 1401,1658 1394,1652 1388,1645 1381,1639 1375,1631 1369,1624 1363,1616 1358,1607 1352,1599 1347,1591 1341,1583 1336,1575 1329,1568 1323,1561 1316,1554 1308,1548 1299,1543" fill="#aea8ef" fill-opacity="0.51"/><polygon points="1299,1543 1308,1548 1316,1554 1323,1561 1329,1568 1336,1575 1341,1583 1347,1591 1352,1599 1358,1607 1363,1616 1369,1624 1375,1631 1381,1639 1388,1645 1394,1652 1401,1658 1408,1663 1415,1669 1422,1673 1429,1678 1437,1682 1444,1686 1452,1689 1460,1693 1468,1696 1476,1699 1485,1702 1494,1705 1493,1707 1484,1705 1475,1702 1467,1699 1459,1695 1451,1692 1443,1688 1435,1684 1428,1680 1421,1676 1413,1671 1406,1665 1399,1660 1393,1654 1386,1647 1379,1640 1373,1633 1367,1625 1361,1617 1356,1609 1350,1601 1345,1593 1339,1585 1334,1577 1328,1570 1321,1563 1314,1556 1307,1551 1298,1545" fill="#aea8ef" fill-opacity="0.45"/><polygon points="1298,1545 1307,1551 1314,1556 1321,1563 1328,1570 1334,1577 1339,1585 1345,1593 1350,1601 1356,1609 1361,1617 1367,1625 1373,1633 1379,1640 1386,1647 1393,1654 1399,1660 1406,1665 1413,1671 1421,1676 1428,1680 1435,1684 1443,1688 1451,1692 1459,1695 1467,1699 1475,1702 1484,1705 1493,1707 1492,1710 1483,1707 1475,1704 1466,1701 1458,1698 1450,1694 1442,1691 1434,1687 1427,1682 1419,1678 1412,1673 1405,1668 1398,1662 1391,1656 1384,1649 1377,1642 1371,1635 1365,1627 1359,1619 1354,1610 1348,1602 1343,1594 1337,1586 1332,1579 1326,1571 1319,1565 1312,1558 1305,1553 1297,1547" fill="#aea8ef" fill-opacity="0.40"/><polygon points="1297,1547 1305,1553 1312,1558 1319,1565 1326,1571 1332,1579 1337,1586 1343,1594 1348,1602 1354,1610 1359,1619 1365,1627 1371,1635 1377,1642 1384,1649 1391,1656 1398,1662 1405,1668 1412,1673 1419,1678 1427,1682 1434,1687 1442,1691 1450,1694 1458,1698 1466,1701 1475,1704 1483,1707 1492,1710 1491,1712 1483,1709 1474,1706 1465,1703 1457,1700 1449,1697 1441,1693 1433,1689 1425,1685 1418,1680 1410,1675 1403,1670 1396,1664 1389,1658 1382,1651 1375,1644 1369,1636 1363,1628 1357,1620 1351,1612 1346,1604 1341,1596 1335,1588 1330,1580 1324,1573 1317,1566 1311,1560 1304,1555 1295,1549" fill="#aea8ef" fill-opacity="0.36"/><polygon points="1295,1549 1304,1555 1311,1560 1317,1566 1324,1573 1330,1580 1335,1588 1341,1596 1346,1604 1351,1612 1357,1620 1363,1628 1369,1636 1375,1644 1382,1651 1389,1658 1396,1664 1403,1670 1410,1675 1418,1680 1425,1685 1433,1689 1441,1693 1449,1697 1457,1700 1465,1703 1474,1706 1483,1709 1491,1712 1491,1715 1482,1712 1473,1709 1464,1706 1456,1703 1448,1699 1440,1695 1432,1691 1424,1687 1416,1682 1409,1677 1402,1672 1394,1666 1387,1659 1380,1653 1373,1646 1367,1638 1361,1630 1355,1621 1349,1613 1344,1605 1338,1597 1333,1589 1327,1582 1322,1575 1316,1568 1309,1562 1302,1557 1294,1551" fill="#aea8ef" fill-opacity="0.31"/><polygon points="1294,1551 1302,1557 1309,1562 1316,1568 1322,1575 1327,1582 1333,1589 1338,1597 1344,1605 1349,1613 1355,1621 1361,1630 1367,1638 1373,1646 1380,1653 1387,1659 1394,1666 1402,1672 1409,1677 1416,1682 1424,1687 1432,1691 1440,1695 1448,1699 1456,1703 1464,1706 1473,1709 1482,1712 1491,1715 1490,1717 1481,1714 1472,1711 1463,1708 1455,1705 1446,1701 1438,1698 1430,1693 1423,1689 1415,1684 1407,1679 1400,1674 1393,1668 1386,1661 1379,1655 1372,1647 1365,1639 1358,1631 1353,1623 1347,1615 1342,1606 1336,1598 1331,1591 1325,1583 1320,1577 1314,1570 1307,1564 1301,1559 1292,1554" fill="#aea8ef" fill-opacity="0.27"/><polygon points="1292,1554 1301,1559 1307,1564 1314,1570 1320,1577 1325,1583 1331,1591 1336,1598 1342,1606 1347,1615 1353,1623 1358,1631 1365,1639 1372,1647 1379,1655 1386,1661 1393,1668 1400,1674 1407,1679 1415,1684 1423,1689 1430,1693 1438,1698 1446,1701 1455,1705 1463,1708 1472,1711 1481,1714 1490,1717 1489,1720 1480,1717 1471,1714 1462,1711 1454,1707 1445,1704 1437,1700 1429,1696 1421,1691 1414,1687 1406,1681 1398,1676 1391,1670 1384,1663 1377,1656 1370,1649 1363,1641 1356,1633 1350,1624 1345,1616 1340,1608 1334,1600 1329,1592 1323,1585 1318,1578 1312,1572 1306,1566 1299,1561 1291,1556" fill="#aea8ef" fill-opacity="0.22"/><polygon points="1291,1556 1299,1561 1306,1566 1312,1572 1318,1578 1323,1585 1329,1592 1334,1600 1340,1608 1345,1616 1350,1624 1356,1633 1363,1641 1370,1649 1377,1656 1384,1663 1391,1670 1398,1676 1406,1681 1414,1687 1421,1691 1429,1696 1437,1700 1445,1704 1454,1707 1462,1711 1471,1714 1480,1717 1489,1720 1488,1722 1479,1719 1470,1716 1461,1713 1453,1710 1444,1706 1436,1702 1428,1698 1420,1694 1412,1689 1404,1683 1397,1678 1389,1672 1382,1665 1375,1658 1368,1651 1361,1643 1354,1634 1348,1626 1343,1618 1337,1609 1332,1601 1327,1594 1321,1587 1316,1580 1310,1574 1304,1568 1298,1563 1290,1558" fill="#aea8ef" fill-opacity="0.19"/><polygon points="1290,1558 1298,1563 1304,1568 1310,1574 1316,1580 1321,1587 1327,1594 1332,1601 1337,1609 1343,1618 1348,1626 1354,1634 1361,1643 1368,1651 1375,1658 1382,1665 1389,1672 1397,1678 1404,1683 1412,1689 1420,1694 1428,1698 1436,1702 1444,1706 1453,1710 1461,1713 1470,1716 1479,1719 1488,1722 1488,1725 1478,1722 1469,1719 1461,1716 1452,1712 1443,1708 1435,1705 1427,1700 1419,1696 1411,1691 1403,1686 1395,1680 1388,1674 1380,1667 1373,1660 1366,1653 1359,1644 1352,1636 1346,1627 1341,1619 1335,1611 1330,1603 1325,1595 1319,1588 1314,1582 1308,1576 1302,1570 1296,1565 1288,1560" fill="#aea8ef" fill-opacity="0.15"/><polygon points="1288,1560 1296,1565 1302,1570 1308,1576 1314,1582 1319,1588 1325,1595 1330,1603 1335,1611 1341,1619 1346,1627 1352,1636 1359,1644 1366,1653 1373,1660 1380,1667 1388,1674 1395,1680 1403,1686 1411,1691 1419,1696 1427,1700 1435,1705 1443,1708 1452,1712 1461,1716 1469,1719 1478,1722 1488,1725 1487,1727 1478,1724 1469,1721 1460,1718 1451,1715 1442,1711 1434,1707 1425,1703 1417,1698 1409,1693 1401,1688 1394,1682 1386,1676 1378,1669 1371,1662 1364,1654 1357,1646 1350,1637 1344,1629 1338,1620 1333,1612 1328,1604 1323,1597 1317,1590 1312,1583 1306,1578 1301,1572 1295,1567 1287,1562" fill="#aea8ef" fill-opacity="0.12"/><polygon points="1287,1562 1295,1567 1301,1572 1306,1578 1312,1583 1317,1590 1323,1597 1328,1604 1333,1612 1338,1620 1344,1629 1350,1637 1357,1646 1364,1654 1371,1662 1378,1669 1386,1676 1394,1682 1401,1688 1409,1693 1417,1698 1425,1703 1434,1707 1442,1711 1451,1715 1460,1718 1469,1721 1478,1724 1487,1727 1486,1730 1477,1727 1468,1724 1459,1720 1450,1717 1441,1713 1433,1709 1424,1705 1416,1700 1408,1695 1400,1690 1392,1684 1384,1678 1377,1671 1369,1664 1362,1656 1355,1648 1348,1639 1342,1630 1336,1622 1331,1614 1326,1606 1320,1598 1315,1592 1310,1585 1305,1579 1299,1574 1293,1570 1285,1565" fill="#aea8ef" fill-opacity="0.09"/><polygon points="1285,1565 1293,1570 1299,1574 1305,1579 1310,1585 1315,1592 1320,1598 1326,1606 1331,1614 1336,1622 1342,1630 1348,1639 1355,1648 1362,1656 1369,1664 1377,1671 1384,1678 1392,1684 1400,1690 1408,1695 1416,1700 1424,1705 1433,1709 1441,1713 1450,1717 1459,1720 1468,1724 1477,1727 1486,1730 1485,1732 1476,1729 1467,1726 1458,1723 1449,1719 1440,1716 1432,1712 1423,1707 1415,1703 1406,1697 1398,1692 1390,1686 1383,1680 1375,1673 1368,1666 1360,1658 1353,1649 1346,1640 1340,1632 1334,1623 1329,1615 1323,1607 1318,1600 1313,1593 1308,1587 1303,1581 1297,1576 1292,1572 1284,1567" fill="#aea8ef" fill-opacity="0.06"/><polygon points="1284,1567 1292,1572 1297,1576 1303,1581 1308,1587 1313,1593 1318,1600 1323,1607 1329,1615 1334,1623 1340,1632 1346,1640 1353,1649 1360,1658 1368,1666 1375,1673 1383,1680 1390,1686 1398,1692 1406,1697 1415,1703 1423,1707 1432,1712 1440,1716 1449,1719 1458,1723 1467,1726 1476,1729 1485,1732 1484,1735 1475,1732 1466,1729 1457,1725 1448,1722 1439,1718 1430,1714 1422,1710 1413,1705 1405,1700 1397,1694 1389,1688 1381,1682 1373,1675 1366,1668 1358,1660 1350,1651 1344,1642 1338,1633 1332,1625 1327,1617 1321,1609 1316,1601 1311,1595 1306,1589 1301,1583 1296,1578 1290,1574 1282,1569" fill="#aea8ef" fill-opacity="0.04"/><polygon points="1282,1569 1290,1574 1296,1578 1301,1583 1306,1589 1311,1595 1316,1601 1321,1609 1327,1617 1332,1625 1338,1633 1344,1642 1350,1651 1358,1660 1366,1668 1373,1675 1381,1682 1389,1688 1397,1694 1405,1700 1413,1705 1422,1710 1430,1714 1439,1718 1448,1722 1457,1725 1466,1729 1475,1732 1484,1735 1484,1737 1474,1734 1465,1731 1456,1728 1447,1724 1438,1720 1429,1716 1421,1712 1412,1707 1404,1702 1395,1696 1387,1690 1379,1684 1371,1677 1364,1669 1356,1661 1348,1652 1342,1643 1335,1635 1330,1626 1324,1618 1319,1610 1314,1603 1309,1596 1304,1590 1299,1585 1294,1580 1289,1576 1281,1571" fill="#aea8ef" fill-opacity="0.02"/><polygon points="1281,1571 1289,1576 1294,1580 1299,1585 1304,1590 1309,1596 1314,1603 1319,1610 1324,1618 1330,1626 1335,1635 1342,1643 1348,1652 1356,1661 1364,1669 1371,1677 1379,1684 1387,1690 1395,1696 1404,1702 1412,1707 1421,1712 1429,1716 1438,1720 1447,1724 1456,1728 1465,1731 1474,1734 1484,1737 1483,1740 1474,1737 1464,1733 1455,1730 1446,1727 1437,1723 1428,1719 1419,1714 1411,1709 1402,1704 1394,1698 1386,1692 1378,1686 1370,1679 1362,1671 1354,1663 1346,1654 1340,1645 1333,1636 1328,1628 1322,1619 1317,1612 1312,1605 1307,1598 1302,1592 1297,1587 1292,1582 1287,1578 1280,1573" fill="#aea8ef" fill-opacity="0.01"/><polygon points="1314,1848 1321,1841 1327,1834 1333,1826 1339,1819 1345,1812 1351,1804 1357,1797 1363,1790 1369,1782 1375,1775 1380,1768 1386,1761 1392,1755 1398,1748 1404,1742 1411,1737 1418,1732 1424,1727 1431,1723 1438,1719 1445,1715 1452,1711 1459,1708 1466,1705 1474,1702 1481,1700 1489,1697 1497,1695 1496,1692 1488,1695 1481,1697 1473,1700 1465,1703 1458,1706 1451,1709 1444,1712 1437,1716 1430,1720 1423,1725 1416,1730 1409,1735 1403,1740 1396,1746 1390,1753 1384,1760 1378,1766 1373,1774 1367,1781 1361,1788 1355,1795 1349,1803 1343,1810 1337,1817 1331,1825 1325,1832 1319,1839 1312,1846" fill="#aea8ef" fill-opacity="0.68"/><polygon points="1312,1846 1319,1839 1325,1832 1331,1825 1337,1817 1343,1810 1349,1803 1355,1795 1361,1788 1367,1781 1373,1774 1378,1766 1384,1760 1390,1753 1396,1746 1403,1740 1409,1735 1416,1730 1423,1725 1430,1720 1437,1716 1444,1712 1451,1709 1458,1706 1465,1703 1473,1700 1481,1697 1488,1695 1496,1692 1496,1690 1488,1692 1480,1695 1472,1697 1465,1700 1457,1703 1450,1707 1442,1710 1435,1714 1428,1718 1421,1723 1415,1728 1408,1733 1401,1738 1394,1744 1388,1751 1382,1758 1376,1765 1370,1772 1365,1779 1359,1786 1353,1794 1347,1801 1341,1808 1335,1816 1329,1823 1323,1830 1317,1837 1310,1844" fill="#aea8ef" fill-opacity="0.62"/><polygon points="1310,1844 1317,1837 1323,1830 1329,1823 1335,1816 1341,1808 1347,1801 1353,1794 1359,1786 1365,1779 1370,1772 1376,1765 1382,1758 1388,1751 1394,1744 1401,1738 1408,1733 1415,1728 1421,1723 1428,1718 1435,1714 1442,1710 1450,1707 1457,1703 1465,1700 1472,1697 1480,1695 1488,1692 1496,1690 1495,1687 1487,1690 1479,1692 1471,1695 1464,1698 1456,1701 1449,1704 1441,1708 1434,1712 1427,1716 1420,1721 1413,1725 1406,1731 1399,1736 1393,1742 1386,1749 1380,1756 1374,1763 1368,1770 1363,1777 1357,1785 1351,1792 1345,1799 1339,1807 1333,1814 1327,1821 1321,1829 1315,1836 1308,1843" fill="#aea8ef" fill-opacity="0.56"/><polygon points="1308,1843 1315,1836 1321,1829 1327,1821 1333,1814 1339,1807 1345,1799 1351,1792 1357,1785 1363,1777 1368,1770 1374,1763 1380,1756 1386,1749 1393,1742 1399,1736 1406,1731 1413,1725 1420,1721 1427,1716 1434,1712 1441,1708 1449,1704 1456,1701 1464,1698 1471,1695 1479,1692 1487,1690 1495,1687 1494,1685 1486,1687 1478,1690 1470,1692 1463,1695 1455,1698 1447,1702 1440,1706 1433,1709 1426,1714 1418,1718 1411,1723 1404,1729 1398,1734 1391,1741 1384,1748 1378,1754 1372,1761 1366,1769 1361,1776 1355,1783 1349,1790 1343,1798 1337,1805 1331,1812 1325,1820 1319,1827 1313,1834 1306,1841" fill="#aea8ef" fill-opacity="0.51"/><polygon points="1306,1841 1313,1834 1319,1827 1325,1820 1331,1812 1337,1805 1343,1798 1349,1790 1355,1783 1361,1776 1366,1769 1372,1761 1378,1754 1384,1748 1391,1741 1398,1734 1404,1729 1411,1723 1418,1718 1426,1714 1433,1709 1440,1706 1447,1702 1455,1698 1463,1695 1470,1692 1478,1690 1486,1687 1494,1685 1493,1682 1485,1685 1477,1687 1469,1690 1462,1693 1454,1696 1446,1699 1439,1703 1431,1707 1424,1712 1417,1716 1410,1721 1403,1727 1396,1732 1389,1739 1382,1746 1376,1753 1370,1760 1364,1767 1359,1774 1353,1781 1347,1789 1341,1796 1335,1803 1329,1811 1323,1818 1317,1825 1311,1832 1304,1839" fill="#aea8ef" fill-opacity="0.45"/><polygon points="1304,1839 1311,1832 1317,1825 1323,1818 1329,1811 1335,1803 1341,1796 1347,1789 1353,1781 1359,1774 1364,1767 1370,1760 1376,1753 1382,1746 1389,1739 1396,1732 1403,1727 1410,1721 1417,1716 1424,1712 1431,1707 1439,1703 1446,1699 1454,1696 1462,1693 1469,1690 1477,1687 1485,1685 1493,1682 1493,1680 1485,1682 1477,1685 1469,1688 1461,1690 1453,1694 1445,1697 1438,1701 1430,1705 1423,1709 1416,1714 1408,1719 1401,1725 1394,1730 1387,1737 1380,1744 1374,1751 1368,1758 1362,1765 1357,1773 1351,1780 1345,1787 1339,1794 1333,1802 1327,1809 1321,1816 1315,1823 1309,1830 1303,1837" fill="#aea8ef" fill-opacity="0.40"/><polygon points="1303,1837 1309,1830 1315,1823 1321,1816 1327,1809 1333,1802 1339,1794 1345,1787 1351,1780 1357,1773 1362,1765 1368,1758 1374,1751 1380,1744 1387,1737 1394,1730 1401,1725 1408,1719 1416,1714 1423,1709 1430,1705 1438,1701 1445,1697 1453,1694 1461,1690 1469,1688 1477,1685 1485,1682 1493,1680 1492,1677 1484,1680 1476,1682 1468,1685 1460,1688 1452,1691 1444,1695 1436,1699 1429,1703 1421,1707 1414,1712 1407,1717 1400,1723 1393,1728 1385,1735 1378,1742 1372,1749 1366,1756 1360,1764 1355,1771 1349,1778 1343,1786 1337,1793 1331,1800 1325,1807 1319,1815 1313,1822 1307,1829 1301,1836" fill="#aea8ef" fill-opacity="0.36"/><polygon points="1301,1836 1307,1829 1313,1822 1319,1815 1325,1807 1331,1800 1337,1793 1343,1786 1349,1778 1355,1771 1360,1764 1366,1756 1372,1749 1378,1742 1385,1735 1393,1728 1400,1723 1407,1717 1414,1712 1421,1707 1429,1703 1436,1699 1444,1695 1452,1691 1460,1688 1468,1685 1476,1682 1484,1680 1492,1677 1491,1675 1483,1677 1475,1680 1467,1683 1459,1686 1451,1689 1443,1692 1435,1696 1428,1700 1420,1705 1413,1710 1405,1715 1398,1721 1391,1726 1383,1733 1377,1741 1370,1748 1364,1755 1358,1762 1353,1769 1347,1777 1341,1784 1335,1791 1329,1799 1323,1806 1317,1813 1311,1820 1305,1827 1299,1834" fill="#aea8ef" fill-opacity="0.31"/><polygon points="1299,1834 1305,1827 1311,1820 1317,1813 1323,1806 1329,1799 1335,1791 1341,1784 1347,1777 1353,1769 1358,1762 1364,1755 1370,1748 1377,1741 1383,1733 1391,1726 1398,1721 1405,1715 1413,1710 1420,1705 1428,1700 1435,1696 1443,1692 1451,1689 1459,1686 1467,1683 1475,1680 1483,1677 1491,1675 1491,1672 1482,1675 1474,1677 1466,1680 1458,1683 1450,1687 1442,1690 1434,1694 1426,1698 1419,1703 1411,1708 1404,1713 1396,1718 1389,1724 1382,1731 1375,1739 1368,1746 1362,1753 1356,1760 1351,1768 1345,1775 1339,1782 1333,1790 1327,1797 1321,1804 1315,1811 1309,1818 1303,1825 1297,1832" fill="#aea8ef" fill-opacity="0.27"/><polygon points="1297,1832 1303,1825 1309,1818 1315,1811 1321,1804 1327,1797 1333,1790 1339,1782 1345,1775 1351,1768 1356,1760 1362,1753 1368,1746 1375,1739 1382,1731 1389,1724 1396,1718 1404,1713 1411,1708 1419,1703 1426,1698 1434,1694 1442,1690 1450,1687 1458,1683 1466,1680 1474,1677 1482,1675 1491,1672 1490,1670 1482,1672 1473,1675 1465,1678 1457,1681 1449,1684 1441,1688 1433,1692 1425,1696 1417,1701 1410,1705 1402,1711 1395,1716 1387,1723 1380,1730 1373,1737 1366,1744 1360,1751 1354,1759 1348,1766 1343,1773 1337,1781 1331,1788 1325,1795 1319,1802 1313,1810 1307,1817 1301,1823 1295,1830" fill="#aea8ef" fill-opacity="0.22"/><polygon points="1295,1830 1301,1823 1307,1817 1313,1810 1319,1802 1325,1795 1331,1788 1337,1781 1343,1773 1348,1766 1354,1759 1360,1751 1366,1744 1373,1737 1380,1730 1387,1723 1395,1716 1402,1711 1410,1705 1417,1701 1425,1696 1433,1692 1441,1688 1449,1684 1457,1681 1465,1678 1473,1675 1482,1672 1490,1670 1489,1667 1481,1670 1473,1672 1464,1675 1456,1678 1448,1682 1440,1685 1432,1689 1424,1694 1416,1698 1408,1703 1401,1709 1393,1714 1386,1721 1378,1728 1371,1735 1364,1743 1358,1750 1352,1757 1346,1764 1341,1772 1335,1779 1329,1786 1323,1794 1317,1801 1311,1808 1305,1815 1299,1822 1293,1829" fill="#aea8ef" fill-opacity="0.19"/><polygon points="1293,1829 1299,1822 1305,1815 1311,1808 1317,1801 1323,1794 1329,1786 1335,1779 1341,1772 1346,1764 1352,1757 1358,1750 1364,1743 1371,1735 1378,1728 1386,1721 1393,1714 1401,1709 1408,1703 1416,1698 1424,1694 1432,1689 1440,1685 1448,1682 1456,1678 1464,1675 1473,1672 1481,1670 1489,1667 1489,1665 1480,1667 1472,1670 1463,1673 1455,1676 1447,1679 1439,1683 1430,1687 1422,1691 1415,1696 1407,1701 1399,1707 1392,1712 1384,1719 1376,1726 1369,1734 1363,1741 1356,1748 1350,1755 1344,1763 1339,1770 1333,1777 1327,1785 1321,1792 1315,1799 1309,1806 1303,1813 1297,1820 1291,1827" fill="#aea8ef" fill-opacity="0.15"/><polygon points="1291,1827 1297,1820 1303,1813 1309,1806 1315,1799 1321,1792 1327,1785 1333,1777 1339,1770 1344,1763 1350,1755 1356,1748 1363,1741 1369,1734 1376,1726 1384,1719 1392,1712 1399,1707 1407,1701 1415,1696 1422,1691 1430,1687 1439,1683 1447,1679 1455,1676 1463,1673 1472,1670 1480,1667 1489,1665 1488,1662 1480,1665 1471,1667 1462,1670 1454,1674 1446,1677 1437,1681 1429,1685 1421,1689 1413,1694 1405,1699 1398,1704 1390,1710 1382,1717 1374,1724 1367,1732 1361,1739 1354,1746 1348,1754 1342,1761 1337,1768 1331,1776 1325,1783 1319,1790 1313,1797 1307,1805 1301,1811 1295,1818 1289,1825" fill="#aea8ef" fill-opacity="0.12"/><polygon points="1289,1825 1295,1818 1301,1811 1307,1805 1313,1797 1319,1790 1325,1783 1331,1776 1337,1768 1342,1761 1348,1754 1354,1746 1361,1739 1367,1732 1374,1724 1382,1717 1390,1710 1398,1704 1405,1699 1413,1694 1421,1689 1429,1685 1437,1681 1446,1677 1454,1674 1462,1670 1471,1667 1480,1665 1488,1662 1487,1660 1479,1662 1470,1665 1462,1668 1453,1671 1445,1675 1436,1678 1428,1682 1420,1687 1412,1692 1404,1697 1396,1702 1388,1708 1381,1715 1372,1722 1365,1730 1359,1738 1352,1745 1346,1752 1340,1760 1334,1767 1329,1774 1323,1781 1317,1789 1311,1796 1305,1803 1299,1810 1294,1816 1287,1823" fill="#aea8ef" fill-opacity="0.09"/><polygon points="1287,1823 1294,1816 1299,1810 1305,1803 1311,1796 1317,1789 1323,1781 1329,1774 1334,1767 1340,1760 1346,1752 1352,1745 1359,1738 1365,1730 1372,1722 1381,1715 1388,1708 1396,1702 1404,1697 1412,1692 1420,1687 1428,1682 1436,1678 1445,1675 1453,1671 1462,1668 1470,1665 1479,1662 1487,1660 1486,1657 1478,1660 1469,1663 1461,1665 1452,1669 1444,1672 1435,1676 1427,1680 1419,1685 1410,1689 1402,1695 1394,1700 1387,1706 1379,1713 1371,1720 1363,1729 1357,1736 1350,1743 1344,1750 1338,1758 1332,1765 1327,1773 1321,1780 1315,1787 1309,1794 1303,1801 1298,1808 1292,1815 1285,1822" fill="#aea8ef" fill-opacity="0.06"/><polygon points="1285,1822 1292,1815 1298,1808 1303,1801 1309,1794 1315,1787 1321,1780 1327,1773 1332,1765 1338,1758 1344,1750 1350,1743 1357,1736 1363,1729 1371,1720 1379,1713 1387,1706 1394,1700 1402,1695 1410,1689 1419,1685 1427,1680 1435,1676 1444,1672 1452,1669 1461,1665 1469,1663 1478,1660 1486,1657 1486,1655 1477,1657 1469,1660 1460,1663 1451,1666 1443,1670 1434,1674 1426,1678 1417,1682 1409,1687 1401,1693 1393,1698 1385,1704 1377,1711 1369,1718 1361,1727 1355,1734 1348,1741 1342,1749 1336,1756 1330,1764 1325,1771 1319,1778 1313,1785 1307,1793 1301,1800 1296,1806 1290,1813 1283,1820" fill="#aea8ef" fill-opacity="0.04"/><polygon points="1283,1820 1290,1813 1296,1806 1301,1800 1307,1793 1313,1785 1319,1778 1325,1771 1330,1764 1336,1756 1342,1749 1348,1741 1355,1734 1361,1727 1369,1718 1377,1711 1385,1704 1393,1698 1401,1693 1409,1687 1417,1682 1426,1678 1434,1674 1443,1670 1451,1666 1460,1663 1469,1660 1477,1657 1486,1655 1485,1652 1477,1655 1468,1658 1459,1661 1450,1664 1442,1667 1433,1671 1425,1676 1416,1680 1408,1685 1400,1690 1391,1696 1383,1702 1376,1709 1367,1717 1359,1725 1353,1732 1346,1740 1340,1747 1334,1755 1328,1762 1323,1769 1317,1777 1311,1784 1305,1791 1299,1798 1294,1805 1288,1811 1281,1818" fill="#aea8ef" fill-opacity="0.02"/><polygon points="1281,1818 1288,1811 1294,1805 1299,1798 1305,1791 1311,1784 1317,1777 1323,1769 1328,1762 1334,1755 1340,1747 1346,1740 1353,1732 1359,1725 1367,1717 1376,1709 1383,1702 1391,1696 1400,1690 1408,1685 1416,1680 1425,1676 1433,1671 1442,1667 1450,1664 1459,1661 1468,1658 1477,1655 1485,1652 1484,1650 1476,1652 1467,1655 1458,1658 1449,1661 1441,1665 1432,1669 1423,1673 1415,1678 1406,1683 1398,1688 1390,1694 1382,1700 1374,1707 1365,1715 1357,1723 1351,1731 1344,1738 1338,1746 1332,1753 1326,1760 1321,1768 1315,1775 1309,1782 1303,1789 1297,1796 1292,1803 1286,1810 1280,1816" fill="#aea8ef" fill-opacity="0.01"/></g>
<path d="M1473,1681 L1499,1695 L1473,1711 L1481,1695 Z" fill="#b5b0f0"/>
<g transform="translate(367.0,1663.3) rotate(89.7)"><path d="M-2,0 L-4.5,-21.6 C-10.1,-28.8 -11.1,-43.3 -9.1,-48.1 L9.1,-48.1 C11.1,-43.3 10.1,-28.8 4.5,-21.6 L2,0 Z" fill="#bedd84"/><path d="M-6.1,-46.6 L0,-24.0 L6.1,-46.6" fill="none" stroke="#dbeda6" stroke-width="2.4"/></g>
<g transform="translate(365.0,1687.6) rotate(99.8)"><path d="M-2,0 L-3.8,-18.8 C-8.7,-25.1 -9.6,-37.6 -7.8,-41.8 L7.8,-41.8 C9.6,-37.6 8.7,-25.1 3.8,-18.8 L2,0 Z" fill="#bedd84"/><path d="M-5.2,-40.5 L0,-20.9 L5.2,-40.5" fill="none" stroke="#dbeda6" stroke-width="2.1"/></g>
<g transform="translate(357.4,1714.6) rotate(111.5)"><path d="M-2,0 L-3.6,-18.7 C-8.2,-24.9 -9.0,-37.3 -7.4,-41.5 L7.4,-41.5 C9.0,-37.3 8.2,-24.9 3.6,-18.7 L2,0 Z" fill="#bedd84"/><path d="M-4.9,-40.2 L0,-20.7 L4.9,-40.2" fill="none" stroke="#dbeda6" stroke-width="2.0"/></g>
<g transform="translate(350.6,1729.2) rotate(118.2)"><path d="M-2,0 L-4.0,-21.2 C-9.2,-28.3 -10.1,-42.5 -8.3,-47.2 L8.3,-47.2 C10.1,-42.5 9.2,-28.3 4.0,-21.2 L2,0 Z" fill="#bedd84"/><path d="M-5.5,-45.8 L0,-23.6 L5.5,-45.8" fill="none" stroke="#dbeda6" stroke-width="2.2"/></g>
<g transform="translate(337.8,1748.9) rotate(127.9)"><path d="M-2,0 L-4.0,-21.7 C-9.2,-28.9 -10.1,-43.3 -8.2,-48.2 L8.2,-48.2 C10.1,-43.3 9.2,-28.9 4.0,-21.7 L2,0 Z" fill="#bedd84"/><path d="M-5.5,-46.7 L0,-24.1 L5.5,-46.7" fill="none" stroke="#dbeda6" stroke-width="2.2"/></g>
<g transform="translate(321.5,1766.4) rotate(137.9)"><path d="M-2,0 L-4.6,-22.3 C-10.5,-29.7 -11.6,-44.5 -9.5,-49.5 L9.5,-49.5 C11.6,-44.5 10.5,-29.7 4.6,-22.3 L2,0 Z" fill="#bedd84"/><path d="M-6.3,-48.0 L0,-24.7 L6.3,-48.0" fill="none" stroke="#dbeda6" stroke-width="2.5"/></g>
<g transform="translate(308.3,1777.0) rotate(145.0)"><path d="M-2,0 L-3.8,-17.1 C-8.6,-22.8 -9.5,-34.2 -7.8,-38.0 L7.8,-38.0 C9.5,-34.2 8.6,-22.8 3.8,-17.1 L2,0 Z" fill="#bedd84"/><path d="M-5.2,-36.9 L0,-19.0 L5.2,-36.9" fill="none" stroke="#dbeda6" stroke-width="2.1"/></g>
<g transform="translate(284.3,1790.4) rotate(156.4)"><path d="M-2,0 L-4.1,-22.0 C-9.4,-29.4 -10.4,-44.0 -8.5,-48.9 L8.5,-48.9 C10.4,-44.0 9.4,-29.4 4.1,-22.0 L2,0 Z" fill="#bedd84"/><path d="M-5.6,-47.5 L0,-24.5 L5.6,-47.5" fill="none" stroke="#dbeda6" stroke-width="2.3"/></g>
<g transform="translate(261.1,1798.2) rotate(166.6)"><path d="M-2,0 L-4.0,-22.4 C-9.2,-29.9 -10.1,-44.8 -8.3,-49.8 L8.3,-49.8 C10.1,-44.8 9.2,-29.9 4.0,-22.4 L2,0 Z" fill="#bedd84"/><path d="M-5.5,-48.3 L0,-24.9 L5.5,-48.3" fill="none" stroke="#dbeda6" stroke-width="2.2"/></g>
<g transform="translate(236.2,1801.8) rotate(177.0)"><path d="M-2,0 L-4.4,-17.5 C-9.9,-23.3 -10.9,-35.0 -8.9,-38.9 L8.9,-38.9 C10.9,-35.0 9.9,-23.3 4.4,-17.5 L2,0 Z" fill="#bedd84"/><path d="M-5.9,-37.7 L0,-19.4 L5.9,-37.7" fill="none" stroke="#dbeda6" stroke-width="2.4"/></g>
<g transform="translate(223.5,1801.9) rotate(182.3)"><path d="M-2,0 L-3.9,-21.3 C-8.8,-28.4 -9.7,-42.6 -7.9,-47.3 L7.9,-47.3 C9.7,-42.6 8.8,-28.4 3.9,-21.3 L2,0 Z" fill="#bedd84"/><path d="M-5.3,-45.9 L0,-23.7 L5.3,-45.9" fill="none" stroke="#dbeda6" stroke-width="2.1"/></g>
<g transform="translate(197.9,1798.4) rotate(193.0)"><path d="M-2,0 L-4.0,-17.6 C-9.0,-23.4 -9.9,-35.1 -8.1,-39.0 L8.1,-39.0 C9.9,-35.1 9.0,-23.4 4.0,-17.6 L2,0 Z" fill="#bedd84"/><path d="M-5.4,-37.9 L0,-19.5 L5.4,-37.9" fill="none" stroke="#dbeda6" stroke-width="2.2"/></g>
<g transform="translate(179.0,1792.6) rotate(201.2)"><path d="M-2,0 L-4.5,-22.3 C-10.3,-29.7 -11.3,-44.6 -9.2,-49.6 L9.2,-49.6 C11.3,-44.6 10.3,-29.7 4.5,-22.3 L2,0 Z" fill="#bedd84"/><path d="M-6.2,-48.1 L0,-24.8 L6.2,-48.1" fill="none" stroke="#dbeda6" stroke-width="2.5"/></g>
<g transform="translate(149.8,1777.0) rotate(215.0)"><path d="M-2,0 L-3.8,-17.7 C-8.7,-23.6 -9.6,-35.5 -7.9,-39.4 L7.9,-39.4 C9.6,-35.5 8.7,-23.6 3.8,-17.7 L2,0 Z" fill="#bedd84"/><path d="M-5.2,-38.2 L0,-19.7 L5.2,-38.2" fill="none" stroke="#dbeda6" stroke-width="2.1"/></g>
<g transform="translate(133.5,1763.6) rotate(223.8)"><path d="M-2,0 L-3.6,-17.6 C-8.2,-23.5 -9.0,-35.3 -7.4,-39.2 L7.4,-39.2 C9.0,-35.3 8.2,-23.5 3.6,-17.6 L2,0 Z" fill="#bedd84"/><path d="M-4.9,-38.0 L0,-19.6 L4.9,-38.0" fill="none" stroke="#dbeda6" stroke-width="2.0"/></g>
<g transform="translate(124.3,1753.9) rotate(229.4)"><path d="M-2,0 L-3.8,-21.4 C-8.5,-28.5 -9.4,-42.8 -7.7,-47.6 L7.7,-47.6 C9.4,-42.8 8.5,-28.5 3.8,-21.4 L2,0 Z" fill="#bedd84"/><path d="M-5.1,-46.1 L0,-23.8 L5.1,-46.1" fill="none" stroke="#dbeda6" stroke-width="2.0"/></g>
<g transform="translate(104.5,1723.5) rotate(244.5)"><path d="M-2,0 L-4.1,-20.1 C-9.3,-26.8 -10.3,-40.2 -8.4,-44.7 L8.4,-44.7 C10.3,-40.2 9.3,-26.8 4.1,-20.1 L2,0 Z" fill="#bedd84"/><path d="M-5.6,-43.4 L0,-22.4 L5.6,-43.4" fill="none" stroke="#dbeda6" stroke-width="2.2"/></g>
<g transform="translate(96.5,1702.4) rotate(253.8)"><path d="M-2,0 L-4.5,-18.1 C-10.2,-24.2 -11.2,-36.3 -9.2,-40.3 L9.2,-40.3 C11.2,-36.3 10.2,-24.2 4.5,-18.1 L2,0 Z" fill="#bedd84"/><path d="M-6.1,-39.1 L0,-20.1 L6.1,-39.1" fill="none" stroke="#dbeda6" stroke-width="2.4"/></g>
<g transform="translate(92.5,1684.5) rotate(261.4)"><path d="M-2,0 L-4.4,-17.8 C-9.9,-23.7 -10.9,-35.6 -8.9,-39.6 L8.9,-39.6 C10.9,-35.6 9.9,-23.7 4.4,-17.8 L2,0 Z" fill="#bedd84"/><path d="M-6.0,-38.4 L0,-19.8 L6.0,-38.4" fill="none" stroke="#dbeda6" stroke-width="2.4"/></g>
<g transform="translate(91.0,1662.3) rotate(270.7)"><path d="M-2,0 L-4.1,-17.7 C-9.3,-23.6 -10.2,-35.5 -8.3,-39.4 L8.3,-39.4 C10.2,-35.5 9.3,-23.6 4.1,-17.7 L2,0 Z" fill="#bedd84"/><path d="M-5.6,-38.2 L0,-19.7 L5.6,-38.2" fill="none" stroke="#dbeda6" stroke-width="2.2"/></g>
<g transform="translate(92.2,1646.2) rotate(277.4)"><path d="M-2,0 L-3.9,-18.2 C-8.8,-24.3 -9.7,-36.5 -7.9,-40.6 L7.9,-40.6 C9.7,-36.5 8.8,-24.3 3.9,-18.2 L2,0 Z" fill="#bedd84"/><path d="M-5.3,-39.3 L0,-20.3 L5.3,-39.3" fill="none" stroke="#dbeda6" stroke-width="2.1"/></g>
<g transform="translate(96.4,1625.9) rotate(286.0)"><path d="M-2,0 L-4.6,-22.3 C-10.4,-29.8 -11.5,-44.7 -9.4,-49.7 L9.4,-49.7 C11.5,-44.7 10.4,-29.8 4.6,-22.3 L2,0 Z" fill="#bedd84"/><path d="M-6.2,-48.2 L0,-24.8 L6.2,-48.2" fill="none" stroke="#dbeda6" stroke-width="2.5"/></g>
<g transform="translate(107.8,1598.0) rotate(298.6)"><path d="M-2,0 L-4.7,-18.7 C-10.7,-25.0 -11.7,-37.5 -9.6,-41.6 L9.6,-41.6 C11.7,-37.5 10.7,-25.0 4.7,-18.7 L2,0 Z" fill="#bedd84"/><path d="M-6.4,-40.4 L0,-20.8 L6.4,-40.4" fill="none" stroke="#dbeda6" stroke-width="2.6"/></g>
<g transform="translate(116.3,1584.3) rotate(305.3)"><path d="M-2,0 L-4.0,-18.2 C-9.2,-24.3 -10.1,-36.5 -8.3,-40.5 L8.3,-40.5 C10.1,-36.5 9.2,-24.3 4.0,-18.2 L2,0 Z" fill="#bedd84"/><path d="M-5.5,-39.3 L0,-20.3 L5.5,-39.3" fill="none" stroke="#dbeda6" stroke-width="2.2"/></g>
<g transform="translate(132.3,1565.6) rotate(315.5)"><path d="M-2,0 L-4.4,-21.7 C-9.9,-29.0 -10.9,-43.4 -8.9,-48.3 L8.9,-48.3 C10.9,-43.4 9.9,-29.0 4.4,-21.7 L2,0 Z" fill="#bedd84"/><path d="M-6.0,-46.8 L0,-24.1 L6.0,-46.8" fill="none" stroke="#dbeda6" stroke-width="2.4"/></g>
<g transform="translate(150.4,1550.6) rotate(325.3)"><path d="M-2,0 L-4.8,-17.6 C-11.0,-23.5 -12.1,-35.3 -9.9,-39.2 L9.9,-39.2 C12.1,-35.3 11.0,-23.5 4.8,-17.6 L2,0 Z" fill="#bedd84"/><path d="M-6.6,-38.0 L0,-19.6 L6.6,-38.0" fill="none" stroke="#dbeda6" stroke-width="2.6"/></g>
<g transform="translate(167.4,1540.5) rotate(333.5)"><path d="M-2,0 L-3.9,-18.3 C-8.8,-24.3 -9.7,-36.5 -7.9,-40.6 L7.9,-40.6 C9.7,-36.5 8.8,-24.3 3.9,-18.3 L2,0 Z" fill="#bedd84"/><path d="M-5.3,-39.3 L0,-20.3 L5.3,-39.3" fill="none" stroke="#dbeda6" stroke-width="2.1"/></g>
<g transform="translate(194.6,1530.4) rotate(345.6)"><path d="M-2,0 L-4.0,-21.3 C-9.0,-28.4 -9.9,-42.5 -8.1,-47.3 L8.1,-47.3 C9.9,-42.5 9.0,-28.4 4.0,-21.3 L2,0 Z" fill="#bedd84"/><path d="M-5.4,-45.9 L0,-23.6 L5.4,-45.9" fill="none" stroke="#dbeda6" stroke-width="2.2"/></g>
<g transform="translate(216.7,1526.5) rotate(354.9)"><path d="M-2,0 L-3.6,-18.7 C-8.2,-24.9 -9.0,-37.4 -7.4,-41.6 L7.4,-41.6 C9.0,-37.4 8.2,-24.9 3.6,-18.7 L2,0 Z" fill="#bedd84"/><path d="M-4.9,-40.3 L0,-20.8 L4.9,-40.3" fill="none" stroke="#dbeda6" stroke-width="2.0"/></g>
<g transform="translate(245.3,1527.0) rotate(366.8)"><path d="M-2,0 L-4.3,-17.6 C-9.7,-23.4 -10.7,-35.2 -8.8,-39.1 L8.8,-39.1 C10.7,-35.2 9.7,-23.4 4.3,-17.6 L2,0 Z" fill="#bedd84"/><path d="M-5.8,-37.9 L0,-19.5 L5.8,-37.9" fill="none" stroke="#dbeda6" stroke-width="2.3"/></g>
<g transform="translate(263.1,1530.3) rotate(374.3)"><path d="M-2,0 L-4.3,-18.4 C-9.8,-24.5 -10.8,-36.8 -8.8,-40.9 L8.8,-40.9 C10.8,-36.8 9.8,-24.5 4.3,-18.4 L2,0 Z" fill="#bedd84"/><path d="M-5.9,-39.7 L0,-20.5 L5.9,-39.7" fill="none" stroke="#dbeda6" stroke-width="2.4"/></g>
<g transform="translate(286.3,1538.5) rotate(384.5)"><path d="M-2,0 L-4.1,-19.1 C-9.4,-25.5 -10.3,-38.2 -8.4,-42.5 L8.4,-42.5 C10.3,-38.2 9.4,-25.5 4.1,-19.1 L2,0 Z" fill="#bedd84"/><path d="M-5.6,-41.2 L0,-21.2 L5.6,-41.2" fill="none" stroke="#dbeda6" stroke-width="2.2"/></g>
<g transform="translate(304.5,1548.5) rotate(393.2)"><path d="M-2,0 L-4.2,-22.3 C-9.5,-29.7 -10.4,-44.6 -8.5,-49.5 L8.5,-49.5 C10.4,-44.6 9.5,-29.7 4.2,-22.3 L2,0 Z" fill="#bedd84"/><path d="M-5.7,-48.0 L0,-24.8 L5.7,-48.0" fill="none" stroke="#dbeda6" stroke-width="2.3"/></g>
<g transform="translate(324.2,1564.1) rotate(403.6)"><path d="M-2,0 L-4.7,-20.2 C-10.6,-26.9 -11.7,-40.4 -9.5,-44.9 L9.5,-44.9 C11.7,-40.4 10.6,-26.9 4.7,-20.2 L2,0 Z" fill="#bedd84"/><path d="M-6.4,-43.5 L0,-22.4 L6.4,-43.5" fill="none" stroke="#dbeda6" stroke-width="2.5"/></g>
<g transform="translate(337.5,1578.8) rotate(411.8)"><path d="M-2,0 L-3.7,-18.1 C-8.5,-24.1 -9.3,-36.2 -7.6,-40.2 L7.6,-40.2 C9.3,-36.2 8.5,-24.1 3.7,-18.1 L2,0 Z" fill="#bedd84"/><path d="M-5.1,-39.0 L0,-20.1 L5.1,-39.0" fill="none" stroke="#dbeda6" stroke-width="2.0"/></g>
<g transform="translate(348.8,1595.5) rotate(420.2)"><path d="M-2,0 L-4.6,-22.0 C-10.5,-29.3 -11.5,-44.0 -9.4,-48.9 L9.4,-48.9 C11.5,-44.0 10.5,-29.3 4.6,-22.0 L2,0 Z" fill="#bedd84"/><path d="M-6.3,-47.4 L0,-24.5 L6.3,-47.4" fill="none" stroke="#dbeda6" stroke-width="2.5"/></g>
<g transform="translate(361.7,1626.1) rotate(434.0)"><path d="M-2,0 L-3.8,-18.4 C-8.6,-24.6 -9.4,-36.9 -7.7,-41.0 L7.7,-41.0 C9.4,-36.9 8.6,-24.6 3.8,-18.4 L2,0 Z" fill="#bedd84"/><path d="M-5.1,-39.8 L0,-20.5 L5.1,-39.8" fill="none" stroke="#dbeda6" stroke-width="2.1"/></g>
<g transform="translate(366.1,1648.4) rotate(443.5)"><path d="M-2,0 L-4.8,-21.1 C-10.8,-28.1 -11.9,-42.2 -9.7,-46.9 L9.7,-46.9 C11.9,-42.2 10.8,-28.1 4.8,-21.1 L2,0 Z" fill="#bedd84"/><path d="M-6.5,-45.5 L0,-23.4 L6.5,-45.5" fill="none" stroke="#dbeda6" stroke-width="2.6"/></g>
<line x1="374.2" y1="1679.3" x2="382.2" y2="1680.1" stroke="#7cc6e6" stroke-width="2"/><circle cx="382.2" cy="1680.1" r="3.8" fill="#4fb3e2"/>
<line x1="364.0" y1="1719.6" x2="371.4" y2="1722.6" stroke="#7cc6e6" stroke-width="2"/><circle cx="371.4" cy="1722.6" r="3.8" fill="#4fb3e2"/>
<line x1="342.9" y1="1755.3" x2="349.1" y2="1760.3" stroke="#7cc6e6" stroke-width="2"/><circle cx="349.1" cy="1760.3" r="3.8" fill="#4fb3e2"/>
<line x1="312.6" y1="1783.7" x2="317.1" y2="1790.3" stroke="#7cc6e6" stroke-width="2"/><circle cx="317.1" cy="1790.3" r="3.8" fill="#4fb3e2"/>
<line x1="275.4" y1="1802.4" x2="278.0" y2="1810.0" stroke="#7cc6e6" stroke-width="2"/><circle cx="278.0" cy="1810.0" r="3.8" fill="#4fb3e2"/>
<line x1="234.6" y1="1809.9" x2="234.9" y2="1817.9" stroke="#7cc6e6" stroke-width="2"/><circle cx="234.9" cy="1817.9" r="3.8" fill="#4fb3e2"/>
<line x1="193.2" y1="1805.6" x2="191.3" y2="1813.3" stroke="#7cc6e6" stroke-width="2"/><circle cx="191.3" cy="1813.3" r="3.8" fill="#4fb3e2"/>
<line x1="154.8" y1="1789.7" x2="150.7" y2="1796.6" stroke="#7cc6e6" stroke-width="2"/><circle cx="150.7" cy="1796.6" r="3.8" fill="#4fb3e2"/>
<line x1="122.4" y1="1763.7" x2="116.5" y2="1769.2" stroke="#7cc6e6" stroke-width="2"/><circle cx="116.5" cy="1769.2" r="3.8" fill="#4fb3e2"/>
<line x1="98.6" y1="1729.7" x2="91.5" y2="1733.3" stroke="#7cc6e6" stroke-width="2"/><circle cx="91.5" cy="1733.3" r="3.8" fill="#4fb3e2"/>
<line x1="85.4" y1="1690.3" x2="77.5" y2="1691.7" stroke="#7cc6e6" stroke-width="2"/><circle cx="77.5" cy="1691.7" r="3.8" fill="#4fb3e2"/>
<line x1="83.8" y1="1648.7" x2="75.8" y2="1647.9" stroke="#7cc6e6" stroke-width="2"/><circle cx="75.8" cy="1647.9" r="3.8" fill="#4fb3e2"/>
<line x1="94.0" y1="1608.4" x2="86.6" y2="1605.4" stroke="#7cc6e6" stroke-width="2"/><circle cx="86.6" cy="1605.4" r="3.8" fill="#4fb3e2"/>
<line x1="115.1" y1="1572.7" x2="108.9" y2="1567.7" stroke="#7cc6e6" stroke-width="2"/><circle cx="108.9" cy="1567.7" r="3.8" fill="#4fb3e2"/>
<line x1="145.4" y1="1544.3" x2="140.9" y2="1537.7" stroke="#7cc6e6" stroke-width="2"/><circle cx="140.9" cy="1537.7" r="3.8" fill="#4fb3e2"/>
<line x1="182.6" y1="1525.6" x2="180.0" y2="1518.0" stroke="#7cc6e6" stroke-width="2"/><circle cx="180.0" cy="1518.0" r="3.8" fill="#4fb3e2"/>
<line x1="223.4" y1="1518.1" x2="223.1" y2="1510.1" stroke="#7cc6e6" stroke-width="2"/><circle cx="223.1" cy="1510.1" r="3.8" fill="#4fb3e2"/>
<line x1="264.8" y1="1522.4" x2="266.7" y2="1514.7" stroke="#7cc6e6" stroke-width="2"/><circle cx="266.7" cy="1514.7" r="3.8" fill="#4fb3e2"/>
<line x1="303.2" y1="1538.3" x2="307.3" y2="1531.4" stroke="#7cc6e6" stroke-width="2"/><circle cx="307.3" cy="1531.4" r="3.8" fill="#4fb3e2"/>
<line x1="335.6" y1="1564.3" x2="341.5" y2="1558.8" stroke="#7cc6e6" stroke-width="2"/><circle cx="341.5" cy="1558.8" r="3.8" fill="#4fb3e2"/>
<line x1="359.4" y1="1598.3" x2="366.5" y2="1594.7" stroke="#7cc6e6" stroke-width="2"/><circle cx="366.5" cy="1594.7" r="3.8" fill="#4fb3e2"/>
<line x1="372.6" y1="1637.7" x2="380.5" y2="1636.3" stroke="#7cc6e6" stroke-width="2"/><circle cx="380.5" cy="1636.3" r="3.8" fill="#4fb3e2"/>
<ellipse cx="229" cy="1664" rx="151" ry="150" fill="url(#vbody)"/>
<g opacity="0.7"><path d="M274.9 1800.3a1.7 1.7 0 1 0 3.4 0a1.7 1.7 0 1 0 -3.4 0M277.7 1690.7a.9 .9 0 1 0 1.8 0a.9 .9 0 1 0 -1.8 0M103.6 1731.4a1.3 1.3 0 1 0 2.6 0a1.3 1.3 0 1 0 -2.6 0M184.1 1525.6a.8 .8 0 1 0 1.6 0a.8 .8 0 1 0 -1.6 0M288.7 1663.8a1.3 1.3 0 1 0 2.7 0a1.3 1.3 0 1 0 -2.7 0M266 1527.2a1.2 1.2 0 1 0 2.3 0a1.2 1.2 0 1 0 -2.3 0M133 1550.9a1.7 1.7 0 1 0 3.4 0a1.7 1.7 0 1 0 -3.4 0M100.9 1713.9a.9 .9 0 1 0 1.8 0a.9 .9 0 1 0 -1.8 0M291.8 1646.3a1.6 1.6 0 1 0 3.2 0a1.6 1.6 0 1 0 -3.2 0M145 1739a1.5 1.5 0 1 0 2.9 0a1.5 1.5 0 1 0 -2.9 0M269.2 1586.8a1.4 1.4 0 1 0 2.8 0a1.4 1.4 0 1 0 -2.8 0M198.1 1552.1a1.1 1.1 0 1 0 2.2 0a1.1 1.1 0 1 0 -2.2 0M294.9 1657.3a.9 .9 0 1 0 1.8 0a.9 .9 0 1 0 -1.8 0M151.7 1552.8a1.8 1.8 0 1 0 3.5 0a1.8 1.8 0 1 0 -3.5 0M271.4 1792.4a1.1 1.1 0 1 0 2.1 0a1.1 1.1 0 1 0 -2.1 0M247.2 1794.8a1.3 1.3 0 1 0 2.7 0a1.3 1.3 0 1 0 -2.7 0M80.5 1663.6a1 1 0 1 0 1.9 0a1 1 0 1 0 -1.9 0M279.6 1629a1.7 1.7 0 1 0 3.5 0a1.7 1.7 0 1 0 -3.5 0M108.7 1691.7a1 1 0 1 0 2 0a1 1 0 1 0 -2 0M98.3 1633.4a1.1 1.1 0 1 0 2.2 0a1.1 1.1 0 1 0 -2.2 0M82.1 1691.2a1.7 1.7 0 1 0 3.4 0a1.7 1.7 0 1 0 -3.4 0M139.7 1649.2a1.5 1.5 0 1 0 3.1 0a1.5 1.5 0 1 0 -3.1 0M190.1 1755.2a1.6 1.6 0 1 0 3.3 0a1.6 1.6 0 1 0 -3.3 0M262.9 1796.8a1.8 1.8 0 1 0 3.5 0a1.8 1.8 0 1 0 -3.5 0M127.5 1653.9a1.6 1.6 0 1 0 3.2 0a1.6 1.6 0 1 0 -3.2 0M274 1708.3a1 1 0 1 0 1.9 0a1 1 0 1 0 -1.9 0M343.8 1580.4a1.7 1.7 0 1 0 3.4 0a1.7 1.7 0 1 0 -3.4 0M255.8 1705.3a1.1 1.1 0 1 0 2.2 0a1.1 1.1 0 1 0 -2.2 0M154.4 1758.6a.9 .9 0 1 0 1.8 0a.9 .9 0 1 0 -1.8 0M108 1596a1.4 1.4 0 1 0 2.8 0a1.4 1.4 0 1 0 -2.8 0M136.6 1563.4a1.4 1.4 0 1 0 2.8 0a1.4 1.4 0 1 0 -2.8 0M261.8 1779.9a1.4 1.4 0 1 0 2.9 0a1.4 1.4 0 1 0 -2.9 0M309.9 1737.1a1.6 1.6 0 1 0 3.1 0a1.6 1.6 0 1 0 -3.1 0M270.6 1697.8a1.4 1.4 0 1 0 2.7 0a1.4 1.4 0 1 0 -2.7 0M266.3 1795a1.8 1.8 0 1 0 3.6 0a1.8 1.8 0 1 0 -3.6 0M332.4 1580.7a1.5 1.5 0 1 0 3 0a1.5 1.5 0 1 0 -3 0M335.5 1621.1a1 1 0 1 0 2 0a1 1 0 1 0 -2 0M242 1533.5a1.2 1.2 0 1 0 2.4 0a1.2 1.2 0 1 0 -2.4 0M323.3 1670.4a1.4 1.4 0 1 0 2.9 0a1.4 1.4 0 1 0 -2.9 0M163.1 1768.9a1.4 1.4 0 1 0 2.7 0a1.4 1.4 0 1 0 -2.7 0M122.2 1629.8a1.8 1.8 0 1 0 3.5 0a1.8 1.8 0 1 0 -3.5 0M264.6 1610.7a1.2 1.2 0 1 0 2.5 0a1.2 1.2 0 1 0 -2.5 0M324.1 1629.5a1.3 1.3 0 1 0 2.7 0a1.3 1.3 0 1 0 -2.7 0M357.5 1686.1a1.4 1.4 0 1 0 2.8 0a1.4 1.4 0 1 0 -2.8 0M105.4 1662.3a1 1 0 1 0 2 0a1 1 0 1 0 -2 0M283.9 1691.6a1.5 1.5 0 1 0 3 0a1.5 1.5 0 1 0 -3 0M213.3 1733.5a1.2 1.2 0 1 0 2.3 0a1.2 1.2 0 1 0 -2.3 0M253.7 1807.2a1.5 1.5 0 1 0 3.1 0a1.5 1.5 0 1 0 -3.1 0M175.6 1559.1a1.6 1.6 0 1 0 3.2 0a1.6 1.6 0 1 0 -3.2 0M104.6 1611.9a1.3 1.3 0 1 0 2.7 0a1.3 1.3 0 1 0 -2.7 0M332.4 1725.4a.9 .9 0 1 0 1.9 0a.9 .9 0 1 0 -1.9 0M114.6 1668.5a1.5 1.5 0 1 0 3 0a1.5 1.5 0 1 0 -3 0M186.1 1626a1.6 1.6 0 1 0 3.1 0a1.6 1.6 0 1 0 -3.1 0M338.4 1570.7a1.4 1.4 0 1 0 2.9 0a1.4 1.4 0 1 0 -2.9 0M300.5 1621.5a1 1 0 1 0 1.9 0a1 1 0 1 0 -1.9 0M111.3 1745.5a1.7 1.7 0 1 0 3.5 0a1.7 1.7 0 1 0 -3.5 0M127.1 1673.6a1.8 1.8 0 1 0 3.5 0a1.8 1.8 0 1 0 -3.5 0M131.9 1552.3a1.1 1.1 0 1 0 2.1 0a1.1 1.1 0 1 0 -2.1 0M205.9 1605.6a1.5 1.5 0 1 0 3.1 0a1.5 1.5 0 1 0 -3.1 0M308.3 1705.7a1.3 1.3 0 1 0 2.5 0a1.3 1.3 0 1 0 -2.5 0M283.6 1688.9a.9 .9 0 1 0 1.9 0a.9 .9 0 1 0 -1.9 0M199.5 1622.9a1.2 1.2 0 1 0 2.4 0a1.2 1.2 0 1 0 -2.4 0M312.2 1556.3a1.5 1.5 0 1 0 3 0a1.5 1.5 0 1 0 -3 0M296.8 1762.5a1.7 1.7 0 1 0 3.5 0a1.7 1.7 0 1 0 -3.5 0M199.7 1753.8a1.2 1.2 0 1 0 2.4 0a1.2 1.2 0 1 0 -2.4 0M158.7 1790.5a1.4 1.4 0 1 0 2.7 0a1.4 1.4 0 1 0 -2.7 0M268.1 1713.5a1.5 1.5 0 1 0 3 0a1.5 1.5 0 1 0 -3 0M318.1 1614.7a1.3 1.3 0 1 0 2.6 0a1.3 1.3 0 1 0 -2.6 0M261.9 1748.2a1.2 1.2 0 1 0 2.5 0a1.2 1.2 0 1 0 -2.5 0M157.3 1628.8a1.7 1.7 0 1 0 3.5 0a1.7 1.7 0 1 0 -3.5 0M105.1 1702a1 1 0 1 0 2.1 0a1 1 0 1 0 -2.1 0M130.8 1692.5a1.6 1.6 0 1 0 3.2 0a1.6 1.6 0 1 0 -3.2 0M218 1779.2a1.1 1.1 0 1 0 2.3 0a1.1 1.1 0 1 0 -2.3 0M228.4 1555.6a1.8 1.8 0 1 0 3.6 0a1.8 1.8 0 1 0 -3.6 0M140.5 1720.1a1.4 1.4 0 1 0 2.7 0a1.4 1.4 0 1 0 -2.7 0M147.9 1544.2a1.7 1.7 0 1 0 3.4 0a1.7 1.7 0 1 0 -3.4 0" fill="#e8938a"/><path d="M308.4 1644.7a1.5 1.5 0 1 0 3 0a1.5 1.5 0 1 0 -3 0M286.7 1702.5a1.3 1.3 0 1 0 2.5 0a1.3 1.3 0 1 0 -2.5 0M107.3 1587.7a1.3 1.3 0 1 0 2.5 0a1.3 1.3 0 1 0 -2.5 0M303.5 1576.2a1.4 1.4 0 1 0 2.8 0a1.4 1.4 0 1 0 -2.8 0M158.3 1789.5a1.5 1.5 0 1 0 3 0a1.5 1.5 0 1 0 -3 0M303 1623.2a.8 .8 0 1 0 1.6 0a.8 .8 0 1 0 -1.6 0M301.8 1757.4a1.3 1.3 0 1 0 2.6 0a1.3 1.3 0 1 0 -2.6 0M171.4 1575.8a1.7 1.7 0 1 0 3.4 0a1.7 1.7 0 1 0 -3.4 0M299.8 1596.4a1.4 1.4 0 1 0 2.8 0a1.4 1.4 0 1 0 -2.8 0M308.6 1733.7a1.7 1.7 0 1 0 3.5 0a1.7 1.7 0 1 0 -3.5 0M144.6 1744.9a1.7 1.7 0 1 0 3.4 0a1.7 1.7 0 1 0 -3.4 0M259.4 1801.2a1.8 1.8 0 1 0 3.6 0a1.8 1.8 0 1 0 -3.6 0M286.9 1589a.9 .9 0 1 0 1.8 0a.9 .9 0 1 0 -1.8 0M294.5 1558a1.7 1.7 0 1 0 3.5 0a1.7 1.7 0 1 0 -3.5 0M117.1 1604.3a1.6 1.6 0 1 0 3.1 0a1.6 1.6 0 1 0 -3.1 0M284.2 1759.3a1.7 1.7 0 1 0 3.4 0a1.7 1.7 0 1 0 -3.4 0M89.7 1700.3a1.6 1.6 0 1 0 3.2 0a1.6 1.6 0 1 0 -3.2 0M215.2 1770.5a.9 .9 0 1 0 1.9 0a.9 .9 0 1 0 -1.9 0M195.8 1734.6a1.4 1.4 0 1 0 2.8 0a1.4 1.4 0 1 0 -2.8 0M264 1770.4a1.2 1.2 0 1 0 2.5 0a1.2 1.2 0 1 0 -2.5 0M270.2 1710.6a1.2 1.2 0 1 0 2.4 0a1.2 1.2 0 1 0 -2.4 0M265.2 1783a1.7 1.7 0 1 0 3.4 0a1.7 1.7 0 1 0 -3.4 0M363.6 1662.8a1.6 1.6 0 1 0 3.2 0a1.6 1.6 0 1 0 -3.2 0M275.9 1697.2a1.8 1.8 0 1 0 3.5 0a1.8 1.8 0 1 0 -3.5 0M284.7 1694.2a1.2 1.2 0 1 0 2.4 0a1.2 1.2 0 1 0 -2.4 0M191.2 1622.8a1 1 0 1 0 2 0a1 1 0 1 0 -2 0M176.7 1624.8a1.6 1.6 0 1 0 3.2 0a1.6 1.6 0 1 0 -3.2 0M222.8 1531.9a1.6 1.6 0 1 0 3.2 0a1.6 1.6 0 1 0 -3.2 0M290.2 1733.3a1.3 1.3 0 1 0 2.7 0a1.3 1.3 0 1 0 -2.7 0M310.2 1690.7a1.8 1.8 0 1 0 3.5 0a1.8 1.8 0 1 0 -3.5 0M277.6 1707.6a1 1 0 1 0 2.1 0a1 1 0 1 0 -2.1 0M181.6 1697a1 1 0 1 0 2 0a1 1 0 1 0 -2 0M313.2 1669.8a1.1 1.1 0 1 0 2.2 0a1.1 1.1 0 1 0 -2.2 0M297.5 1574.7a1.4 1.4 0 1 0 2.8 0a1.4 1.4 0 1 0 -2.8 0M184.8 1767.9a1.3 1.3 0 1 0 2.6 0a1.3 1.3 0 1 0 -2.6 0M145.5 1631.2a1.5 1.5 0 1 0 3 0a1.5 1.5 0 1 0 -3 0M300.1 1772.6a1.2 1.2 0 1 0 2.4 0a1.2 1.2 0 1 0 -2.4 0M226.6 1607.2a1.8 1.8 0 1 0 3.6 0a1.8 1.8 0 1 0 -3.6 0M354.3 1727a1.2 1.2 0 1 0 2.5 0a1.2 1.2 0 1 0 -2.5 0M174.2 1623.3a1.4 1.4 0 1 0 2.8 0a1.4 1.4 0 1 0 -2.8 0M301.7 1737.6a1.5 1.5 0 1 0 2.9 0a1.5 1.5 0 1 0 -2.9 0M129.7 1591.9a1.5 1.5 0 1 0 3 0a1.5 1.5 0 1 0 -3 0M246.9 1553.3a1.8 1.8 0 1 0 3.6 0a1.8 1.8 0 1 0 -3.6 0M219.9 1581.2a.9 .9 0 1 0 1.8 0a.9 .9 0 1 0 -1.8 0M253.6 1546.4a1.2 1.2 0 1 0 2.3 0a1.2 1.2 0 1 0 -2.3 0M284.8 1678.4a1.1 1.1 0 1 0 2.1 0a1.1 1.1 0 1 0 -2.1 0M281.9 1673.2a1 1 0 1 0 2 0a1 1 0 1 0 -2 0M241.7 1809.8a1.3 1.3 0 1 0 2.6 0a1.3 1.3 0 1 0 -2.6 0M143.8 1754a1.8 1.8 0 1 0 3.6 0a1.8 1.8 0 1 0 -3.6 0M140.6 1706.7a.9 .9 0 1 0 1.8 0a.9 .9 0 1 0 -1.8 0M282.5 1693.5a1.4 1.4 0 1 0 2.7 0a1.4 1.4 0 1 0 -2.7 0M190.5 1561.2a1.6 1.6 0 1 0 3.1 0a1.6 1.6 0 1 0 -3.1 0M162.1 1789.1a1.1 1.1 0 1 0 2.2 0a1.1 1.1 0 1 0 -2.2 0M98.3 1604a1.7 1.7 0 1 0 3.5 0a1.7 1.7 0 1 0 -3.5 0M103.9 1714.9a1.1 1.1 0 1 0 2.2 0a1.1 1.1 0 1 0 -2.2 0M228.9 1760.6a1.2 1.2 0 1 0 2.3 0a1.2 1.2 0 1 0 -2.3 0M157.7 1635a1.6 1.6 0 1 0 3.1 0a1.6 1.6 0 1 0 -3.1 0M94.9 1604.2a1.5 1.5 0 1 0 2.9 0a1.5 1.5 0 1 0 -2.9 0M183.9 1739.2a.9 .9 0 1 0 1.8 0a.9 .9 0 1 0 -1.8 0M268.9 1570.2a1.5 1.5 0 1 0 3 0a1.5 1.5 0 1 0 -3 0M238.2 1552.9a1.6 1.6 0 1 0 3.1 0a1.6 1.6 0 1 0 -3.1 0M196.1 1701.7a.9 .9 0 1 0 1.8 0a.9 .9 0 1 0 -1.8 0M175.2 1716.4a1 1 0 1 0 2 0a1 1 0 1 0 -2 0M141.5 1648.1a1.7 1.7 0 1 0 3.4 0a1.7 1.7 0 1 0 -3.4 0M339.2 1595.7a.8 .8 0 1 0 1.6 0a.8 .8 0 1 0 -1.6 0M153.2 1754.7a1.4 1.4 0 1 0 2.8 0a1.4 1.4 0 1 0 -2.8 0M160.6 1618.3a1 1 0 1 0 2 0a1 1 0 1 0 -2 0M98.8 1623.7a1.3 1.3 0 1 0 2.6 0a1.3 1.3 0 1 0 -2.6 0M163 1711.6a.9 .9 0 1 0 1.9 0a.9 .9 0 1 0 -1.9 0M182.6 1594.6a.8 .8 0 1 0 1.6 0a.8 .8 0 1 0 -1.6 0M315 1605a1 1 0 1 0 2.1 0a1 1 0 1 0 -2.1 0M170.7 1618.9a1 1 0 1 0 1.9 0a1 1 0 1 0 -1.9 0M156.4 1759.9a1.3 1.3 0 1 0 2.7 0a1.3 1.3 0 1 0 -2.7 0M283.9 1593.3a1.6 1.6 0 1 0 3.2 0a1.6 1.6 0 1 0 -3.2 0M271.2 1781a1.6 1.6 0 1 0 3.2 0a1.6 1.6 0 1 0 -3.2 0M365.1 1616.1a1.1 1.1 0 1 0 2.2 0a1.1 1.1 0 1 0 -2.2 0M261.6 1734.1a.8 .8 0 1 0 1.7 0a.8 .8 0 1 0 -1.7 0M330.7 1655.8a1.6 1.6 0 1 0 3.1 0a1.6 1.6 0 1 0 -3.1 0M247.3 1732.9a1.5 1.5 0 1 0 3 0a1.5 1.5 0 1 0 -3 0M178.5 1752.6a.8 .8 0 1 0 1.6 0a.8 .8 0 1 0 -1.6 0M164.6 1563.4a.8 .8 0 1 0 1.6 0a.8 .8 0 1 0 -1.6 0M171.5 1616.9a1.6 1.6 0 1 0 3.1 0a1.6 1.6 0 1 0 -3.1 0M116.9 1633a1.4 1.4 0 1 0 2.7 0a1.4 1.4 0 1 0 -2.7 0M290.9 1777.2a1.7 1.7 0 1 0 3.4 0a1.7 1.7 0 1 0 -3.4 0M172.6 1623.4a1.6 1.6 0 1 0 3.2 0a1.6 1.6 0 1 0 -3.2 0M189 1575.2a1.6 1.6 0 1 0 3.1 0a1.6 1.6 0 1 0 -3.1 0M311.7 1763.7a1.6 1.6 0 1 0 3.3 0a1.6 1.6 0 1 0 -3.3 0M261.4 1765.5a.9 .9 0 1 0 1.9 0a.9 .9 0 1 0 -1.9 0M254.5 1538.9a1.6 1.6 0 1 0 3.2 0a1.6 1.6 0 1 0 -3.2 0M342.2 1634.1a1.3 1.3 0 1 0 2.5 0a1.3 1.3 0 1 0 -2.5 0M340.6 1578.3a1.4 1.4 0 1 0 2.7 0a1.4 1.4 0 1 0 -2.7 0M202.7 1716a1.5 1.5 0 1 0 3.1 0a1.5 1.5 0 1 0 -3.1 0M214.1 1546.7a1.6 1.6 0 1 0 3.1 0a1.6 1.6 0 1 0 -3.1 0M331.1 1570.3a1 1 0 1 0 2.1 0a1 1 0 1 0 -2.1 0M233.9 1802.9a1.8 1.8 0 1 0 3.5 0a1.8 1.8 0 1 0 -3.5 0M189.9 1558.6a1 1 0 1 0 2.1 0a1 1 0 1 0 -2.1 0M348.2 1638.2a1.7 1.7 0 1 0 3.3 0a1.7 1.7 0 1 0 -3.3 0M159.5 1635.1a1.4 1.4 0 1 0 2.9 0a1.4 1.4 0 1 0 -2.9 0M357.2 1717.9a1.6 1.6 0 1 0 3.2 0a1.6 1.6 0 1 0 -3.2 0M307.3 1761.5a1 1 0 1 0 2.1 0a1 1 0 1 0 -2.1 0M366.1 1691.4a1.1 1.1 0 1 0 2.2 0a1.1 1.1 0 1 0 -2.2 0" fill="#b84343"/><path d="M285.9 1778.1a.9 .9 0 1 0 1.7 0a.9 .9 0 1 0 -1.7 0M106 1679.9a1.4 1.4 0 1 0 2.8 0a1.4 1.4 0 1 0 -2.8 0M201.2 1803.6a1 1 0 1 0 2 0a1 1 0 1 0 -2 0M320 1706.7a1 1 0 1 0 2.1 0a1 1 0 1 0 -2.1 0M271.1 1751a1.4 1.4 0 1 0 2.7 0a1.4 1.4 0 1 0 -2.7 0M158.3 1559.3a1.4 1.4 0 1 0 2.8 0a1.4 1.4 0 1 0 -2.8 0M281.1 1691.1a1.1 1.1 0 1 0 2.2 0a1.1 1.1 0 1 0 -2.2 0M365.3 1703.6a1.5 1.5 0 1 0 3.1 0a1.5 1.5 0 1 0 -3.1 0M166.8 1674.3a1.7 1.7 0 1 0 3.3 0a1.7 1.7 0 1 0 -3.3 0M191.9 1698.4a.9 .9 0 1 0 1.7 0a.9 .9 0 1 0 -1.7 0M344.1 1686a1.3 1.3 0 1 0 2.6 0a1.3 1.3 0 1 0 -2.6 0M157.7 1711.7a1.4 1.4 0 1 0 2.9 0a1.4 1.4 0 1 0 -2.9 0M245.3 1731.7a1.2 1.2 0 1 0 2.3 0a1.2 1.2 0 1 0 -2.3 0M193.1 1523.9a1.1 1.1 0 1 0 2.2 0a1.1 1.1 0 1 0 -2.2 0M305.6 1539.8a1.3 1.3 0 1 0 2.5 0a1.3 1.3 0 1 0 -2.5 0M297.3 1672.4a1.3 1.3 0 1 0 2.5 0a1.3 1.3 0 1 0 -2.5 0M237.8 1578.2a1.6 1.6 0 1 0 3.2 0a1.6 1.6 0 1 0 -3.2 0M334.4 1671.2a1.5 1.5 0 1 0 3 0a1.5 1.5 0 1 0 -3 0M147.8 1732.1a1 1 0 1 0 2 0a1 1 0 1 0 -2 0M316.4 1564.4a1.7 1.7 0 1 0 3.4 0a1.7 1.7 0 1 0 -3.4 0M171.9 1749.8a1.1 1.1 0 1 0 2.2 0a1.1 1.1 0 1 0 -2.2 0M255.2 1799.9a1.2 1.2 0 1 0 2.5 0a1.2 1.2 0 1 0 -2.5 0M271.1 1747a1.6 1.6 0 1 0 3.2 0a1.6 1.6 0 1 0 -3.2 0M212 1772.4a1.2 1.2 0 1 0 2.4 0a1.2 1.2 0 1 0 -2.4 0M109.5 1661.6a.8 .8 0 1 0 1.7 0a.8 .8 0 1 0 -1.7 0M319.1 1760.1a.8 .8 0 1 0 1.6 0a.8 .8 0 1 0 -1.6 0M251.6 1774.9a1.4 1.4 0 1 0 2.8 0a1.4 1.4 0 1 0 -2.8 0M241.5 1792.7a1.6 1.6 0 1 0 3.2 0a1.6 1.6 0 1 0 -3.2 0M190.4 1748a1.7 1.7 0 1 0 3.4 0a1.7 1.7 0 1 0 -3.4 0M241.9 1587.4a.9 .9 0 1 0 1.8 0a.9 .9 0 1 0 -1.8 0M278 1574.9a1.6 1.6 0 1 0 3.2 0a1.6 1.6 0 1 0 -3.2 0M264.2 1778.8a1.6 1.6 0 1 0 3.2 0a1.6 1.6 0 1 0 -3.2 0M317.4 1603.3a1 1 0 1 0 2 0a1 1 0 1 0 -2 0M124.8 1654.1a1.4 1.4 0 1 0 2.8 0a1.4 1.4 0 1 0 -2.8 0M103.9 1700.9a1.2 1.2 0 1 0 2.4 0a1.2 1.2 0 1 0 -2.4 0M361.3 1649.4a1.1 1.1 0 1 0 2.1 0a1.1 1.1 0 1 0 -2.1 0M281.1 1786.6a1.1 1.1 0 1 0 2.2 0a1.1 1.1 0 1 0 -2.2 0M326 1715.5a1.3 1.3 0 1 0 2.6 0a1.3 1.3 0 1 0 -2.6 0M187.7 1539.1a1.8 1.8 0 1 0 3.6 0a1.8 1.8 0 1 0 -3.6 0M332.3 1718.4a1.6 1.6 0 1 0 3.1 0a1.6 1.6 0 1 0 -3.1 0M119.2 1758a1.2 1.2 0 1 0 2.4 0a1.2 1.2 0 1 0 -2.4 0M227.4 1794.5a.8 .8 0 1 0 1.7 0a.8 .8 0 1 0 -1.7 0M346 1614.8a1.3 1.3 0 1 0 2.5 0a1.3 1.3 0 1 0 -2.5 0M329.8 1757.3a1.2 1.2 0 1 0 2.3 0a1.2 1.2 0 1 0 -2.3 0M128.6 1582.4a1.5 1.5 0 1 0 3 0a1.5 1.5 0 1 0 -3 0M140.6 1567.2a1 1 0 1 0 2 0a1 1 0 1 0 -2 0M250.7 1755.9a1.5 1.5 0 1 0 3.1 0a1.5 1.5 0 1 0 -3.1 0M261.2 1564.7a1.6 1.6 0 1 0 3.2 0a1.6 1.6 0 1 0 -3.2 0M105.8 1708.5a1.2 1.2 0 1 0 2.4 0a1.2 1.2 0 1 0 -2.4 0M194.1 1790.5a1.6 1.6 0 1 0 3.3 0a1.6 1.6 0 1 0 -3.3 0M269.8 1566.4a1.6 1.6 0 1 0 3.2 0a1.6 1.6 0 1 0 -3.2 0M298.7 1700.9a1.5 1.5 0 1 0 2.9 0a1.5 1.5 0 1 0 -2.9 0M258.9 1588.9a.9 .9 0 1 0 1.7 0a.9 .9 0 1 0 -1.7 0M332.1 1708.6a1.6 1.6 0 1 0 3.2 0a1.6 1.6 0 1 0 -3.2 0M148.6 1772.5a1.1 1.1 0 1 0 2.3 0a1.1 1.1 0 1 0 -2.3 0M199.7 1703.2a1.2 1.2 0 1 0 2.4 0a1.2 1.2 0 1 0 -2.4 0M203.5 1726.6a1.4 1.4 0 1 0 2.9 0a1.4 1.4 0 1 0 -2.9 0M273.9 1634.6a.9 .9 0 1 0 1.8 0a.9 .9 0 1 0 -1.8 0M89.2 1621.5a1.3 1.3 0 1 0 2.6 0a1.3 1.3 0 1 0 -2.6 0M359.4 1644a1.6 1.6 0 1 0 3.1 0a1.6 1.6 0 1 0 -3.1 0M314.3 1775.7a1.6 1.6 0 1 0 3.2 0a1.6 1.6 0 1 0 -3.2 0M337.6 1701.9a1 1 0 1 0 2 0a1 1 0 1 0 -2 0M286.9 1540.4a1.6 1.6 0 1 0 3.2 0a1.6 1.6 0 1 0 -3.2 0M257 1773.7a1.3 1.3 0 1 0 2.7 0a1.3 1.3 0 1 0 -2.7 0M143.6 1729.5a1.8 1.8 0 1 0 3.5 0a1.8 1.8 0 1 0 -3.5 0M139.8 1677.8a.9 .9 0 1 0 1.8 0a.9 .9 0 1 0 -1.8 0M293.7 1704a1.2 1.2 0 1 0 2.4 0a1.2 1.2 0 1 0 -2.4 0M161.1 1583.1a1.2 1.2 0 1 0 2.4 0a1.2 1.2 0 1 0 -2.4 0M175.1 1629.1a1 1 0 1 0 2.1 0a1 1 0 1 0 -2.1 0M157.7 1604a1.6 1.6 0 1 0 3.2 0a1.6 1.6 0 1 0 -3.2 0M148 1740.9a1.6 1.6 0 1 0 3.2 0a1.6 1.6 0 1 0 -3.2 0M136.4 1635.4a1.3 1.3 0 1 0 2.6 0a1.3 1.3 0 1 0 -2.6 0M189.2 1525.8a1.4 1.4 0 1 0 2.7 0a1.4 1.4 0 1 0 -2.7 0M173.5 1607.9a.9 .9 0 1 0 1.8 0a.9 .9 0 1 0 -1.8 0M126.8 1678.1a1.1 1.1 0 1 0 2.3 0a1.1 1.1 0 1 0 -2.3 0M314.8 1622.4a1.3 1.3 0 1 0 2.5 0a1.3 1.3 0 1 0 -2.5 0M264.9 1597a1.3 1.3 0 1 0 2.7 0a1.3 1.3 0 1 0 -2.7 0M136.3 1583.5a1.6 1.6 0 1 0 3.1 0a1.6 1.6 0 1 0 -3.1 0M302.2 1732.3a1.1 1.1 0 1 0 2.3 0a1.1 1.1 0 1 0 -2.3 0M173.8 1761.6a1.2 1.2 0 1 0 2.4 0a1.2 1.2 0 1 0 -2.4 0M99.2 1606.5a.9 .9 0 1 0 1.8 0a.9 .9 0 1 0 -1.8 0M307.8 1743.3a1.8 1.8 0 1 0 3.5 0a1.8 1.8 0 1 0 -3.5 0M191.5 1787.1a.8 .8 0 1 0 1.6 0a.8 .8 0 1 0 -1.6 0" fill="#e3837a"/></g>
<ellipse cx="236" cy="1664" rx="104" ry="132" fill="#a43a38"/>
<ellipse cx="234" cy="1656" rx="101" ry="128" fill="#c24e49"/>
<ellipse cx="235.5" cy="1665.5" rx="95" ry="124" fill="#357a7e"/>
<g clip-path="url(#cav)" fill="none" stroke-linecap="round" stroke-linejoin="round">
<use href="#vtub0" stroke="#2f7177" stroke-width="21"/>
<use href="#vtub0" stroke="#4fa7ab" stroke-width="17"/>
<use href="#vtub0" stroke="#78c5c7" stroke-width="11"/>
<use href="#vtub0" stroke="#e4c274" stroke-width="5"/>
</g>
<g clip-path="url(#cav)" fill="none" stroke-linecap="round" stroke-linejoin="round">
<use href="#vtub1" stroke="#2f7177" stroke-width="21"/>
<use href="#vtub1" stroke="#4fa7ab" stroke-width="17"/>
<use href="#vtub1" stroke="#78c5c7" stroke-width="11"/>
<use href="#vtub1" stroke="#e4c274" stroke-width="5"/>
</g>
<g clip-path="url(#cav)" fill="none" stroke-linecap="round" stroke-linejoin="round">
<use href="#vtub2" stroke="#2f7177" stroke-width="21"/>
<use href="#vtub2" stroke="#4fa7ab" stroke-width="17"/>
<use href="#vtub2" stroke="#78c5c7" stroke-width="11"/>
<use href="#vtub2" stroke="#e4c274" stroke-width="5"/>
</g>
<g clip-path="url(#cav)" fill="none" stroke-linecap="round" stroke-linejoin="round">
<use href="#vtub3" stroke="#2f7177" stroke-width="21"/>
<use href="#vtub3" stroke="#4fa7ab" stroke-width="17"/>
<use href="#vtub3" stroke="#78c5c7" stroke-width="11"/>
<use href="#vtub3" stroke="#e4c274" stroke-width="5"/>
</g>
<g clip-path="url(#cav)" fill="none" stroke-linecap="round" stroke-linejoin="round">
<use href="#vtub4" stroke="#2f7177" stroke-width="21"/>
<use href="#vtub4" stroke="#4fa7ab" stroke-width="17"/>
<use href="#vtub4" stroke="#78c5c7" stroke-width="11"/>
<use href="#vtub4" stroke="#e4c274" stroke-width="5"/>
</g>
<g clip-path="url(#cav)" fill="none" stroke-linecap="round" stroke-linejoin="round">
<use href="#vtub5" stroke="#2f7177" stroke-width="21"/>
<use href="#vtub5" stroke="#4fa7ab" stroke-width="17"/>
<use href="#vtub5" stroke="#78c5c7" stroke-width="11"/>
<use href="#vtub5" stroke="#e4c274" stroke-width="5"/>
</g>
<g clip-path="url(#cav)" fill="none" stroke-linecap="round" stroke-linejoin="round">
<use href="#vtub6" stroke="#2f7177" stroke-width="21"/>
<use href="#vtub6" stroke="#4fa7ab" stroke-width="17"/>
<use href="#vtub6" stroke="#78c5c7" stroke-width="11"/>
<use href="#vtub6" stroke="#e4c274" stroke-width="5"/>
</g>
<ellipse cx="235.5" cy="1665.5" rx="95" ry="124" fill="none" stroke="#6d2626" stroke-width="3" opacity="0.6"/>
<g transform="translate(122.0,1677.0) rotate(0.0)"><path d="M-2,0 L-4.8,-21.6 C-11.0,-28.8 -12.1,-43.2 -9.9,-48.0 L9.9,-48.0 C12.1,-43.2 11.0,-28.8 4.8,-21.6 L2,0 Z" fill="#bde08a"/><path d="M-6.6,-46.6 L0,-24.0 L6.6,-46.6" fill="none" stroke="#def0ae" stroke-width="2.6"/></g>
<g transform="translate(150.0,1610.0) rotate(-30.0)"><path d="M-2,0 L-4.4,-18.0 C-10.0,-24.0 -11.0,-36.0 -9.0,-40.0 L9.0,-40.0 C11.0,-36.0 10.0,-24.0 4.4,-18.0 L2,0 Z" fill="#bde08a"/><path d="M-6.0,-38.8 L0,-20.0 L6.0,-38.8" fill="none" stroke="#def0ae" stroke-width="2.4"/></g>
<g transform="translate(175.0,1560.0) rotate(-25.0)"><path d="M-2,0 L-4.0,-17.1 C-9.0,-22.8 -9.9,-34.2 -8.1,-38.0 L8.1,-38.0 C9.9,-34.2 9.0,-22.8 4.0,-17.1 L2,0 Z" fill="#bde08a"/><path d="M-5.4,-36.9 L0,-19.0 L5.4,-36.9" fill="none" stroke="#def0ae" stroke-width="2.2"/></g>
<g transform="translate(140.0,1740.0) rotate(30.0)"><path d="M-2,0 L-4.0,-18.0 C-9.0,-24.0 -9.9,-36.0 -8.1,-40.0 L8.1,-40.0 C9.9,-36.0 9.0,-24.0 4.0,-18.0 L2,0 Z" fill="#bde08a"/><path d="M-5.4,-38.8 L0,-20.0 L5.4,-38.8" fill="none" stroke="#def0ae" stroke-width="2.2"/></g>
<g transform="translate(300.0,1560.0) rotate(30.0)"><path d="M-2,0 L-3.5,-16.2 C-8.0,-21.6 -8.8,-32.4 -7.2,-36.0 L7.2,-36.0 C8.8,-32.4 8.0,-21.6 3.5,-16.2 L2,0 Z" fill="#bde08a"/><path d="M-4.8,-34.9 L0,-18.0 L4.8,-34.9" fill="none" stroke="#def0ae" stroke-width="1.9"/></g>
<g transform="translate(318.0,1720.0) rotate(80.0)"><path d="M-2,0 L-4.4,-19.8 C-10.0,-26.4 -11.0,-39.6 -9.0,-44.0 L9.0,-44.0 C11.0,-39.6 10.0,-26.4 4.4,-19.8 L2,0 Z" fill="#bde08a"/><path d="M-6.0,-42.7 L0,-22.0 L6.0,-42.7" fill="none" stroke="#def0ae" stroke-width="2.4"/></g>
<g transform="translate(262.0,1805.0) rotate(185.0)"><path d="M-2,0 L-4.0,-18.0 C-9.0,-24.0 -9.9,-36.0 -8.1,-40.0 L8.1,-40.0 C9.9,-36.0 9.0,-24.0 4.0,-18.0 L2,0 Z" fill="#bde08a"/><path d="M-5.4,-38.8 L0,-20.0 L5.4,-38.8" fill="none" stroke="#def0ae" stroke-width="2.2"/></g>
<g transform="translate(190.0,1800.0) rotate(170.0)"><path d="M-2,0 L-3.5,-17.1 C-8.0,-22.8 -8.8,-34.2 -7.2,-38.0 L7.2,-38.0 C8.8,-34.2 8.0,-22.8 3.5,-17.1 L2,0 Z" fill="#bde08a"/><path d="M-4.8,-36.9 L0,-19.0 L4.8,-36.9" fill="none" stroke="#def0ae" stroke-width="1.9"/></g>
<g transform="translate(332.0,1770.0) rotate(120.0)"><path d="M-2,0 L-3.5,-16.2 C-8.0,-21.6 -8.8,-32.4 -7.2,-36.0 L7.2,-36.0 C8.8,-32.4 8.0,-21.6 3.5,-16.2 L2,0 Z" fill="#bde08a"/><path d="M-4.8,-34.9 L0,-18.0 L4.8,-34.9" fill="none" stroke="#def0ae" stroke-width="1.9"/></g>
<g transform="translate(300.0,1540.0) rotate(10.0)"><path d="M-2,0 L-4.0,-19.8 C-9.0,-26.4 -9.9,-39.6 -8.1,-44.0 L8.1,-44.0 C9.9,-39.6 9.0,-26.4 4.0,-19.8 L2,0 Z" fill="#bde08a"/><path d="M-5.4,-42.7 L0,-22.0 L5.4,-42.7" fill="none" stroke="#def0ae" stroke-width="2.2"/></g>
<line x1="130.0" y1="1635.0" x2="120.0" y2="1635.0" stroke="#7cc6e6" stroke-width="2"/><circle cx="120.0" cy="1635.0" r="4" fill="#4fb3e2"/>
<line x1="112.0" y1="1713.0" x2="102.6" y2="1709.6" stroke="#7cc6e6" stroke-width="2"/><circle cx="102.6" cy="1709.6" r="4" fill="#4fb3e2"/>
<line x1="145.0" y1="1588.0" x2="137.3" y2="1581.6" stroke="#7cc6e6" stroke-width="2"/><circle cx="137.3" cy="1581.6" r="4" fill="#4fb3e2"/>
<line x1="210.0" y1="1540.0" x2="206.6" y2="1530.6" stroke="#7cc6e6" stroke-width="2"/><circle cx="206.6" cy="1530.6" r="4" fill="#4fb3e2"/>
<line x1="318.0" y1="1575.0" x2="325.7" y2="1568.6" stroke="#7cc6e6" stroke-width="2"/><circle cx="325.7" cy="1568.6" r="4" fill="#4fb3e2"/>
<line x1="302.0" y1="1748.0" x2="309.7" y2="1754.4" stroke="#7cc6e6" stroke-width="2"/><circle cx="309.7" cy="1754.4" r="4" fill="#4fb3e2"/>
<line x1="160.0" y1="1772.0" x2="151.3" y2="1777.0" stroke="#7cc6e6" stroke-width="2"/><circle cx="151.3" cy="1777.0" r="4" fill="#4fb3e2"/>
<line x1="325.0" y1="1700.0" x2="335.0" y2="1700.0" stroke="#7cc6e6" stroke-width="2"/><circle cx="335.0" cy="1700.0" r="4" fill="#4fb3e2"/>
<line x1="240.0" y1="1530.0" x2="240.0" y2="1520.0" stroke="#7cc6e6" stroke-width="2"/><circle cx="240.0" cy="1520.0" r="4" fill="#4fb3e2"/>
<circle cx="785" cy="1516" r="83" fill="#c94843"/>
<g transform="translate(855.0,1517.8) rotate(91.5)"><path d="M-2,0 L-2.9,-14.6 C-6.7,-19.5 -7.4,-29.2 -6.0,-32.5 L6.0,-32.5 C7.4,-29.2 6.7,-19.5 2.9,-14.6 L2,0 Z" fill="#b9da86"/><path d="M-4.0,-31.5 L0,-16.2 L4.0,-31.5" fill="none" stroke="#d9eca8" stroke-width="1.6"/></g>
<g transform="translate(847.7,1547.2) rotate(116.5)"><path d="M-2,0 L-3.0,-14.6 C-6.9,-19.5 -7.6,-29.2 -6.2,-32.4 L6.2,-32.4 C7.6,-29.2 6.9,-19.5 3.0,-14.6 L2,0 Z" fill="#b9da86"/><path d="M-4.1,-31.5 L0,-16.2 L4.1,-31.5" fill="none" stroke="#d9eca8" stroke-width="1.7"/></g>
<g transform="translate(841.1,1557.8) rotate(126.7)"><path d="M-2,0 L-3.0,-13.9 C-6.9,-18.5 -7.6,-27.7 -6.2,-30.8 L6.2,-30.8 C7.6,-27.7 6.9,-18.5 3.0,-13.9 L2,0 Z" fill="#b9da86"/><path d="M-4.1,-29.9 L0,-15.4 L4.1,-29.9" fill="none" stroke="#d9eca8" stroke-width="1.7"/></g>
<g transform="translate(814.2,1579.6) rotate(155.3)"><path d="M-2,0 L-2.5,-15.0 C-5.7,-20.0 -6.2,-30.1 -5.1,-33.4 L5.1,-33.4 C6.2,-30.1 5.7,-20.0 2.5,-15.0 L2,0 Z" fill="#b9da86"/><path d="M-3.4,-32.4 L0,-16.7 L3.4,-32.4" fill="none" stroke="#d9eca8" stroke-width="1.4"/></g>
<g transform="translate(791.9,1585.7) rotate(174.3)"><path d="M-2,0 L-2.8,-13.3 C-6.3,-17.7 -6.9,-26.5 -5.7,-29.5 L5.7,-29.5 C6.9,-26.5 6.3,-17.7 2.8,-13.3 L2,0 Z" fill="#b9da86"/><path d="M-3.8,-28.6 L0,-14.7 L3.8,-28.6" fill="none" stroke="#d9eca8" stroke-width="1.5"/></g>
<g transform="translate(764.8,1583.0) rotate(196.8)"><path d="M-2,0 L-2.6,-12.6 C-5.8,-16.8 -6.4,-25.3 -5.2,-28.1 L5.2,-28.1 C6.4,-25.3 5.8,-16.8 2.6,-12.6 L2,0 Z" fill="#b9da86"/><path d="M-3.5,-27.2 L0,-14.0 L3.5,-27.2" fill="none" stroke="#d9eca8" stroke-width="1.4"/></g>
<g transform="translate(745.4,1573.7) rotate(214.4)"><path d="M-2,0 L-2.9,-15.1 C-6.6,-20.1 -7.3,-30.1 -6.0,-33.5 L6.0,-33.5 C7.3,-30.1 6.6,-20.1 2.9,-15.1 L2,0 Z" fill="#b9da86"/><path d="M-4.0,-32.5 L0,-16.7 L4.0,-32.5" fill="none" stroke="#d9eca8" stroke-width="1.6"/></g>
<g transform="translate(728.3,1557.0) rotate(234.2)"><path d="M-2,0 L-2.5,-14.8 C-5.7,-19.7 -6.3,-29.5 -5.1,-32.8 L5.1,-32.8 C6.3,-29.5 5.7,-19.7 2.5,-14.8 L2,0 Z" fill="#b9da86"/><path d="M-3.4,-31.8 L0,-16.4 L3.4,-31.8" fill="none" stroke="#d9eca8" stroke-width="1.4"/></g>
<g transform="translate(715.9,1527.2) rotate(260.8)"><path d="M-2,0 L-2.4,-12.9 C-5.5,-17.3 -6.1,-25.9 -5.0,-28.8 L5.0,-28.8 C6.1,-25.9 5.5,-17.3 2.4,-12.9 L2,0 Z" fill="#b9da86"/><path d="M-3.3,-27.9 L0,-14.4 L3.3,-27.9" fill="none" stroke="#d9eca8" stroke-width="1.3"/></g>
<g transform="translate(717.4,1497.8) rotate(285.0)"><path d="M-2,0 L-2.6,-13.2 C-5.8,-17.6 -6.4,-26.3 -5.2,-29.3 L5.2,-29.3 C6.4,-26.3 5.8,-17.6 2.6,-13.2 L2,0 Z" fill="#b9da86"/><path d="M-3.5,-28.4 L0,-14.6 L3.5,-28.4" fill="none" stroke="#d9eca8" stroke-width="1.4"/></g>
<g transform="translate(729.5,1473.3) rotate(307.6)"><path d="M-2,0 L-2.6,-15.0 C-5.9,-19.9 -6.5,-29.9 -5.3,-33.2 L5.3,-33.2 C6.5,-29.9 5.9,-19.9 2.6,-15.0 L2,0 Z" fill="#b9da86"/><path d="M-3.6,-32.2 L0,-16.6 L3.6,-32.2" fill="none" stroke="#d9eca8" stroke-width="1.4"/></g>
<g transform="translate(748.4,1456.3) rotate(328.5)"><path d="M-2,0 L-2.9,-14.1 C-6.5,-18.7 -7.2,-28.1 -5.9,-31.2 L5.9,-31.2 C7.2,-28.1 6.5,-18.7 2.9,-14.1 L2,0 Z" fill="#b9da86"/><path d="M-3.9,-30.3 L0,-15.6 L3.9,-30.3" fill="none" stroke="#d9eca8" stroke-width="1.6"/></g>
<g transform="translate(761.7,1450.0) rotate(340.6)"><path d="M-2,0 L-2.9,-15.1 C-6.5,-20.2 -7.2,-30.3 -5.9,-33.6 L5.9,-33.6 C7.2,-30.3 6.5,-20.2 2.9,-15.1 L2,0 Z" fill="#b9da86"/><path d="M-3.9,-32.6 L0,-16.8 L3.9,-32.6" fill="none" stroke="#d9eca8" stroke-width="1.6"/></g>
<g transform="translate(798.2,1447.3) rotate(370.9)"><path d="M-2,0 L-2.6,-15.0 C-5.9,-20.0 -6.5,-30.0 -5.4,-33.4 L5.4,-33.4 C6.5,-30.0 5.9,-20.0 2.6,-15.0 L2,0 Z" fill="#b9da86"/><path d="M-3.6,-32.4 L0,-16.7 L3.6,-32.4" fill="none" stroke="#d9eca8" stroke-width="1.4"/></g>
<g transform="translate(814.4,1452.5) rotate(384.8)"><path d="M-2,0 L-2.5,-13.0 C-5.7,-17.4 -6.3,-26.1 -5.1,-29.0 L5.1,-29.0 C6.3,-26.1 5.7,-17.4 2.5,-13.0 L2,0 Z" fill="#b9da86"/><path d="M-3.4,-28.1 L0,-14.5 L3.4,-28.1" fill="none" stroke="#d9eca8" stroke-width="1.4"/></g>
<g transform="translate(832.2,1464.3) rotate(402.4)"><path d="M-2,0 L-2.8,-13.4 C-6.4,-17.9 -7.0,-26.8 -5.8,-29.8 L5.8,-29.8 C7.0,-26.8 6.4,-17.9 2.8,-13.4 L2,0 Z" fill="#b9da86"/><path d="M-3.8,-28.9 L0,-14.9 L3.8,-28.9" fill="none" stroke="#d9eca8" stroke-width="1.5"/></g>
<g transform="translate(847.3,1484.1) rotate(422.9)"><path d="M-2,0 L-2.6,-14.4 C-6.0,-19.2 -6.6,-28.9 -5.4,-32.1 L5.4,-32.1 C6.6,-28.9 6.0,-19.2 2.6,-14.4 L2,0 Z" fill="#b9da86"/><path d="M-3.6,-31.1 L0,-16.0 L3.6,-31.1" fill="none" stroke="#d9eca8" stroke-width="1.4"/></g>
<line x1="852.8" y1="1520.7" x2="867.8" y2="1521.8" stroke="#9fd6ea" stroke-width="1.3" opacity="0.8"/>
<line x1="847.6" y1="1542.5" x2="861.4" y2="1548.4" stroke="#9fd6ea" stroke-width="1.3" opacity="0.8"/>
<line x1="835.6" y1="1561.4" x2="846.8" y2="1571.4" stroke="#9fd6ea" stroke-width="1.3" opacity="0.8"/>
<line x1="818.1" y1="1575.4" x2="825.4" y2="1588.5" stroke="#9fd6ea" stroke-width="1.3" opacity="0.8"/>
<line x1="797.1" y1="1582.9" x2="799.7" y2="1597.7" stroke="#9fd6ea" stroke-width="1.3" opacity="0.8"/>
<line x1="774.7" y1="1583.2" x2="772.4" y2="1598.0" stroke="#9fd6ea" stroke-width="1.3" opacity="0.8"/>
<line x1="753.4" y1="1576.2" x2="746.4" y2="1589.5" stroke="#9fd6ea" stroke-width="1.3" opacity="0.8"/>
<line x1="735.6" y1="1562.7" x2="724.7" y2="1573.0" stroke="#9fd6ea" stroke-width="1.3" opacity="0.8"/>
<line x1="723.1" y1="1544.1" x2="709.4" y2="1550.3" stroke="#9fd6ea" stroke-width="1.3" opacity="0.8"/>
<line x1="717.3" y1="1522.5" x2="702.4" y2="1523.9" stroke="#9fd6ea" stroke-width="1.3" opacity="0.8"/>
<line x1="718.9" y1="1500.2" x2="704.3" y2="1496.7" stroke="#9fd6ea" stroke-width="1.3" opacity="0.8"/>
<line x1="727.6" y1="1479.5" x2="714.9" y2="1471.5" stroke="#9fd6ea" stroke-width="1.3" opacity="0.8"/>
<line x1="742.5" y1="1462.9" x2="733.2" y2="1451.2" stroke="#9fd6ea" stroke-width="1.3" opacity="0.8"/>
<line x1="762.1" y1="1452.0" x2="757.0" y2="1437.9" stroke="#9fd6ea" stroke-width="1.3" opacity="0.8"/>
<line x1="784.1" y1="1448.0" x2="783.9" y2="1433.0" stroke="#9fd6ea" stroke-width="1.3" opacity="0.8"/>
<line x1="806.3" y1="1451.4" x2="810.9" y2="1437.2" stroke="#9fd6ea" stroke-width="1.3" opacity="0.8"/>
<line x1="826.1" y1="1461.8" x2="835.1" y2="1449.9" stroke="#9fd6ea" stroke-width="1.3" opacity="0.8"/>
<line x1="841.4" y1="1478.1" x2="853.9" y2="1469.7" stroke="#9fd6ea" stroke-width="1.3" opacity="0.8"/>
<line x1="850.7" y1="1498.5" x2="865.2" y2="1494.6" stroke="#9fd6ea" stroke-width="1.3" opacity="0.8"/>
<circle cx="785" cy="1516" r="67" fill="url(#renv)" stroke="#e08c8c" stroke-width="1.5"/>
<g opacity="0.6"><path d="M762.1 1571.5a.9 .9 0 1 0 1.9 0a.9 .9 0 1 0 -1.9 0M765.5 1557.9a1.1 1.1 0 1 0 2.2 0a1.1 1.1 0 1 0 -2.2 0M845.4 1538.8a.6 .6 0 1 0 1.2 0a.6 .6 0 1 0 -1.2 0M784.3 1455.3a.6 .6 0 1 0 1.2 0a.6 .6 0 1 0 -1.2 0M793.4 1477.2a1 1 0 1 0 2 0a1 1 0 1 0 -2 0M798.5 1516.8a.7 .7 0 1 0 1.5 0a.7 .7 0 1 0 -1.5 0M812 1507.9a1.1 1.1 0 1 0 2.3 0a1.1 1.1 0 1 0 -2.3 0M842.1 1488.6a.8 .8 0 1 0 1.7 0a.8 .8 0 1 0 -1.7 0M754.6 1553.8a1.1 1.1 0 1 0 2.3 0a1.1 1.1 0 1 0 -2.3 0M828.3 1551.9a1.2 1.2 0 1 0 2.3 0a1.2 1.2 0 1 0 -2.3 0M791.8 1506.3a1.3 1.3 0 1 0 2.5 0a1.3 1.3 0 1 0 -2.5 0M816.3 1536.9a1 1 0 1 0 2.1 0a1 1 0 1 0 -2.1 0M817.2 1497.1a1.2 1.2 0 1 0 2.5 0a1.2 1.2 0 1 0 -2.5 0M748.8 1505.7a.8 .8 0 1 0 1.6 0a.8 .8 0 1 0 -1.6 0M792.4 1532.6a.7 .7 0 1 0 1.4 0a.7 .7 0 1 0 -1.4 0M759.7 1454.9a.7 .7 0 1 0 1.4 0a.7 .7 0 1 0 -1.4 0M846.6 1535.7a1 1 0 1 0 1.9 0a1 1 0 1 0 -1.9 0M757.3 1533.9a1 1 0 1 0 2 0a1 1 0 1 0 -2 0M804.7 1476.5a.9 .9 0 1 0 1.8 0a.9 .9 0 1 0 -1.8 0M843.7 1537.7a.6 .6 0 1 0 1.2 0a.6 .6 0 1 0 -1.2 0M723.9 1518.4a.7 .7 0 1 0 1.4 0a.7 .7 0 1 0 -1.4 0M776.6 1452.1a1 1 0 1 0 2.1 0a1 1 0 1 0 -2.1 0M789.2 1495.1a.9 .9 0 1 0 1.8 0a.9 .9 0 1 0 -1.8 0M820.1 1564.9a.8 .8 0 1 0 1.6 0a.8 .8 0 1 0 -1.6 0M720.7 1535.1a1.2 1.2 0 1 0 2.4 0a1.2 1.2 0 1 0 -2.4 0M828 1509.3a.9 .9 0 1 0 1.9 0a.9 .9 0 1 0 -1.9 0M778.3 1470.7a.8 .8 0 1 0 1.6 0a.8 .8 0 1 0 -1.6 0M763.4 1530.4a.9 .9 0 1 0 1.7 0a.9 .9 0 1 0 -1.7 0M848.4 1511.3a1 1 0 1 0 2.1 0a1 1 0 1 0 -2.1 0M745.9 1516.2a.7 .7 0 1 0 1.3 0a.7 .7 0 1 0 -1.3 0M775.6 1573.8a1.2 1.2 0 1 0 2.4 0a1.2 1.2 0 1 0 -2.4 0M746.2 1560.8a1.1 1.1 0 1 0 2.3 0a1.1 1.1 0 1 0 -2.3 0M765.5 1465.4a1.1 1.1 0 1 0 2.3 0a1.1 1.1 0 1 0 -2.3 0M748 1557.9a.8 .8 0 1 0 1.6 0a.8 .8 0 1 0 -1.6 0M726.2 1521.2a1.1 1.1 0 1 0 2.2 0a1.1 1.1 0 1 0 -2.2 0M766.5 1577.8a1.1 1.1 0 1 0 2.1 0a1.1 1.1 0 1 0 -2.1 0M777.8 1512.6a1 1 0 1 0 2 0a1 1 0 1 0 -2 0M783.8 1570.1a.9 .9 0 1 0 1.8 0a.9 .9 0 1 0 -1.8 0M805.4 1467.5a1.2 1.2 0 1 0 2.3 0a1.2 1.2 0 1 0 -2.3 0M753.3 1559.3a1.1 1.1 0 1 0 2.2 0a1.1 1.1 0 1 0 -2.2 0M802.2 1481.6a1.2 1.2 0 1 0 2.4 0a1.2 1.2 0 1 0 -2.4 0M821.2 1476.1a1.3 1.3 0 1 0 2.6 0a1.3 1.3 0 1 0 -2.6 0M829.8 1503.2a1 1 0 1 0 1.9 0a1 1 0 1 0 -1.9 0M814.1 1568.2a1.3 1.3 0 1 0 2.5 0a1.3 1.3 0 1 0 -2.5 0M729.6 1523.8a1.1 1.1 0 1 0 2.2 0a1.1 1.1 0 1 0 -2.2 0M780.5 1488.8a1.1 1.1 0 1 0 2.3 0a1.1 1.1 0 1 0 -2.3 0M737.1 1489.8a.9 .9 0 1 0 1.8 0a.9 .9 0 1 0 -1.8 0M742.6 1475.3a1 1 0 1 0 2.1 0a1 1 0 1 0 -2.1 0M782.3 1505.2a.7 .7 0 1 0 1.4 0a.7 .7 0 1 0 -1.4 0M734.6 1535.3a.8 .8 0 1 0 1.5 0a.8 .8 0 1 0 -1.5 0M763.8 1467.8a.6 .6 0 1 0 1.3 0a.6 .6 0 1 0 -1.3 0M753.5 1521.6a.6 .6 0 1 0 1.3 0a.6 .6 0 1 0 -1.3 0M809.1 1543.7a.7 .7 0 1 0 1.5 0a.7 .7 0 1 0 -1.5 0M788.4 1527.7a.9 .9 0 1 0 1.9 0a.9 .9 0 1 0 -1.9 0M746.3 1551.3a1 1 0 1 0 2 0a1 1 0 1 0 -2 0M789.2 1578.5a.6 .6 0 1 0 1.2 0a.6 .6 0 1 0 -1.2 0M755.3 1535.5a.9 .9 0 1 0 1.8 0a.9 .9 0 1 0 -1.8 0M829.3 1555.8a.9 .9 0 1 0 1.7 0a.9 .9 0 1 0 -1.7 0M834.7 1527.6a.7 .7 0 1 0 1.3 0a.7 .7 0 1 0 -1.3 0M747.1 1505.2a1 1 0 1 0 2 0a1 1 0 1 0 -2 0M841.8 1500.5a.9 .9 0 1 0 1.8 0a.9 .9 0 1 0 -1.8 0M804.5 1467.2a.9 .9 0 1 0 1.7 0a.9 .9 0 1 0 -1.7 0M816 1555.7a1 1 0 1 0 2 0a1 1 0 1 0 -2 0M846.6 1498.8a1 1 0 1 0 2.1 0a1 1 0 1 0 -2.1 0M747.4 1566.2a.6 .6 0 1 0 1.2 0a.6 .6 0 1 0 -1.2 0M822.6 1547.1a1 1 0 1 0 2.1 0a1 1 0 1 0 -2.1 0M817 1556.5a1.2 1.2 0 1 0 2.4 0a1.2 1.2 0 1 0 -2.4 0M753.4 1546.5a.8 .8 0 1 0 1.5 0a.8 .8 0 1 0 -1.5 0M767.4 1578.9a.9 .9 0 1 0 1.7 0a.9 .9 0 1 0 -1.7 0M845.2 1500.7a1 1 0 1 0 2 0a1 1 0 1 0 -2 0M780 1581.2a.9 .9 0 1 0 1.9 0a.9 .9 0 1 0 -1.9 0M751.6 1534.9a1.3 1.3 0 1 0 2.6 0a1.3 1.3 0 1 0 -2.6 0M748.8 1517.8a.9 .9 0 1 0 1.9 0a.9 .9 0 1 0 -1.9 0M821.6 1552.1a.9 .9 0 1 0 1.8 0a.9 .9 0 1 0 -1.8 0M768.2 1572.2a1.2 1.2 0 1 0 2.4 0a1.2 1.2 0 1 0 -2.4 0M832.2 1520a.8 .8 0 1 0 1.6 0a.8 .8 0 1 0 -1.6 0M837.8 1492.9a.8 .8 0 1 0 1.5 0a.8 .8 0 1 0 -1.5 0M780.8 1541.8a1.3 1.3 0 1 0 2.6 0a1.3 1.3 0 1 0 -2.6 0M770.3 1565.6a.9 .9 0 1 0 1.9 0a.9 .9 0 1 0 -1.9 0M752.4 1475.5a1.1 1.1 0 1 0 2.2 0a1.1 1.1 0 1 0 -2.2 0M826.6 1554.9a.8 .8 0 1 0 1.6 0a.8 .8 0 1 0 -1.6 0M746.8 1508a.8 .8 0 1 0 1.6 0a.8 .8 0 1 0 -1.6 0M740 1507.6a.9 .9 0 1 0 1.7 0a.9 .9 0 1 0 -1.7 0M782.8 1465.3a.6 .6 0 1 0 1.3 0a.6 .6 0 1 0 -1.3 0M783.1 1560.5a1.2 1.2 0 1 0 2.5 0a1.2 1.2 0 1 0 -2.5 0M821.5 1484.4a.6 .6 0 1 0 1.2 0a.6 .6 0 1 0 -1.2 0M791.7 1473.5a1 1 0 1 0 2 0a1 1 0 1 0 -2 0M770.4 1465.3a.9 .9 0 1 0 1.9 0a.9 .9 0 1 0 -1.9 0M819 1494.4a.9 .9 0 1 0 1.7 0a.9 .9 0 1 0 -1.7 0M801.7 1492.5a.8 .8 0 1 0 1.6 0a.8 .8 0 1 0 -1.6 0M792 1501.1a1.2 1.2 0 1 0 2.4 0a1.2 1.2 0 1 0 -2.4 0M769.4 1475.2a.8 .8 0 1 0 1.6 0a.8 .8 0 1 0 -1.6 0M796.4 1454.2a.7 .7 0 1 0 1.4 0a.7 .7 0 1 0 -1.4 0M735.6 1522.6a.9 .9 0 1 0 1.9 0a.9 .9 0 1 0 -1.9 0M771.4 1538.6a1 1 0 1 0 2 0a1 1 0 1 0 -2 0M790.8 1500a.8 .8 0 1 0 1.5 0a.8 .8 0 1 0 -1.5 0M808.8 1462.8a1.1 1.1 0 1 0 2.1 0a1.1 1.1 0 1 0 -2.1 0M839.1 1525a1.3 1.3 0 1 0 2.6 0a1.3 1.3 0 1 0 -2.6 0M839.6 1515.4a.6 .6 0 1 0 1.3 0a.6 .6 0 1 0 -1.3 0M800.8 1490.1a1.1 1.1 0 1 0 2.1 0a1.1 1.1 0 1 0 -2.1 0M837.5 1499.5a.7 .7 0 1 0 1.4 0a.7 .7 0 1 0 -1.4 0M767.6 1577a.7 .7 0 1 0 1.4 0a.7 .7 0 1 0 -1.4 0M751.7 1488.8a.7 .7 0 1 0 1.4 0a.7 .7 0 1 0 -1.4 0M774.4 1506.4a.7 .7 0 1 0 1.4 0a.7 .7 0 1 0 -1.4 0M771.5 1528.2a.6 .6 0 1 0 1.3 0a.6 .6 0 1 0 -1.3 0M733.2 1490.1a1.2 1.2 0 1 0 2.4 0a1.2 1.2 0 1 0 -2.4 0M813 1548.4a.8 .8 0 1 0 1.6 0a.8 .8 0 1 0 -1.6 0M746.4 1488.8a1.3 1.3 0 1 0 2.5 0a1.3 1.3 0 1 0 -2.5 0M772.9 1527.1a1.1 1.1 0 1 0 2.2 0a1.1 1.1 0 1 0 -2.2 0M814.6 1558.6a1 1 0 1 0 1.9 0a1 1 0 1 0 -1.9 0M825.5 1489.8a1 1 0 1 0 2.1 0a1 1 0 1 0 -2.1 0M780.1 1564.9a.8 .8 0 1 0 1.6 0a.8 .8 0 1 0 -1.6 0M784.5 1468.5a.7 .7 0 1 0 1.4 0a.7 .7 0 1 0 -1.4 0M787.8 1556a1.1 1.1 0 1 0 2.2 0a1.1 1.1 0 1 0 -2.2 0M807.9 1566.3a1.1 1.1 0 1 0 2.1 0a1.1 1.1 0 1 0 -2.1 0M830.7 1543.5a.7 .7 0 1 0 1.3 0a.7 .7 0 1 0 -1.3 0M820.2 1551.9a.8 .8 0 1 0 1.5 0a.8 .8 0 1 0 -1.5 0M816.9 1484a.8 .8 0 1 0 1.7 0a.8 .8 0 1 0 -1.7 0M787.2 1505.2a1.1 1.1 0 1 0 2.2 0a1.1 1.1 0 1 0 -2.2 0M807.9 1524.5a1.3 1.3 0 1 0 2.5 0a1.3 1.3 0 1 0 -2.5 0" fill="#d86a62"/></g>
<circle cx="1215.7" cy="1514.7" r="88.6" fill="#6a9fe6"/>
<path d="M1285.7,1514.7 L1303.6,1519.1 M1285.5,1520.2 L1303.0,1526.0 M1284.8,1525.7 L1301.8,1532.8 M1283.8,1531.0 L1300.1,1539.5 M1282.3,1536.3 L1297.9,1546.0 M1280.4,1541.5 L1295.2,1552.4 M1278.1,1546.5 L1292.0,1558.5 M1275.4,1551.3 L1288.3,1564.4 M1272.3,1555.8 L1284.2,1569.9 M1268.9,1560.2 L1279.7,1575.1 M1265.2,1564.2 L1274.7,1580.0 M1261.2,1567.9 L1269.4,1584.4 M1256.8,1571.3 L1263.8,1588.4 M1252.3,1574.4 L1257.9,1591.9 M1247.5,1577.1 L1251.7,1595.0 M1242.5,1579.4 L1245.3,1597.6 M1237.3,1581.3 L1238.7,1599.6 M1232.0,1582.8 L1231.9,1601.2 M1226.7,1583.8 L1225.1,1602.2 M1221.2,1584.5 L1218.2,1602.7 M1215.7,1584.7 L1211.3,1602.6 M1210.2,1584.5 L1204.4,1602.0 M1204.7,1583.8 L1197.6,1600.8 M1199.4,1582.8 L1190.9,1599.1 M1194.1,1581.3 L1184.4,1596.9 M1188.9,1579.4 L1178.0,1594.2 M1183.9,1577.1 L1171.9,1591.0 M1179.1,1574.4 L1166.0,1587.3 M1174.6,1571.3 L1160.5,1583.2 M1170.2,1567.9 L1155.3,1578.7 M1166.2,1564.2 L1150.4,1573.7 M1162.5,1560.2 L1146.0,1568.4 M1159.1,1555.8 L1142.0,1562.8 M1156.0,1551.3 L1138.5,1556.9 M1153.3,1546.5 L1135.4,1550.7 M1151.0,1541.5 L1132.8,1544.3 M1149.1,1536.3 L1130.8,1537.7 M1147.6,1531.0 L1129.2,1530.9 M1146.6,1525.7 L1128.2,1524.1 M1145.9,1520.2 L1127.7,1517.2 M1145.7,1514.7 L1127.8,1510.3 M1145.9,1509.2 L1128.4,1503.4 M1146.6,1503.7 L1129.6,1496.6 M1147.6,1498.4 L1131.3,1489.9 M1149.1,1493.1 L1133.5,1483.4 M1151.0,1487.9 L1136.2,1477.0 M1153.3,1482.9 L1139.4,1470.9 M1156.0,1478.1 L1143.1,1465.0 M1159.1,1473.6 L1147.2,1459.5 M1162.5,1469.2 L1151.7,1454.3 M1166.2,1465.2 L1156.7,1449.4 M1170.2,1461.5 L1162.0,1445.0 M1174.6,1458.1 L1167.6,1441.0 M1179.1,1455.0 L1173.5,1437.5 M1183.9,1452.3 L1179.7,1434.4 M1188.9,1450.0 L1186.1,1431.8 M1194.1,1448.1 L1192.7,1429.8 M1199.4,1446.6 L1199.5,1428.2 M1204.7,1445.6 L1206.3,1427.2 M1210.2,1444.9 L1213.2,1426.7 M1215.7,1444.7 L1220.1,1426.8 M1221.2,1444.9 L1227.0,1427.4 M1226.7,1445.6 L1233.8,1428.6 M1232.0,1446.6 L1240.5,1430.3 M1237.3,1448.1 L1247.0,1432.5 M1242.5,1450.0 L1253.4,1435.2 M1247.5,1452.3 L1259.5,1438.4 M1252.3,1455.0 L1265.4,1442.1 M1256.8,1458.1 L1270.9,1446.2 M1261.2,1461.5 L1276.1,1450.7 M1265.2,1465.2 L1281.0,1455.7 M1268.9,1469.2 L1285.4,1461.0 M1272.3,1473.6 L1289.4,1466.6 M1275.4,1478.1 L1292.9,1472.5 M1278.1,1482.9 L1296.0,1478.7 M1280.4,1487.9 L1298.6,1485.1 M1282.3,1493.1 L1300.6,1491.7 M1283.8,1498.4 L1302.2,1498.5 M1284.8,1503.7 L1303.2,1505.3 M1285.5,1509.2 L1303.7,1512.2" stroke="#9dc7f5" stroke-width="2.2" fill="none" stroke-linecap="round"/>
<ellipse cx="1216" cy="1510" rx="76" ry="70" fill="#e2677a"/>
<path d="M1270.0,1510.0 L1290.9,1513.4 M1269.8,1514.8 L1290.3,1519.6 M1269.1,1519.5 L1289.0,1525.7 M1268.1,1524.1 L1287.2,1531.7 M1266.6,1528.6 L1284.8,1537.4 M1264.7,1533.0 L1281.9,1543.0 M1262.4,1537.2 L1278.4,1548.3 M1259.7,1541.2 L1274.4,1553.3 M1256.7,1544.9 L1269.9,1557.9 M1253.3,1548.3 L1265.1,1562.2 M1249.7,1551.4 L1259.8,1566.0 M1245.7,1554.2 L1254.1,1569.4 M1241.6,1556.7 L1248.2,1572.3 M1237.2,1558.7 L1242.0,1574.7 M1232.7,1560.4 L1235.6,1576.6 M1228.0,1561.7 L1229.0,1578.0 M1223.2,1562.5 L1222.3,1578.8 M1218.4,1562.9 L1215.6,1579.0 M1213.6,1562.9 L1208.9,1578.7 M1208.8,1562.5 L1202.2,1577.8 M1204.0,1561.7 L1195.7,1576.4 M1199.3,1560.4 L1189.3,1574.5 M1194.8,1558.7 L1183.1,1572.0 M1190.4,1556.7 L1177.2,1569.1 M1186.3,1554.2 L1171.6,1565.6 M1182.3,1551.4 L1166.4,1561.7 M1178.7,1548.3 L1161.5,1557.4 M1175.3,1544.9 L1157.1,1552.7 M1172.3,1541.2 L1153.2,1547.7 M1169.6,1537.2 L1149.8,1542.4 M1167.3,1533.0 L1146.9,1536.8 M1165.4,1528.6 L1144.6,1531.0 M1163.9,1524.1 L1142.8,1525.0 M1162.9,1519.5 L1141.6,1518.9 M1162.2,1514.8 L1141.1,1512.7 M1162.0,1510.0 L1141.1,1506.6 M1162.2,1505.2 L1141.7,1500.4 M1162.9,1500.5 L1143.0,1494.3 M1163.9,1495.9 L1144.8,1488.3 M1165.4,1491.4 L1147.2,1482.6 M1167.3,1487.0 L1150.1,1477.0 M1169.6,1482.8 L1153.6,1471.7 M1172.3,1478.8 L1157.6,1466.7 M1175.3,1475.1 L1162.1,1462.1 M1178.7,1471.7 L1166.9,1457.8 M1182.3,1468.6 L1172.2,1454.0 M1186.3,1465.8 L1177.9,1450.6 M1190.4,1463.3 L1183.8,1447.7 M1194.8,1461.3 L1190.0,1445.3 M1199.3,1459.6 L1196.4,1443.4 M1204.0,1458.3 L1203.0,1442.0 M1208.8,1457.5 L1209.7,1441.2 M1213.6,1457.1 L1216.4,1441.0 M1218.4,1457.1 L1223.1,1441.3 M1223.2,1457.5 L1229.8,1442.2 M1228.0,1458.3 L1236.3,1443.6 M1232.7,1459.6 L1242.7,1445.5 M1237.2,1461.3 L1248.9,1448.0 M1241.6,1463.3 L1254.8,1450.9 M1245.7,1465.8 L1260.4,1454.4 M1249.7,1468.6 L1265.6,1458.3 M1253.3,1471.7 L1270.5,1462.6 M1256.7,1475.1 L1274.9,1467.3 M1259.7,1478.8 L1278.8,1472.3 M1262.4,1482.8 L1282.2,1477.6 M1264.7,1487.0 L1285.1,1483.2 M1266.6,1491.4 L1287.4,1489.0 M1268.1,1495.9 L1289.2,1495.0 M1269.1,1500.5 L1290.4,1501.1 M1269.8,1505.2 L1290.9,1507.3" stroke="#f08a94" stroke-width="2.0" fill="none" stroke-linecap="round"/>
<ellipse cx="1215" cy="1510" rx="54" ry="53" fill="#5a88dc"/>
<path d="M1260.0,1510.0 L1268.9,1512.6 M1259.8,1514.4 L1268.4,1518.2 M1259.0,1518.7 L1267.2,1523.6 M1257.8,1523.0 L1265.5,1528.9 M1256.1,1527.1 L1263.2,1533.9 M1254.0,1531.0 L1260.4,1538.8 M1251.4,1534.7 L1257.0,1543.3 M1248.4,1538.1 L1253.3,1547.4 M1245.1,1541.2 L1249.1,1551.1 M1241.5,1544.0 L1244.5,1554.4 M1237.5,1546.4 L1239.6,1557.2 M1233.3,1548.4 L1234.5,1559.4 M1228.9,1549.9 L1229.1,1561.2 M1224.4,1551.1 L1223.6,1562.3 M1219.7,1551.8 L1218.0,1562.9 M1215.0,1552.0 L1212.3,1562.9 M1210.3,1551.8 L1206.7,1562.4 M1205.6,1551.1 L1201.1,1561.2 M1201.1,1549.9 L1195.8,1559.5 M1196.7,1548.4 L1190.6,1557.3 M1192.5,1546.4 L1185.7,1554.5 M1188.5,1544.0 L1181.1,1551.3 M1184.9,1541.2 L1176.9,1547.6 M1181.6,1538.1 L1173.1,1543.5 M1178.6,1534.7 L1169.8,1539.0 M1176.0,1531.0 L1166.9,1534.2 M1173.9,1527.1 L1164.6,1529.1 M1172.2,1523.0 L1162.9,1523.8 M1171.0,1518.7 L1161.7,1518.4 M1170.2,1514.4 L1161.1,1512.9 M1170.0,1510.0 L1161.1,1507.4 M1170.2,1505.6 L1161.6,1501.8 M1171.0,1501.3 L1162.8,1496.4 M1172.2,1497.0 L1164.5,1491.1 M1173.9,1492.9 L1166.8,1486.1 M1176.0,1489.0 L1169.6,1481.2 M1178.6,1485.3 L1173.0,1476.7 M1181.6,1481.9 L1176.7,1472.6 M1184.9,1478.8 L1180.9,1468.9 M1188.5,1476.0 L1185.5,1465.6 M1192.5,1473.6 L1190.4,1462.8 M1196.7,1471.6 L1195.5,1460.6 M1201.1,1470.1 L1200.9,1458.8 M1205.6,1468.9 L1206.4,1457.7 M1210.3,1468.2 L1212.0,1457.1 M1215.0,1468.0 L1217.7,1457.1 M1219.7,1468.2 L1223.3,1457.6 M1224.4,1468.9 L1228.9,1458.8 M1228.9,1470.1 L1234.2,1460.5 M1233.3,1471.6 L1239.4,1462.7 M1237.5,1473.6 L1244.3,1465.5 M1241.5,1476.0 L1248.9,1468.7 M1245.1,1478.8 L1253.1,1472.4 M1248.4,1481.9 L1256.9,1476.5 M1251.4,1485.3 L1260.2,1481.0 M1254.0,1489.0 L1263.1,1485.8 M1256.1,1492.9 L1265.4,1490.9 M1257.8,1497.0 L1267.1,1496.2 M1259.0,1501.3 L1268.3,1501.6 M1259.8,1505.6 L1268.9,1507.1" stroke="#86b2ee" stroke-width="1.8" fill="none" stroke-linecap="round"/>
<ellipse cx="1214" cy="1504" rx="46" ry="42" fill="url(#pein)"/>
<path d="M1215.1 1533.4a1.1 1.1 0 1 0 2.2 0a1.1 1.1 0 1 0 -2.2 0M1191.6 1526.7a1.1 1.1 0 1 0 2.2 0a1.1 1.1 0 1 0 -2.2 0M1205.7 1496.7a1.1 1.1 0 1 0 2.2 0a1.1 1.1 0 1 0 -2.2 0M1249.4 1507a1.1 1.1 0 1 0 2.2 0a1.1 1.1 0 1 0 -2.2 0M1211.8 1523.3a1.1 1.1 0 1 0 2.2 0a1.1 1.1 0 1 0 -2.2 0M1240.3 1503.2a1.1 1.1 0 1 0 2.2 0a1.1 1.1 0 1 0 -2.2 0M1227.2 1480.4a1.1 1.1 0 1 0 2.2 0a1.1 1.1 0 1 0 -2.2 0M1202.9 1492.1a1.1 1.1 0 1 0 2.2 0a1.1 1.1 0 1 0 -2.2 0M1188.2 1476.1a1.1 1.1 0 1 0 2.2 0a1.1 1.1 0 1 0 -2.2 0M1178.8 1499a1.1 1.1 0 1 0 2.2 0a1.1 1.1 0 1 0 -2.2 0M1208.1 1495.1a1.1 1.1 0 1 0 2.2 0a1.1 1.1 0 1 0 -2.2 0M1214.5 1473.3a1.1 1.1 0 1 0 2.2 0a1.1 1.1 0 1 0 -2.2 0M1210.7 1510.7a1.1 1.1 0 1 0 2.2 0a1.1 1.1 0 1 0 -2.2 0M1231.2 1483.4a1.1 1.1 0 1 0 2.2 0a1.1 1.1 0 1 0 -2.2 0M1205.6 1467.2a1.1 1.1 0 1 0 2.2 0a1.1 1.1 0 1 0 -2.2 0M1204.3 1466.6a1.1 1.1 0 1 0 2.2 0a1.1 1.1 0 1 0 -2.2 0M1184.6 1525.9a1.1 1.1 0 1 0 2.2 0a1.1 1.1 0 1 0 -2.2 0M1176.5 1517.2a1.1 1.1 0 1 0 2.2 0a1.1 1.1 0 1 0 -2.2 0M1221.9 1495.4a1.1 1.1 0 1 0 2.2 0a1.1 1.1 0 1 0 -2.2 0M1225.1 1518.1a1.1 1.1 0 1 0 2.2 0a1.1 1.1 0 1 0 -2.2 0M1238.7 1498.3a1.1 1.1 0 1 0 2.2 0a1.1 1.1 0 1 0 -2.2 0M1197.5 1488.3a1.1 1.1 0 1 0 2.2 0a1.1 1.1 0 1 0 -2.2 0M1188.1 1502.9a1.1 1.1 0 1 0 2.2 0a1.1 1.1 0 1 0 -2.2 0M1194.8 1528.6a1.1 1.1 0 1 0 2.2 0a1.1 1.1 0 1 0 -2.2 0M1180.1 1484.8a1.1 1.1 0 1 0 2.2 0a1.1 1.1 0 1 0 -2.2 0M1196.9 1468.9a1.1 1.1 0 1 0 2.2 0a1.1 1.1 0 1 0 -2.2 0M1237.6 1472.8a1.1 1.1 0 1 0 2.2 0a1.1 1.1 0 1 0 -2.2 0M1205.2 1489.8a1.1 1.1 0 1 0 2.2 0a1.1 1.1 0 1 0 -2.2 0M1238.1 1473.8a1.1 1.1 0 1 0 2.2 0a1.1 1.1 0 1 0 -2.2 0M1237.8 1487a1.1 1.1 0 1 0 2.2 0a1.1 1.1 0 1 0 -2.2 0M1208.8 1486.1a1.1 1.1 0 1 0 2.2 0a1.1 1.1 0 1 0 -2.2 0M1227.8 1477.6a1.1 1.1 0 1 0 2.2 0a1.1 1.1 0 1 0 -2.2 0M1210.7 1513.8a1.1 1.1 0 1 0 2.2 0a1.1 1.1 0 1 0 -2.2 0M1237.1 1472.4a1.1 1.1 0 1 0 2.2 0a1.1 1.1 0 1 0 -2.2 0M1243.3 1522.9a1.1 1.1 0 1 0 2.2 0a1.1 1.1 0 1 0 -2.2 0M1199.8 1512.3a1.1 1.1 0 1 0 2.2 0a1.1 1.1 0 1 0 -2.2 0M1203.4 1537.7a1.1 1.1 0 1 0 2.2 0a1.1 1.1 0 1 0 -2.2 0M1218.8 1498a1.1 1.1 0 1 0 2.2 0a1.1 1.1 0 1 0 -2.2 0M1206.5 1498.4a1.1 1.1 0 1 0 2.2 0a1.1 1.1 0 1 0 -2.2 0M1208.4 1481.4a1.1 1.1 0 1 0 2.2 0a1.1 1.1 0 1 0 -2.2 0M1241.9 1477a1.1 1.1 0 1 0 2.2 0a1.1 1.1 0 1 0 -2.2 0M1173 1502.6a1.1 1.1 0 1 0 2.2 0a1.1 1.1 0 1 0 -2.2 0M1208.8 1514.3a1.1 1.1 0 1 0 2.2 0a1.1 1.1 0 1 0 -2.2 0M1207.2 1499.8a1.1 1.1 0 1 0 2.2 0a1.1 1.1 0 1 0 -2.2 0M1221.2 1528.2a1.1 1.1 0 1 0 2.2 0a1.1 1.1 0 1 0 -2.2 0M1200.7 1493.9a1.1 1.1 0 1 0 2.2 0a1.1 1.1 0 1 0 -2.2 0M1248.8 1513.8a1.1 1.1 0 1 0 2.2 0a1.1 1.1 0 1 0 -2.2 0M1197.6 1540.1a1.1 1.1 0 1 0 2.2 0a1.1 1.1 0 1 0 -2.2 0M1232.5 1489.1a1.1 1.1 0 1 0 2.2 0a1.1 1.1 0 1 0 -2.2 0M1184.9 1511.1a1.1 1.1 0 1 0 2.2 0a1.1 1.1 0 1 0 -2.2 0M1193.8 1479.7a1.1 1.1 0 1 0 2.2 0a1.1 1.1 0 1 0 -2.2 0M1183.6 1492.5a1.1 1.1 0 1 0 2.2 0a1.1 1.1 0 1 0 -2.2 0M1239.4 1493.6a1.1 1.1 0 1 0 2.2 0a1.1 1.1 0 1 0 -2.2 0M1182.1 1518.2a1.1 1.1 0 1 0 2.2 0a1.1 1.1 0 1 0 -2.2 0M1214.6 1525.9a1.1 1.1 0 1 0 2.2 0a1.1 1.1 0 1 0 -2.2 0M1241.5 1500a1.1 1.1 0 1 0 2.2 0a1.1 1.1 0 1 0 -2.2 0M1208.8 1502.7a1.1 1.1 0 1 0 2.2 0a1.1 1.1 0 1 0 -2.2 0M1186.7 1519.5a1.1 1.1 0 1 0 2.2 0a1.1 1.1 0 1 0 -2.2 0M1244 1507.9a1.1 1.1 0 1 0 2.2 0a1.1 1.1 0 1 0 -2.2 0M1206.3 1496.8a1.1 1.1 0 1 0 2.2 0a1.1 1.1 0 1 0 -2.2 0" fill="#9a90e0"/>
<path d="M1267.1,1549.4 L1282.9,1565.1 M1263.2,1554.6 L1277.3,1571.8 M1258.8,1559.3 L1271.0,1578.0 M1253.9,1563.6 L1264.0,1583.4 M1248.6,1567.3 L1256.6,1588.1 M1242.9,1570.4 L1248.7,1591.9 M1236.9,1573.0 L1240.4,1595.0 M1230.7,1574.9 L1231.9,1597.1 M1224.3,1576.1 L1223.2,1598.4 M1217.9,1576.7 L1214.4,1598.7 M1211.4,1576.5 L1205.7,1598.1 M1204.9,1575.8 L1197.0,1596.6 M1198.6,1574.3 L1188.5,1594.2 M1192.5,1572.2 L1180.4,1590.9 M1186.6,1569.4 L1172.6,1586.8 M1181.0,1566.1 L1165.3,1581.9 M1175.8,1562.2 L1158.6,1576.3 M1171.1,1557.8 L1152.4,1570.0 M1166.8,1552.9 L1147.0,1563.0 M1163.1,1547.6 L1142.3,1555.6" stroke="#d66070" stroke-width="1.6" fill="none" stroke-linecap="round"/>
<path d="M1305.8,1512.2 L1305.8,1517.2 L1299.3,1515.5 Z M1305.6,1521.1 L1305.1,1526.0 L1298.8,1523.7 Z M1304.5,1529.8 L1303.6,1534.7 L1297.5,1531.8 Z M1302.6,1538.5 L1301.2,1543.2 L1295.5,1539.8 Z M1299.9,1546.9 L1298.0,1551.5 L1292.6,1547.4 Z M1296.3,1555.0 L1294.0,1559.3 L1289.0,1554.8 Z M1292.0,1562.7 L1289.2,1566.8 L1284.8,1561.8 Z M1286.9,1569.9 L1283.8,1573.8 L1279.8,1568.4 Z M1281.1,1576.6 L1277.6,1580.1 L1274.2,1574.4 Z M1274.8,1582.8 L1270.9,1585.9 L1268.1,1579.8 Z M1267.8,1588.2 L1263.7,1591.0 L1261.5,1584.7 Z M1260.3,1593.0 L1256.0,1595.3 L1254.4,1588.8 Z M1252.5,1597.0 L1247.9,1598.9 L1246.9,1592.2 Z M1244.2,1600.2 L1239.5,1601.6 L1239.2,1594.9 Z M1235.7,1602.6 L1230.8,1603.5 L1231.2,1596.8 Z M1227.0,1604.1 L1222.1,1604.6 L1223.1,1598.0 Z M1218.2,1604.8 L1213.2,1604.8 L1214.9,1598.3 Z M1209.3,1604.6 L1204.4,1604.1 L1206.7,1597.8 Z M1200.6,1603.5 L1195.7,1602.6 L1198.6,1596.5 Z M1191.9,1601.6 L1187.2,1600.2 L1190.6,1594.5 Z M1183.5,1598.9 L1178.9,1597.0 L1183.0,1591.6 Z M1175.4,1595.3 L1171.1,1593.0 L1175.6,1588.0 Z M1167.7,1591.0 L1163.6,1588.2 L1168.6,1583.8 Z M1160.5,1585.9 L1156.6,1582.8 L1162.0,1578.8 Z M1153.8,1580.1 L1150.3,1576.6 L1156.0,1573.2 Z M1147.6,1573.8 L1144.5,1569.9 L1150.6,1567.1 Z M1142.2,1566.8 L1139.4,1562.7 L1145.7,1560.5 Z M1137.4,1559.3 L1135.1,1555.0 L1141.6,1553.4 Z M1133.4,1551.5 L1131.5,1546.9 L1138.2,1545.9 Z M1130.2,1543.2 L1128.8,1538.5 L1135.5,1538.2 Z M1127.8,1534.7 L1126.9,1529.8 L1133.6,1530.2 Z M1126.3,1526.0 L1125.8,1521.1 L1132.4,1522.1 Z M1125.6,1517.2 L1125.6,1512.2 L1132.1,1513.9 Z M1125.8,1508.3 L1126.3,1503.4 L1132.6,1505.7 Z M1126.9,1499.6 L1127.8,1494.7 L1133.9,1497.6 Z M1128.8,1490.9 L1130.2,1486.2 L1135.9,1489.6 Z M1131.5,1482.5 L1133.4,1477.9 L1138.8,1482.0 Z M1135.1,1474.4 L1137.4,1470.1 L1142.4,1474.6 Z M1139.4,1466.7 L1142.2,1462.6 L1146.6,1467.6 Z M1144.5,1459.5 L1147.6,1455.6 L1151.6,1461.0 Z M1150.3,1452.8 L1153.8,1449.3 L1157.2,1455.0 Z M1156.6,1446.6 L1160.5,1443.5 L1163.3,1449.6 Z M1163.6,1441.2 L1167.7,1438.4 L1169.9,1444.7 Z M1171.1,1436.4 L1175.4,1434.1 L1177.0,1440.6 Z M1178.9,1432.4 L1183.5,1430.5 L1184.5,1437.2 Z M1187.2,1429.2 L1191.9,1427.8 L1192.2,1434.5 Z M1195.7,1426.8 L1200.6,1425.9 L1200.2,1432.6 Z M1204.4,1425.3 L1209.3,1424.8 L1208.3,1431.4 Z M1213.2,1424.6 L1218.2,1424.6 L1216.5,1431.1 Z M1222.1,1424.8 L1227.0,1425.3 L1224.7,1431.6 Z M1230.8,1425.9 L1235.7,1426.8 L1232.8,1432.9 Z M1239.5,1427.8 L1244.2,1429.2 L1240.8,1434.9 Z M1247.9,1430.5 L1252.5,1432.4 L1248.4,1437.8 Z M1256.0,1434.1 L1260.3,1436.4 L1255.8,1441.4 Z M1263.7,1438.4 L1267.8,1441.2 L1262.8,1445.6 Z M1270.9,1443.5 L1274.8,1446.6 L1269.4,1450.6 Z M1277.6,1449.3 L1281.1,1452.8 L1275.4,1456.2 Z M1283.8,1455.6 L1286.9,1459.5 L1280.8,1462.3 Z M1289.2,1462.6 L1292.0,1466.7 L1285.7,1468.9 Z M1294.0,1470.1 L1296.3,1474.4 L1289.8,1476.0 Z M1298.0,1477.9 L1299.9,1482.5 L1293.2,1483.5 Z M1301.2,1486.2 L1302.6,1490.9 L1295.9,1491.2 Z M1303.6,1494.7 L1304.5,1499.6 L1297.8,1499.2 Z M1305.1,1503.4 L1305.6,1508.3 L1299.0,1507.3 Z" fill="#ffffff"/>
<ellipse cx="782.4" cy="1746.5" rx="70" ry="66" fill="#4f9da2"/>
<g fill="none" stroke-linecap="round" stroke-linejoin="round">
<use href="#ntub0" stroke="#4e9a9f" stroke-width="12.5"/>
<use href="#ntub0" stroke="#86cccf" stroke-width="8"/>
<use href="#ntub0" stroke="#dcbc70" stroke-width="3.4"/>
</g>
<g fill="none" stroke-linecap="round" stroke-linejoin="round">
<use href="#ntub1" stroke="#4e9a9f" stroke-width="12.5"/>
<use href="#ntub1" stroke="#86cccf" stroke-width="8"/>
<use href="#ntub1" stroke="#dcbc70" stroke-width="3.4"/>
</g>
<g fill="none" stroke-linecap="round" stroke-linejoin="round">
<use href="#ntub2" stroke="#4e9a9f" stroke-width="12.5"/>
<use href="#ntub2" stroke="#86cccf" stroke-width="8"/>
<use href="#ntub2" stroke="#dcbc70" stroke-width="3.4"/>
</g>
<g fill="none" stroke-linecap="round" stroke-linejoin="round">
<use href="#ntub3" stroke="#4e9a9f" stroke-width="12.5"/>
<use href="#ntub3" stroke="#86cccf" stroke-width="8"/>
<use href="#ntub3" stroke="#dcbc70" stroke-width="3.4"/>
</g>
<g fill="none" stroke-linecap="round" stroke-linejoin="round">
<use href="#ntub4" stroke="#4e9a9f" stroke-width="12.5"/>
<use href="#ntub4" stroke="#86cccf" stroke-width="8"/>
<use href="#ntub4" stroke="#dcbc70" stroke-width="3.4"/>
</g>
<circle cx="1196" cy="1720" r="30.8" fill="#4a2280"/>
<circle cx="1240" cy="1712" r="30.8" fill="#4a2280"/>
<circle cx="1270" cy="1752" r="27.8" fill="#4a2280"/>
<circle cx="1188" cy="1770" r="28.8" fill="#4a2280"/>
<circle cx="1232" cy="1790" r="30.8" fill="#4a2280"/>
<circle cx="1212" cy="1750" r="28.8" fill="#4a2280"/>
<circle cx="1196" cy="1720" r="30" fill="url(#pdots)"/>
<circle cx="1240" cy="1712" r="30" fill="url(#pdots)"/>
<circle cx="1270" cy="1752" r="27" fill="url(#pdots)"/>
<circle cx="1188" cy="1770" r="28" fill="url(#pdots)"/>
<circle cx="1232" cy="1790" r="30" fill="url(#pdots)"/>
<circle cx="1212" cy="1750" r="28" fill="url(#pdots)"/>
<polyline points="1165.0,1745.0 1168.0,1746.1 1170.2,1746.4 1171.0,1745.4 1170.5,1743.3 1169.2,1740.4 1167.8,1737.5 1167.3,1735.4 1168.1,1734.5 1170.3,1734.8 1173.3,1735.8 1176.3,1736.9 1178.5,1737.2 1179.4,1736.3 1178.8,1734.1 1177.5,1731.2 1176.2,1728.4 1175.6,1726.2 1176.5,1725.3 1178.7,1725.6 1181.7,1726.7 1184.7,1727.7 1186.9,1728.0 1187.7,1727.1 1187.2,1725.0 1185.8,1722.1 1184.5,1719.2 1184.0,1717.1 1184.8,1716.1 1187.0,1716.4 1190.0,1717.5 1193.0,1718.6 1195.2,1718.9 1196.0,1717.9 1195.5,1715.8 1194.2,1712.9 1192.8,1710.0 1192.3,1707.9 1193.1,1707.0 1195.3,1707.3 1198.3,1708.3 1201.3,1709.4 1203.5,1709.7 1204.4,1708.8 1203.8,1706.6 1202.5,1703.8 1201.2,1700.9 1200.6,1698.7 1201.5,1697.8 1203.7,1698.1 1206.7,1699.2 1209.7,1700.2 1211.9,1700.5 1212.7,1699.6 1212.2,1697.5 1210.8,1694.6 1209.5,1691.7 1209.0,1689.6 1209.8,1688.6 1212.0,1688.9 1215.0,1690.0" fill="none" stroke="#f0b040" stroke-width="3.2" stroke-linecap="round"/>
<polyline points="1228.0,1688.0 1227.3,1691.2 1227.3,1693.4 1228.4,1694.2 1230.5,1693.5 1233.3,1691.9 1236.1,1690.3 1238.3,1689.7 1239.3,1690.4 1239.3,1692.7 1238.7,1695.8 1238.0,1699.0 1238.0,1701.2 1239.1,1702.0 1241.2,1701.3 1244.0,1699.8 1246.8,1698.2 1248.9,1697.5 1250.0,1698.3 1250.0,1700.5 1249.3,1703.7 1248.7,1706.8 1248.7,1709.1 1249.7,1709.8 1251.9,1709.2 1254.7,1707.6 1257.5,1706.0 1259.6,1705.3 1260.7,1706.1 1260.7,1708.3 1260.0,1711.5 1259.3,1714.7 1259.3,1716.9 1260.4,1717.7 1262.5,1717.0 1265.3,1715.4 1268.1,1713.8 1270.3,1713.2 1271.3,1713.9 1271.3,1716.2 1270.7,1719.3 1270.0,1722.5 1270.0,1724.7 1271.1,1725.5 1273.2,1724.8 1276.0,1723.2 1278.8,1721.7 1280.9,1721.0 1282.0,1721.8 1282.0,1724.0 1281.3,1727.2 1280.7,1730.3 1280.7,1732.6 1281.7,1733.3 1283.9,1732.7 1286.7,1731.1 1289.5,1729.5 1291.6,1728.8 1292.7,1729.6 1292.7,1731.8 1292.0,1735.0" fill="none" stroke="#f0b040" stroke-width="3.2" stroke-linecap="round"/>
<polyline points="1290.0,1740.0 1286.8,1740.4 1284.8,1741.0 1284.4,1742.2 1285.8,1743.9 1288.3,1745.8 1290.8,1747.8 1292.2,1749.5 1291.9,1750.6 1289.8,1751.3 1286.7,1751.7 1283.5,1752.0 1281.4,1752.7 1281.1,1753.9 1282.5,1755.5 1285.0,1757.5 1287.5,1759.5 1288.9,1761.1 1288.6,1762.3 1286.5,1763.0 1283.3,1763.3 1280.2,1763.7 1278.1,1764.4 1277.8,1765.5 1279.2,1767.2 1281.7,1769.2 1284.2,1771.1 1285.6,1772.8 1285.2,1774.0 1283.2,1774.6 1280.0,1775.0 1276.8,1775.4 1274.8,1776.0 1274.4,1777.2 1275.8,1778.9 1278.3,1780.8 1280.8,1782.8 1282.2,1784.5 1281.9,1785.6 1279.8,1786.3 1276.7,1786.7 1273.5,1787.0 1271.4,1787.7 1271.1,1788.9 1272.5,1790.5 1275.0,1792.5 1277.5,1794.5 1278.9,1796.1 1278.6,1797.3 1276.5,1798.0 1273.3,1798.3 1270.2,1798.7 1268.1,1799.4 1267.8,1800.5 1269.2,1802.2 1271.7,1804.2 1274.2,1806.1 1275.6,1807.8 1275.2,1809.0 1273.2,1809.6 1270.0,1810.0" fill="none" stroke="#f0b040" stroke-width="3.2" stroke-linecap="round"/>
<polyline points="1262.0,1812.0 1260.4,1809.3 1259.1,1807.6 1257.9,1807.8 1257.1,1809.8 1256.4,1812.8 1255.7,1815.9 1254.9,1817.9 1253.8,1818.0 1252.4,1816.4 1250.8,1813.7 1249.3,1810.9 1247.9,1809.3 1246.8,1809.5 1245.9,1811.4 1245.2,1814.5 1244.6,1817.6 1243.7,1819.5 1242.6,1819.7 1241.2,1818.1 1239.7,1815.3 1238.1,1812.6 1236.7,1811.0 1235.6,1811.1 1234.8,1813.1 1234.1,1816.2 1233.4,1819.2 1232.6,1821.2 1231.4,1821.4 1230.1,1819.7 1228.5,1817.0 1226.9,1814.3 1225.6,1812.6 1224.4,1812.8 1223.6,1814.8 1222.9,1817.8 1222.2,1820.9 1221.4,1822.9 1220.3,1823.0 1218.9,1821.4 1217.3,1818.7 1215.8,1815.9 1214.4,1814.3 1213.3,1814.5 1212.4,1816.4 1211.8,1819.5 1211.1,1822.6 1210.2,1824.5 1209.1,1824.7 1207.7,1823.1 1206.2,1820.3 1204.6,1817.6 1203.2,1816.0 1202.1,1816.1 1201.3,1818.1 1200.6,1821.2 1199.9,1824.2 1199.1,1826.2 1197.9,1826.4 1196.6,1824.7 1195.0,1822.0" fill="none" stroke="#f0b040" stroke-width="3.2" stroke-linecap="round"/>
<polyline points="1170.0,1800.0 1172.7,1798.6 1174.3,1797.5 1174.1,1796.8 1172.2,1796.6 1169.2,1796.7 1166.1,1796.7 1164.2,1796.5 1164.1,1795.8 1165.6,1794.7 1168.3,1793.3 1171.0,1792.0 1172.6,1790.8 1172.4,1790.2 1170.5,1790.0 1167.5,1790.0 1164.5,1790.0 1162.6,1789.8 1162.4,1789.2 1164.0,1788.0 1166.7,1786.7 1169.4,1785.3 1170.9,1784.2 1170.8,1783.5 1168.9,1783.3 1165.8,1783.3 1162.8,1783.4 1160.9,1783.2 1160.7,1782.5 1162.3,1781.4 1165.0,1780.0 1167.7,1778.6 1169.3,1777.5 1169.1,1776.8 1167.2,1776.6 1164.2,1776.7 1161.1,1776.7 1159.2,1776.5 1159.1,1775.8 1160.6,1774.7 1163.3,1773.3 1166.0,1772.0 1167.6,1770.8 1167.4,1770.2 1165.5,1770.0 1162.5,1770.0 1159.5,1770.0 1157.6,1769.8 1157.4,1769.2 1159.0,1768.0 1161.7,1766.7 1164.4,1765.3 1165.9,1764.2 1165.8,1763.5 1163.9,1763.3 1160.8,1763.3 1157.8,1763.4 1155.9,1763.2 1155.7,1762.5 1157.3,1761.4 1160.0,1760.0" fill="none" stroke="#f0b040" stroke-width="3.2" stroke-linecap="round"/>
<polyline points="1200.0,1740.0 1197.9,1742.4 1196.9,1744.2 1197.4,1745.2 1199.5,1745.4 1202.7,1745.0 1205.8,1744.6 1207.9,1744.8 1208.5,1745.8 1207.4,1747.6 1205.3,1750.0 1203.3,1752.4 1202.2,1754.2 1202.7,1755.2 1204.9,1755.4 1208.0,1755.0 1211.1,1754.6 1213.3,1754.8 1213.8,1755.8 1212.7,1757.6 1210.7,1760.0 1208.6,1762.4 1207.5,1764.2 1208.1,1765.2 1210.2,1765.4 1213.3,1765.0 1216.5,1764.6 1218.6,1764.8 1219.1,1765.8 1218.1,1767.6 1216.0,1770.0 1213.9,1772.4 1212.9,1774.2 1213.4,1775.2 1215.5,1775.4 1218.7,1775.0 1221.8,1774.6 1223.9,1774.8 1224.5,1775.8 1223.4,1777.6 1221.3,1780.0 1219.3,1782.4 1218.2,1784.2 1218.7,1785.2 1220.9,1785.4 1224.0,1785.0 1227.1,1784.6 1229.3,1784.8 1229.8,1785.8 1228.7,1787.6 1226.7,1790.0 1224.6,1792.4 1223.5,1794.2 1224.1,1795.2 1226.2,1795.4 1229.3,1795.0 1232.5,1794.6 1234.6,1794.8 1235.1,1795.8 1234.1,1797.6 1232.0,1800.0" fill="none" stroke="#f0b040" stroke-width="3.2" stroke-linecap="round"/>
<polyline points="1240.0,1700.0 1237.3,1701.5 1235.6,1702.8 1235.8,1703.8 1237.8,1704.5 1240.8,1705.0 1243.9,1705.5 1245.9,1706.2 1246.0,1707.2 1244.4,1708.5 1241.7,1710.0 1238.9,1711.5 1237.3,1712.8 1237.5,1713.8 1239.4,1714.5 1242.5,1715.0 1245.6,1715.5 1247.5,1716.2 1247.7,1717.2 1246.1,1718.5 1243.3,1720.0 1240.6,1721.5 1239.0,1722.8 1239.1,1723.8 1241.1,1724.5 1244.2,1725.0 1247.2,1725.5 1249.2,1726.2 1249.4,1727.2 1247.7,1728.5 1245.0,1730.0 1242.3,1731.5 1240.6,1732.8 1240.8,1733.8 1242.8,1734.5 1245.8,1735.0 1248.9,1735.5 1250.9,1736.2 1251.0,1737.2 1249.4,1738.5 1246.7,1740.0 1243.9,1741.5 1242.3,1742.8 1242.5,1743.8 1244.4,1744.5 1247.5,1745.0 1250.6,1745.5 1252.5,1746.2 1252.7,1747.2 1251.1,1748.5 1248.3,1750.0 1245.6,1751.5 1244.0,1752.8 1244.1,1753.8 1246.1,1754.5 1249.2,1755.0 1252.2,1755.5 1254.2,1756.2 1254.4,1757.2 1252.7,1758.5 1250.0,1760.0" fill="none" stroke="#f0b040" stroke-width="3.2" stroke-linecap="round"/>
<polyline points="1162.0,1730.0 1163.9,1732.4 1165.4,1733.7 1166.2,1733.4 1166.3,1731.4 1166.0,1728.3 1165.7,1725.3 1165.8,1723.3 1166.6,1722.9 1168.1,1724.3 1170.0,1726.7 1171.9,1729.0 1173.4,1730.4 1174.2,1730.1 1174.3,1728.0 1174.0,1725.0 1173.7,1722.0 1173.8,1719.9 1174.6,1719.6 1176.1,1721.0 1178.0,1723.3 1179.9,1725.7 1181.4,1727.1 1182.2,1726.7 1182.3,1724.7 1182.0,1721.7 1181.7,1718.6 1181.8,1716.6 1182.6,1716.3 1184.1,1717.6 1186.0,1720.0 1187.9,1722.4 1189.4,1723.7 1190.2,1723.4 1190.3,1721.4 1190.0,1718.3 1189.7,1715.3 1189.8,1713.3 1190.6,1712.9 1192.1,1714.3 1194.0,1716.7 1195.9,1719.0 1197.4,1720.4 1198.2,1720.1 1198.3,1718.0 1198.0,1715.0 1197.7,1712.0 1197.8,1709.9 1198.6,1709.6 1200.1,1711.0 1202.0,1713.3 1203.9,1715.7 1205.4,1717.1 1206.2,1716.7 1206.3,1714.7 1206.0,1711.7 1205.7,1708.6 1205.8,1706.6 1206.6,1706.3 1208.1,1707.6 1210.0,1710.0" fill="none" stroke="#3fc7b0" stroke-width="3.2" stroke-linecap="round"/>
<polyline points="1205.0,1700.0 1206.4,1702.7 1207.5,1704.2 1208.1,1704.1 1208.1,1702.2 1207.9,1699.2 1207.7,1696.2 1207.8,1694.3 1208.4,1694.1 1209.4,1695.7 1210.8,1698.3 1212.2,1701.0 1213.3,1702.6 1213.9,1702.4 1214.0,1700.5 1213.8,1697.5 1213.5,1694.5 1213.6,1692.6 1214.2,1692.4 1215.3,1694.0 1216.7,1696.7 1218.1,1699.3 1219.1,1700.9 1219.7,1700.7 1219.8,1698.8 1219.6,1695.8 1219.4,1692.8 1219.4,1690.9 1220.0,1690.8 1221.1,1692.3 1222.5,1695.0 1223.9,1697.7 1225.0,1699.2 1225.6,1699.1 1225.6,1697.2 1225.4,1694.2 1225.2,1691.2 1225.3,1689.3 1225.9,1689.1 1226.9,1690.7 1228.3,1693.3 1229.7,1696.0 1230.8,1697.6 1231.4,1697.4 1231.5,1695.5 1231.2,1692.5 1231.0,1689.5 1231.1,1687.6 1231.7,1687.4 1232.8,1689.0 1234.2,1691.7 1235.6,1694.3 1236.6,1695.9 1237.2,1695.7 1237.3,1693.8 1237.1,1690.8 1236.9,1687.8 1236.9,1685.9 1237.5,1685.8 1238.6,1687.3 1240.0,1690.0" fill="none" stroke="#3fc7b0" stroke-width="3.2" stroke-linecap="round"/>
<polyline points="1215.0,1745.0 1216.1,1747.9 1217.2,1749.8 1218.2,1749.8 1219.3,1747.9 1220.4,1745.0 1221.5,1742.1 1222.6,1740.2 1223.7,1740.2 1224.8,1742.1 1225.8,1745.0 1226.9,1747.9 1228.0,1749.8 1229.1,1749.8 1230.2,1747.9 1231.2,1745.0 1232.3,1742.1 1233.4,1740.2 1234.5,1740.2 1235.6,1742.1 1236.7,1745.0 1237.8,1747.9 1238.8,1749.8 1239.9,1749.8 1241.0,1747.9 1242.1,1745.0 1243.2,1742.1 1244.2,1740.2 1245.3,1740.2 1246.4,1742.1 1247.5,1745.0 1248.6,1747.9 1249.7,1749.8 1250.8,1749.8 1251.8,1747.9 1252.9,1745.0 1254.0,1742.1 1255.1,1740.2 1256.2,1740.2 1257.2,1742.1 1258.3,1745.0 1259.4,1747.9 1260.5,1749.8 1261.6,1749.8 1262.7,1747.9 1263.8,1745.0 1264.8,1742.1 1265.9,1740.2 1267.0,1740.2 1268.1,1742.1 1269.2,1745.0 1270.2,1747.9 1271.3,1749.8 1272.4,1749.8 1273.5,1747.9 1274.6,1745.0 1275.7,1742.1 1276.8,1740.2 1277.8,1740.2 1278.9,1742.1 1280.0,1745.0" fill="none" stroke="#3fc7b0" stroke-width="3.2" stroke-linecap="round"/>
<polyline points="1165.0,1790.0 1164.3,1793.0 1164.2,1795.0 1164.9,1795.4 1166.6,1794.2 1168.8,1792.1 1170.9,1789.9 1172.6,1788.8 1173.3,1789.2 1173.2,1791.2 1172.5,1794.2 1171.8,1797.2 1171.7,1799.2 1172.4,1799.6 1174.1,1798.4 1176.2,1796.2 1178.4,1794.1 1180.1,1792.9 1180.8,1793.3 1180.7,1795.3 1180.0,1798.3 1179.3,1801.3 1179.2,1803.3 1179.9,1803.7 1181.6,1802.6 1183.8,1800.4 1185.9,1798.3 1187.6,1797.1 1188.3,1797.5 1188.2,1799.5 1187.5,1802.5 1186.8,1805.5 1186.7,1807.5 1187.4,1807.9 1189.1,1806.7 1191.2,1804.6 1193.4,1802.4 1195.1,1801.3 1195.8,1801.7 1195.7,1803.7 1195.0,1806.7 1194.3,1809.7 1194.2,1811.7 1194.9,1812.1 1196.6,1810.9 1198.8,1808.8 1200.9,1806.6 1202.6,1805.4 1203.3,1805.8 1203.2,1807.8 1202.5,1810.8 1201.8,1813.8 1201.7,1815.8 1202.4,1816.2 1204.1,1815.1 1206.2,1812.9 1208.4,1810.8 1210.1,1809.6 1210.8,1810.0 1210.7,1812.0 1210.0,1815.0" fill="none" stroke="#3fc7b0" stroke-width="3.2" stroke-linecap="round"/>
<polyline points="1240.0,1760.0 1237.0,1760.1 1235.0,1760.5 1234.9,1761.2 1236.5,1762.4 1239.2,1763.8 1241.9,1765.1 1243.5,1766.3 1243.3,1767.0 1241.4,1767.4 1238.3,1767.5 1235.3,1767.6 1233.4,1768.0 1233.2,1768.7 1234.8,1769.9 1237.5,1771.2 1240.2,1772.6 1241.8,1773.8 1241.6,1774.5 1239.7,1774.9 1236.7,1775.0 1233.6,1775.1 1231.7,1775.5 1231.5,1776.2 1233.1,1777.4 1235.8,1778.8 1238.5,1780.1 1240.1,1781.3 1240.0,1782.0 1238.0,1782.4 1235.0,1782.5 1232.0,1782.6 1230.0,1783.0 1229.9,1783.7 1231.5,1784.9 1234.2,1786.2 1236.9,1787.6 1238.5,1788.8 1238.3,1789.5 1236.4,1789.9 1233.3,1790.0 1230.3,1790.1 1228.4,1790.5 1228.2,1791.2 1229.8,1792.4 1232.5,1793.8 1235.2,1795.1 1236.8,1796.3 1236.6,1797.0 1234.7,1797.4 1231.7,1797.5 1228.6,1797.6 1226.7,1798.0 1226.5,1798.7 1228.1,1799.9 1230.8,1801.2 1233.5,1802.6 1235.1,1803.8 1235.0,1804.5 1233.0,1804.9 1230.0,1805.0" fill="none" stroke="#3fc7b0" stroke-width="3.2" stroke-linecap="round"/>
<ellipse cx="1710" cy="1709.5" rx="188.5" ry="191" fill="#689ee6"/>
<path d="M1868.0,1709.5 L1897.8,1719.0 M1867.7,1718.5 L1896.9,1729.8 M1867.0,1727.5 L1895.5,1740.6 M1865.7,1736.4 L1893.4,1751.2 M1863.9,1745.3 L1890.8,1761.7 M1861.6,1754.0 L1887.5,1772.1 M1858.8,1762.6 L1883.7,1782.2 M1855.5,1771.0 L1879.3,1792.1 M1851.8,1779.2 L1874.4,1801.7 M1847.6,1787.2 L1868.9,1811.1 M1842.9,1794.9 L1862.9,1820.1 M1837.8,1802.4 L1856.4,1828.7 M1832.3,1809.5 L1849.4,1837.0 M1826.4,1816.3 L1842.0,1844.8 M1820.1,1822.8 L1834.1,1852.2 M1813.5,1828.9 L1825.9,1859.1 M1806.5,1834.6 L1817.2,1865.6 M1799.2,1839.9 L1808.2,1871.5 M1791.6,1844.8 L1798.9,1876.9 M1783.7,1849.2 L1789.3,1881.8 M1775.6,1853.2 L1779.5,1886.1 M1767.3,1856.7 L1769.4,1889.8 M1758.8,1859.8 L1759.1,1892.9 M1750.2,1862.3 L1748.6,1895.4 M1741.4,1864.4 L1738.1,1897.4 M1732.5,1865.9 L1727.4,1898.7 M1723.5,1866.9 L1716.7,1899.4 M1714.5,1867.4 L1706.0,1899.5 M1705.5,1867.4 L1695.2,1898.9 M1696.5,1866.9 L1684.6,1897.8 M1687.5,1865.9 L1674.0,1896.0 M1678.6,1864.4 L1663.5,1893.6 M1669.8,1862.3 L1653.2,1890.6 M1661.2,1859.8 L1643.0,1887.0 M1652.7,1856.7 L1633.1,1882.9 M1644.4,1853.2 L1623.5,1878.2 M1636.3,1849.2 L1614.1,1872.9 M1628.4,1844.8 L1605.0,1867.1 M1620.8,1839.9 L1596.3,1860.8 M1613.5,1834.6 L1587.9,1854.0 M1606.5,1828.9 L1579.9,1846.7 M1599.9,1822.8 L1572.4,1839.0 M1593.6,1816.3 L1565.3,1830.8 M1587.7,1809.5 L1558.7,1822.3 M1582.2,1802.4 L1552.6,1813.4 M1577.1,1794.9 L1547.0,1804.1 M1572.4,1787.2 L1541.9,1794.5 M1568.2,1779.2 L1537.4,1784.7 M1564.5,1771.0 L1533.4,1774.6 M1561.2,1762.6 L1530.0,1764.3 M1558.4,1754.0 L1527.2,1753.9 M1556.1,1745.3 L1525.0,1743.2 M1554.3,1736.4 L1523.4,1732.5 M1553.0,1727.5 L1522.4,1721.7 M1552.3,1718.5 L1522.0,1710.9 M1552.0,1709.5 L1522.2,1700.0 M1552.3,1700.5 L1523.1,1689.2 M1553.0,1691.5 L1524.5,1678.4 M1554.3,1682.6 L1526.6,1667.8 M1556.1,1673.7 L1529.2,1657.3 M1558.4,1665.0 L1532.5,1646.9 M1561.2,1656.4 L1536.3,1636.8 M1564.5,1648.0 L1540.7,1626.9 M1568.2,1639.8 L1545.6,1617.3 M1572.4,1631.8 L1551.1,1607.9 M1577.1,1624.1 L1557.1,1598.9 M1582.2,1616.6 L1563.6,1590.3 M1587.7,1609.5 L1570.6,1582.0 M1593.6,1602.7 L1578.0,1574.2 M1599.9,1596.2 L1585.9,1566.8 M1606.5,1590.1 L1594.1,1559.9 M1613.5,1584.4 L1602.8,1553.4 M1620.8,1579.1 L1611.8,1547.5 M1628.4,1574.2 L1621.1,1542.1 M1636.3,1569.8 L1630.7,1537.2 M1644.4,1565.8 L1640.5,1532.9 M1652.7,1562.3 L1650.6,1529.2 M1661.2,1559.2 L1660.9,1526.1 M1669.8,1556.7 L1671.4,1523.6 M1678.6,1554.6 L1681.9,1521.6 M1687.5,1553.1 L1692.6,1520.3 M1696.5,1552.1 L1703.3,1519.6 M1705.5,1551.6 L1714.0,1519.5 M1714.5,1551.6 L1724.8,1520.1 M1723.5,1552.1 L1735.4,1521.2 M1732.5,1553.1 L1746.0,1523.0 M1741.4,1554.6 L1756.5,1525.4 M1750.2,1556.7 L1766.8,1528.4 M1758.8,1559.2 L1777.0,1532.0 M1767.3,1562.3 L1786.9,1536.1 M1775.6,1565.8 L1796.5,1540.8 M1783.7,1569.8 L1805.9,1546.1 M1791.6,1574.2 L1815.0,1551.9 M1799.2,1579.1 L1823.7,1558.2 M1806.5,1584.4 L1832.1,1565.0 M1813.5,1590.1 L1840.1,1572.3 M1820.1,1596.2 L1847.6,1580.0 M1826.4,1602.7 L1854.7,1588.2 M1832.3,1609.5 L1861.3,1596.7 M1837.8,1616.6 L1867.4,1605.6 M1842.9,1624.1 L1873.0,1614.9 M1847.6,1631.8 L1878.1,1624.5 M1851.8,1639.8 L1882.6,1634.3 M1855.5,1648.0 L1886.6,1644.4 M1858.8,1656.4 L1890.0,1654.7 M1861.6,1665.0 L1892.8,1665.1 M1863.9,1673.7 L1895.0,1675.8 M1865.7,1682.6 L1896.6,1686.5 M1867.0,1691.5 L1897.6,1697.3 M1867.7,1700.5 L1898.0,1708.1" stroke="#9cc8f5" stroke-width="3.4" fill="none" stroke-linecap="round"/>
<path d="M1869.9,1714.0 L1895.4,1724.1 M1869.4,1723.1 L1894.3,1734.8 M1868.4,1732.2 L1892.6,1745.4 M1866.8,1741.2 L1890.3,1755.9 M1864.8,1750.1 L1887.3,1766.2 M1862.2,1758.8 L1883.8,1776.3 M1859.1,1767.5 L1879.8,1786.3 M1855.6,1775.9 L1875.2,1795.9 M1851.6,1784.1 L1870.0,1805.3 M1847.1,1792.0 L1864.3,1814.4 M1842.1,1799.7 L1858.2,1823.1 M1836.8,1807.1 L1851.5,1831.5 M1831.0,1814.2 L1844.4,1839.5 M1824.8,1820.9 L1836.8,1847.0 M1818.3,1827.3 L1828.9,1854.1 M1811.4,1833.3 L1820.5,1860.7 M1804.1,1838.9 L1811.8,1866.9 M1796.6,1844.0 L1802.7,1872.5 M1788.8,1848.8 L1793.4,1877.6 M1780.7,1853.0 L1783.7,1882.1 M1772.4,1856.8 L1773.9,1886.1 M1763.9,1860.2 L1763.8,1889.5 M1755.2,1863.0 L1753.5,1892.3 M1746.3,1865.3 L1743.1,1894.5 M1737.4,1867.1 L1732.6,1896.1 M1728.3,1868.4 L1722.1,1897.1 M1719.2,1869.2 L1711.4,1897.5 M1710.1,1869.5 L1700.8,1897.3 M1701.0,1869.2 L1690.2,1896.4 M1691.9,1868.5 L1679.7,1895.0 M1682.8,1867.2 L1669.3,1892.9 M1673.9,1865.4 L1659.0,1890.3 M1665.0,1863.0 L1648.9,1887.1 M1656.3,1860.2 L1638.9,1883.2 M1647.8,1856.9 L1629.2,1878.8 M1639.5,1853.1 L1619.8,1873.9 M1631.4,1848.9 L1610.7,1868.4 M1623.6,1844.2 L1601.8,1862.4 M1616.0,1839.0 L1593.4,1856.0 M1608.8,1833.4 L1585.3,1849.0 M1601.9,1827.4 L1577.6,1841.6 M1595.3,1821.1 L1570.4,1833.7 M1589.1,1814.4 L1563.6,1825.5 M1583.4,1807.3 L1557.3,1816.8 M1578.0,1799.9 L1551.5,1807.8 M1573.0,1792.2 L1546.2,1798.5 M1568.5,1784.3 L1541.4,1788.9 M1564.5,1776.1 L1537.2,1779.1 M1560.9,1767.6 L1533.6,1769.0 M1557.9,1759.0 L1530.5,1758.7 M1555.3,1750.3 L1528.0,1748.3 M1553.2,1741.4 L1526.1,1737.7 M1551.6,1732.4 L1524.8,1727.0 M1550.6,1723.3 L1524.1,1716.3 M1550.1,1714.2 L1524.0,1705.6 M1550.1,1705.0 L1524.6,1694.9 M1550.6,1695.9 L1525.7,1684.2 M1551.6,1686.8 L1527.4,1673.6 M1553.2,1677.8 L1529.7,1663.1 M1555.2,1668.9 L1532.7,1652.8 M1557.8,1660.2 L1536.2,1642.7 M1560.9,1651.5 L1540.2,1632.7 M1564.4,1643.1 L1544.8,1623.1 M1568.4,1634.9 L1550.0,1613.7 M1572.9,1627.0 L1555.7,1604.6 M1577.9,1619.3 L1561.8,1595.9 M1583.2,1611.9 L1568.5,1587.5 M1589.0,1604.8 L1575.6,1579.5 M1595.2,1598.1 L1583.2,1572.0 M1601.7,1591.7 L1591.1,1564.9 M1608.6,1585.7 L1599.5,1558.3 M1615.9,1580.1 L1608.2,1552.1 M1623.4,1575.0 L1617.3,1546.5 M1631.2,1570.2 L1626.6,1541.4 M1639.3,1566.0 L1636.3,1536.9 M1647.6,1562.2 L1646.1,1532.9 M1656.1,1558.8 L1656.2,1529.5 M1664.8,1556.0 L1666.5,1526.7 M1673.7,1553.7 L1676.9,1524.5 M1682.6,1551.9 L1687.4,1522.9 M1691.7,1550.6 L1697.9,1521.9 M1700.8,1549.8 L1708.6,1521.5 M1709.9,1549.5 L1719.2,1521.7 M1719.0,1549.8 L1729.8,1522.6 M1728.1,1550.5 L1740.3,1524.0 M1737.2,1551.8 L1750.7,1526.1 M1746.1,1553.6 L1761.0,1528.7 M1755.0,1556.0 L1771.1,1531.9 M1763.7,1558.8 L1781.1,1535.8 M1772.2,1562.1 L1790.8,1540.2 M1780.5,1565.9 L1800.2,1545.1 M1788.6,1570.1 L1809.3,1550.6 M1796.4,1574.8 L1818.2,1556.6 M1804.0,1580.0 L1826.6,1563.0 M1811.2,1585.6 L1834.7,1570.0 M1818.1,1591.6 L1842.4,1577.4 M1824.7,1597.9 L1849.6,1585.3 M1830.9,1604.6 L1856.4,1593.5 M1836.6,1611.7 L1862.7,1602.2 M1842.0,1619.1 L1868.5,1611.2 M1847.0,1626.8 L1873.8,1620.5 M1851.5,1634.7 L1878.6,1630.1 M1855.5,1642.9 L1882.8,1639.9 M1859.1,1651.4 L1886.4,1650.0 M1862.1,1660.0 L1889.5,1660.3 M1864.7,1668.7 L1892.0,1670.7 M1866.8,1677.6 L1893.9,1681.3 M1868.4,1686.6 L1895.2,1692.0 M1869.4,1695.7 L1895.9,1702.7 M1869.9,1704.8 L1896.0,1713.4" stroke="#4677c9" stroke-width="1.2" fill="none" stroke-linecap="round"/>
<path d="M1901.0,1706.4 L1901.0,1712.6 L1892.5,1710.5 Z M1900.8,1717.4 L1900.5,1723.5 L1892.1,1721.0 Z M1900.1,1728.2 L1899.4,1734.3 L1891.2,1731.3 Z M1898.7,1739.1 L1897.7,1745.1 L1889.6,1741.6 Z M1896.7,1749.8 L1895.3,1755.7 L1887.5,1751.9 Z M1894.1,1760.4 L1892.4,1766.2 L1884.8,1761.9 Z M1890.9,1770.8 L1888.8,1776.6 L1881.5,1771.8 Z M1887.1,1781.0 L1884.7,1786.7 L1877.7,1781.5 Z M1882.7,1791.0 L1880.0,1796.5 L1873.3,1791.0 Z M1877.8,1800.7 L1874.8,1806.1 L1868.4,1800.1 Z M1872.3,1810.2 L1869.0,1815.3 L1863.0,1809.0 Z M1866.3,1819.3 L1862.7,1824.2 L1857.0,1817.6 Z M1859.8,1828.0 L1855.9,1832.8 L1850.6,1825.8 Z M1852.8,1836.4 L1848.6,1840.9 L1843.7,1833.7 Z M1845.3,1844.3 L1840.9,1848.6 L1836.4,1841.1 Z M1837.4,1851.8 L1832.8,1855.8 L1828.7,1848.1 Z M1829.0,1858.9 L1824.2,1862.6 L1820.6,1854.7 Z M1820.3,1865.4 L1815.3,1868.9 L1812.1,1860.7 Z M1811.2,1871.5 L1806.0,1874.6 L1803.3,1866.3 Z M1801.8,1877.0 L1796.4,1879.8 L1794.2,1871.4 Z M1792.1,1881.9 L1786.6,1884.5 L1784.9,1875.9 Z M1782.1,1886.4 L1776.4,1888.6 L1775.2,1879.9 Z M1771.9,1890.2 L1766.1,1892.1 L1765.4,1883.4 Z M1761.5,1893.4 L1755.6,1895.0 L1755.4,1886.3 Z M1750.9,1896.1 L1744.9,1897.3 L1745.2,1888.6 Z M1740.2,1898.1 L1734.2,1899.0 L1734.9,1890.3 Z M1729.4,1899.5 L1723.3,1900.0 L1724.6,1891.4 Z M1718.5,1900.3 L1712.4,1900.5 L1714.2,1892.0 Z M1707.6,1900.5 L1701.5,1900.3 L1703.7,1891.9 Z M1696.7,1900.0 L1690.6,1899.5 L1693.3,1891.2 Z M1685.8,1899.0 L1679.8,1898.1 L1683.0,1890.0 Z M1675.1,1897.3 L1669.1,1896.1 L1672.7,1888.2 Z M1664.4,1895.0 L1658.5,1893.4 L1662.6,1885.7 Z M1653.9,1892.1 L1648.1,1890.2 L1652.6,1882.7 Z M1643.6,1888.6 L1637.9,1886.4 L1642.8,1879.2 Z M1633.4,1884.5 L1627.9,1881.9 L1633.2,1875.1 Z M1623.6,1879.8 L1618.2,1877.0 L1623.9,1870.4 Z M1614.0,1874.6 L1608.8,1871.5 L1614.9,1865.2 Z M1604.7,1868.9 L1599.7,1865.4 L1606.1,1859.6 Z M1595.8,1862.6 L1591.0,1858.9 L1597.7,1853.4 Z M1587.2,1855.8 L1582.6,1851.8 L1589.7,1846.7 Z M1579.1,1848.6 L1574.7,1844.3 L1582.1,1839.6 Z M1571.4,1840.9 L1567.2,1836.4 L1574.8,1832.1 Z M1564.1,1832.8 L1560.2,1828.0 L1568.1,1824.2 Z M1557.3,1824.2 L1553.7,1819.3 L1561.7,1815.9 Z M1551.0,1815.3 L1547.7,1810.2 L1555.9,1807.3 Z M1545.2,1806.1 L1542.2,1800.7 L1550.6,1798.3 Z M1540.0,1796.5 L1537.3,1791.0 L1545.8,1789.1 Z M1535.3,1786.7 L1532.9,1781.0 L1541.5,1779.6 Z M1531.2,1776.6 L1529.1,1770.8 L1537.8,1769.8 Z M1527.6,1766.2 L1525.9,1760.4 L1534.6,1759.9 Z M1524.7,1755.7 L1523.3,1749.8 L1532.0,1749.8 Z M1522.3,1745.1 L1521.3,1739.1 L1530.0,1739.6 Z M1520.6,1734.3 L1519.9,1728.2 L1528.6,1729.3 Z M1519.5,1723.5 L1519.2,1717.4 L1527.7,1718.9 Z M1519.0,1712.6 L1519.0,1706.4 L1527.5,1708.5 Z M1519.2,1701.6 L1519.5,1695.5 L1527.9,1698.0 Z M1519.9,1690.8 L1520.6,1684.7 L1528.8,1687.7 Z M1521.3,1679.9 L1522.3,1673.9 L1530.4,1677.4 Z M1523.3,1669.2 L1524.7,1663.3 L1532.5,1667.1 Z M1525.9,1658.6 L1527.6,1652.8 L1535.2,1657.1 Z M1529.1,1648.2 L1531.2,1642.4 L1538.5,1647.2 Z M1532.9,1638.0 L1535.3,1632.3 L1542.3,1637.5 Z M1537.3,1628.0 L1540.0,1622.5 L1546.7,1628.0 Z M1542.2,1618.3 L1545.2,1612.9 L1551.6,1618.9 Z M1547.7,1608.8 L1551.0,1603.7 L1557.0,1610.0 Z M1553.7,1599.7 L1557.3,1594.8 L1563.0,1601.4 Z M1560.2,1591.0 L1564.1,1586.2 L1569.4,1593.2 Z M1567.2,1582.6 L1571.4,1578.1 L1576.3,1585.3 Z M1574.7,1574.7 L1579.1,1570.4 L1583.6,1577.9 Z M1582.6,1567.2 L1587.2,1563.2 L1591.3,1570.9 Z M1591.0,1560.1 L1595.8,1556.4 L1599.4,1564.3 Z M1599.7,1553.6 L1604.7,1550.1 L1607.9,1558.3 Z M1608.8,1547.5 L1614.0,1544.4 L1616.7,1552.7 Z M1618.2,1542.0 L1623.6,1539.2 L1625.8,1547.6 Z M1627.9,1537.1 L1633.4,1534.5 L1635.1,1543.1 Z M1637.9,1532.6 L1643.6,1530.4 L1644.8,1539.1 Z M1648.1,1528.8 L1653.9,1526.9 L1654.6,1535.6 Z M1658.5,1525.6 L1664.4,1524.0 L1664.6,1532.7 Z M1669.1,1522.9 L1675.1,1521.7 L1674.8,1530.4 Z M1679.8,1520.9 L1685.8,1520.0 L1685.1,1528.7 Z M1690.6,1519.5 L1696.7,1519.0 L1695.4,1527.6 Z M1701.5,1518.7 L1707.6,1518.5 L1705.8,1527.0 Z M1712.4,1518.5 L1718.5,1518.7 L1716.3,1527.1 Z M1723.3,1519.0 L1729.4,1519.5 L1726.7,1527.8 Z M1734.2,1520.0 L1740.2,1520.9 L1737.0,1529.0 Z M1744.9,1521.7 L1750.9,1522.9 L1747.3,1530.8 Z M1755.6,1524.0 L1761.5,1525.6 L1757.4,1533.3 Z M1766.1,1526.9 L1771.9,1528.8 L1767.4,1536.3 Z M1776.4,1530.4 L1782.1,1532.6 L1777.2,1539.8 Z M1786.6,1534.5 L1792.1,1537.1 L1786.8,1543.9 Z M1796.4,1539.2 L1801.8,1542.0 L1796.1,1548.6 Z M1806.0,1544.4 L1811.2,1547.5 L1805.1,1553.8 Z M1815.3,1550.1 L1820.3,1553.6 L1813.9,1559.4 Z M1824.2,1556.4 L1829.0,1560.1 L1822.3,1565.6 Z M1832.8,1563.2 L1837.4,1567.2 L1830.3,1572.3 Z M1840.9,1570.4 L1845.3,1574.7 L1837.9,1579.4 Z M1848.6,1578.1 L1852.8,1582.6 L1845.2,1586.9 Z M1855.9,1586.2 L1859.8,1591.0 L1851.9,1594.8 Z M1862.7,1594.8 L1866.3,1599.7 L1858.3,1603.1 Z M1869.0,1603.7 L1872.3,1608.8 L1864.1,1611.7 Z M1874.8,1612.9 L1877.8,1618.3 L1869.4,1620.7 Z M1880.0,1622.5 L1882.7,1628.0 L1874.2,1629.9 Z M1884.7,1632.3 L1887.1,1638.0 L1878.5,1639.4 Z M1888.8,1642.4 L1890.9,1648.2 L1882.2,1649.2 Z M1892.4,1652.8 L1894.1,1658.6 L1885.4,1659.1 Z M1895.3,1663.3 L1896.7,1669.2 L1888.0,1669.2 Z M1897.7,1673.9 L1898.7,1679.9 L1890.0,1679.4 Z M1899.4,1684.7 L1900.1,1690.8 L1891.4,1689.7 Z M1900.5,1695.5 L1900.8,1701.6 L1892.3,1700.1 Z" fill="#ffffff"/>
<ellipse cx="1715" cy="1707" rx="160.5" ry="159.5" fill="#e06574"/>
<path d="M1839.0,1707.0 L1872.8,1714.8 M1838.8,1713.9 L1872.0,1724.7 M1838.0,1720.8 L1870.6,1734.4 M1836.8,1727.6 L1868.5,1744.1 M1835.1,1734.4 L1865.9,1753.6 M1832.9,1741.0 L1862.6,1762.9 M1830.3,1747.5 L1858.8,1772.0 M1827.2,1753.8 L1854.4,1780.9 M1823.7,1760.0 L1849.5,1789.4 M1819.7,1765.9 L1844.0,1797.6 M1815.3,1771.7 L1838.0,1805.5 M1810.5,1777.1 L1831.6,1813.0 M1805.4,1782.3 L1824.6,1820.1 M1799.9,1787.2 L1817.3,1826.7 M1794.0,1791.8 L1809.5,1832.8 M1787.9,1796.0 L1801.4,1838.5 M1781.4,1799.9 L1792.9,1843.6 M1774.7,1803.4 L1784.1,1848.2 M1767.8,1806.5 L1775.0,1852.2 M1760.6,1809.3 L1765.7,1855.7 M1753.3,1811.6 L1756.3,1858.6 M1745.8,1813.5 L1746.6,1860.8 M1738.2,1815.1 L1736.8,1862.5 M1730.5,1816.1 L1726.9,1863.6 M1722.8,1816.8 L1717.0,1864.0 M1715.0,1817.0 L1707.1,1863.8 M1707.2,1816.8 L1697.2,1863.0 M1699.5,1816.1 L1687.4,1861.6 M1691.8,1815.1 L1677.7,1859.6 M1684.2,1813.5 L1668.1,1856.9 M1676.7,1811.6 L1658.7,1853.7 M1669.4,1809.3 L1649.6,1849.9 M1662.2,1806.5 L1640.7,1845.5 M1655.3,1803.4 L1632.1,1840.6 M1648.6,1799.9 L1623.8,1835.2 M1642.1,1796.0 L1615.9,1829.2 M1636.0,1791.8 L1608.3,1822.8 M1630.1,1787.2 L1601.2,1815.9 M1624.6,1782.3 L1594.6,1808.6 M1619.5,1777.1 L1588.4,1800.9 M1614.7,1771.7 L1582.7,1792.8 M1610.3,1765.9 L1577.5,1784.4 M1606.3,1760.0 L1572.9,1775.7 M1602.8,1753.8 L1568.9,1766.7 M1599.7,1747.5 L1565.4,1757.4 M1597.1,1741.0 L1562.5,1748.0 M1594.9,1734.4 L1560.2,1738.4 M1593.2,1727.6 L1558.5,1728.7 M1592.0,1720.8 L1557.5,1718.9 M1591.2,1713.9 L1557.0,1709.0 M1591.0,1707.0 L1557.2,1699.2 M1591.2,1700.1 L1558.0,1689.3 M1592.0,1693.2 L1559.4,1679.6 M1593.2,1686.4 L1561.5,1669.9 M1594.9,1679.6 L1564.1,1660.4 M1597.1,1673.0 L1567.4,1651.1 M1599.7,1666.5 L1571.2,1642.0 M1602.8,1660.2 L1575.6,1633.1 M1606.3,1654.0 L1580.5,1624.6 M1610.3,1648.1 L1586.0,1616.4 M1614.7,1642.3 L1592.0,1608.5 M1619.5,1636.9 L1598.4,1601.0 M1624.6,1631.7 L1605.4,1593.9 M1630.1,1626.8 L1612.7,1587.3 M1636.0,1622.2 L1620.5,1581.2 M1642.1,1618.0 L1628.6,1575.5 M1648.6,1614.1 L1637.1,1570.4 M1655.3,1610.6 L1645.9,1565.8 M1662.2,1607.5 L1655.0,1561.8 M1669.4,1604.7 L1664.3,1558.3 M1676.7,1602.4 L1673.7,1555.4 M1684.2,1600.5 L1683.4,1553.2 M1691.8,1598.9 L1693.2,1551.5 M1699.5,1597.9 L1703.1,1550.4 M1707.2,1597.2 L1713.0,1550.0 M1715.0,1597.0 L1722.9,1550.2 M1722.8,1597.2 L1732.8,1551.0 M1730.5,1597.9 L1742.6,1552.4 M1738.2,1598.9 L1752.3,1554.4 M1745.8,1600.5 L1761.9,1557.1 M1753.3,1602.4 L1771.3,1560.3 M1760.6,1604.7 L1780.4,1564.1 M1767.8,1607.5 L1789.3,1568.5 M1774.7,1610.6 L1797.9,1573.4 M1781.4,1614.1 L1806.2,1578.8 M1787.9,1618.0 L1814.1,1584.8 M1794.0,1622.2 L1821.7,1591.2 M1799.9,1626.8 L1828.8,1598.1 M1805.4,1631.7 L1835.4,1605.4 M1810.5,1636.9 L1841.6,1613.1 M1815.3,1642.3 L1847.3,1621.2 M1819.7,1648.1 L1852.5,1629.6 M1823.7,1654.0 L1857.1,1638.3 M1827.2,1660.2 L1861.1,1647.3 M1830.3,1666.5 L1864.6,1656.6 M1832.9,1673.0 L1867.5,1666.0 M1835.1,1679.6 L1869.8,1675.6 M1836.8,1686.4 L1871.5,1685.3 M1838.0,1693.2 L1872.5,1695.1 M1838.8,1700.1 L1873.0,1705.0" stroke="#f39ba3" stroke-width="3.0" fill="none" stroke-linecap="round"/>
<path d="M1840.9,1710.5 L1870.5,1719.6 M1840.4,1717.5 L1869.4,1729.3 M1839.4,1724.5 L1867.7,1738.9 M1838.0,1731.4 L1865.4,1748.3 M1836.0,1738.2 L1862.4,1757.6 M1833.6,1744.9 L1859.0,1766.7 M1830.6,1751.5 L1854.9,1775.6 M1827.3,1757.8 L1850.3,1784.2 M1823.5,1764.0 L1845.1,1792.5 M1819.2,1770.0 L1839.5,1800.4 M1814.6,1775.6 L1833.3,1808.0 M1809.5,1781.1 L1826.7,1815.2 M1804.1,1786.2 L1819.7,1821.9 M1798.3,1791.0 L1812.2,1828.2 M1792.2,1795.5 L1804.3,1834.1 M1785.8,1799.6 L1796.1,1839.4 M1779.1,1803.4 L1787.6,1844.2 M1772.2,1806.8 L1778.8,1848.5 M1765.0,1809.8 L1769.7,1852.2 M1757.7,1812.4 L1760.4,1855.3 M1750.2,1814.6 L1751.0,1857.8 M1742.5,1816.3 L1741.4,1859.8 M1734.7,1817.6 L1731.7,1861.1 M1726.9,1818.5 L1721.9,1861.8 M1719.0,1818.9 L1712.1,1862.0 M1711.0,1818.9 L1702.3,1861.5 M1703.1,1818.5 L1692.6,1860.4 M1695.3,1817.6 L1682.9,1858.7 M1687.5,1816.3 L1673.4,1856.4 M1679.8,1814.6 L1664.0,1853.5 M1672.3,1812.4 L1654.9,1850.0 M1665.0,1809.8 L1646.0,1846.0 M1657.8,1806.8 L1637.3,1841.4 M1650.9,1803.4 L1629.0,1836.3 M1644.2,1799.6 L1621.0,1830.7 M1637.8,1795.5 L1613.3,1824.6 M1631.7,1791.0 L1606.1,1818.0 M1625.9,1786.2 L1599.3,1811.0 M1620.5,1781.1 L1593.0,1803.6 M1615.4,1775.6 L1587.1,1795.8 M1610.8,1770.0 L1581.8,1787.6 M1606.5,1764.0 L1576.9,1779.1 M1602.7,1757.8 L1572.6,1770.4 M1599.4,1751.5 L1568.9,1761.4 M1596.4,1744.9 L1565.8,1752.1 M1594.0,1738.2 L1563.2,1742.8 M1592.0,1731.4 L1561.2,1733.2 M1590.6,1724.5 L1559.9,1723.6 M1589.6,1717.5 L1559.2,1713.9 M1589.1,1710.5 L1559.0,1704.1 M1589.1,1703.5 L1559.5,1694.4 M1589.6,1696.5 L1560.6,1684.7 M1590.6,1689.5 L1562.3,1675.1 M1592.0,1682.6 L1564.6,1665.7 M1594.0,1675.8 L1567.6,1656.4 M1596.4,1669.1 L1571.0,1647.3 M1599.4,1662.5 L1575.1,1638.4 M1602.7,1656.2 L1579.7,1629.8 M1606.5,1650.0 L1584.9,1621.5 M1610.8,1644.0 L1590.5,1613.6 M1615.4,1638.4 L1596.7,1606.0 M1620.5,1632.9 L1603.3,1598.8 M1625.9,1627.8 L1610.3,1592.1 M1631.7,1623.0 L1617.8,1585.8 M1637.8,1618.5 L1625.7,1579.9 M1644.2,1614.4 L1633.9,1574.6 M1650.9,1610.6 L1642.4,1569.8 M1657.8,1607.2 L1651.2,1565.5 M1665.0,1604.2 L1660.3,1561.8 M1672.3,1601.6 L1669.6,1558.7 M1679.8,1599.4 L1679.0,1556.2 M1687.5,1597.7 L1688.6,1554.2 M1695.3,1596.4 L1698.3,1552.9 M1703.1,1595.5 L1708.1,1552.2 M1711.0,1595.1 L1717.9,1552.0 M1719.0,1595.1 L1727.7,1552.5 M1726.9,1595.5 L1737.4,1553.6 M1734.7,1596.4 L1747.1,1555.3 M1742.5,1597.7 L1756.6,1557.6 M1750.2,1599.4 L1766.0,1560.5 M1757.7,1601.6 L1775.1,1564.0 M1765.0,1604.2 L1784.0,1568.0 M1772.2,1607.2 L1792.7,1572.6 M1779.1,1610.6 L1801.0,1577.7 M1785.8,1614.4 L1809.0,1583.3 M1792.2,1618.5 L1816.7,1589.4 M1798.3,1623.0 L1823.9,1596.0 M1804.1,1627.8 L1830.7,1603.0 M1809.5,1632.9 L1837.0,1610.4 M1814.6,1638.4 L1842.9,1618.2 M1819.2,1644.0 L1848.2,1626.4 M1823.5,1650.0 L1853.1,1634.9 M1827.3,1656.2 L1857.4,1643.6 M1830.6,1662.5 L1861.1,1652.6 M1833.6,1669.1 L1864.2,1661.9 M1836.0,1675.8 L1866.8,1671.2 M1838.0,1682.6 L1868.8,1680.8 M1839.4,1689.5 L1870.1,1690.4 M1840.4,1696.5 L1870.8,1700.1 M1840.9,1703.5 L1871.0,1709.9" stroke="#a84058" stroke-width="1.2" fill="none" stroke-linecap="round"/>
<path d="M1823.3,1758.1 L1854.0,1786.3 M1818.9,1765.0 L1847.7,1796.4 M1813.9,1771.6 L1840.6,1806.0 M1808.3,1777.9 L1832.7,1815.1 M1802.0,1783.8 L1824.0,1823.6 M1795.3,1789.3 L1814.7,1831.3 M1788.1,1794.3 L1804.8,1838.4 M1780.4,1798.9 L1794.3,1844.7 M1772.3,1802.9 L1783.4,1850.2 M1763.8,1806.4 L1772.0,1854.9 M1755.1,1809.3 L1760.2,1858.7 M1746.1,1811.6 L1748.2,1861.6 M1736.9,1813.3 L1736.0,1863.7 M1727.5,1814.5 L1723.6,1864.8 M1718.1,1815.0 L1711.2,1865.0 M1708.7,1814.9 L1698.9,1864.2 M1699.3,1814.1 L1686.6,1862.6 M1690.1,1812.8 L1674.5,1860.0 M1680.9,1810.9 L1662.6,1856.5 M1672.0,1808.4 L1651.1,1852.2 M1663.3,1805.3 L1639.9,1847.0 M1655.0,1801.6 L1629.3,1841.0 M1647.0,1797.4 L1619.1,1834.2 M1639.5,1792.7 L1609.6,1826.7 M1632.4,1787.5 L1600.6,1818.5 M1625.8,1781.9 L1592.4,1809.7 M1619.8,1775.9 L1585.0,1800.3 M1614.4,1769.5 L1578.4,1790.3 M1609.5,1762.7 L1572.6,1779.9" stroke="#6d9fe6" stroke-width="2.2" fill="none" stroke-linecap="round"/>
<ellipse cx="1719.5" cy="1694.5" rx="124.5" ry="108.5" fill="#4a72cc"/>
<path d="M1815.5,1694.5 L1843.3,1699.9 M1815.3,1700.4 L1842.6,1707.4 M1814.6,1706.2 L1841.3,1714.9 M1813.4,1712.0 L1839.4,1722.2 M1811.8,1717.7 L1836.8,1729.4 M1809.7,1723.2 L1833.8,1736.5 M1807.2,1728.7 L1830.1,1743.3 M1804.3,1733.9 L1825.9,1749.9 M1800.9,1739.0 L1821.2,1756.2 M1797.2,1743.9 L1816.0,1762.3 M1793.0,1748.5 L1810.4,1768.0 M1788.6,1752.9 L1804.3,1773.3 M1783.7,1756.9 L1797.8,1778.3 M1778.6,1760.7 L1790.9,1782.8 M1773.2,1764.1 L1783.6,1786.9 M1767.5,1767.2 L1776.1,1790.6 M1761.6,1770.0 L1768.2,1793.8 M1755.5,1772.4 L1760.1,1796.5 M1749.2,1774.4 L1751.9,1798.8 M1742.7,1776.0 L1743.4,1800.5 M1736.2,1777.2 L1734.9,1801.7 M1729.5,1778.0 L1726.3,1802.3 M1722.9,1778.4 L1717.6,1802.5 M1716.1,1778.4 L1709.0,1802.1 M1709.5,1778.0 L1700.4,1801.2 M1702.8,1777.2 L1691.9,1799.8 M1696.3,1776.0 L1683.5,1797.9 M1689.8,1774.4 L1675.3,1795.4 M1683.5,1772.4 L1667.4,1792.5 M1677.4,1770.0 L1659.6,1789.1 M1671.5,1767.2 L1652.2,1785.2 M1665.8,1764.1 L1645.1,1780.9 M1660.4,1760.7 L1638.4,1776.2 M1655.3,1756.9 L1632.0,1771.0 M1650.4,1752.9 L1626.1,1765.5 M1646.0,1748.5 L1620.6,1759.7 M1641.8,1743.9 L1615.7,1753.5 M1638.1,1739.0 L1611.2,1747.1 M1634.7,1733.9 L1607.2,1740.4 M1631.8,1728.7 L1603.8,1733.4 M1629.3,1723.2 L1601.0,1726.3 M1627.2,1717.7 L1598.7,1719.0 M1625.6,1712.0 L1597.1,1711.6 M1624.4,1706.2 L1596.0,1704.2 M1623.7,1700.4 L1595.5,1696.6 M1623.5,1694.5 L1595.7,1689.1 M1623.7,1688.6 L1596.4,1681.6 M1624.4,1682.8 L1597.7,1674.1 M1625.6,1677.0 L1599.6,1666.8 M1627.2,1671.3 L1602.2,1659.6 M1629.3,1665.8 L1605.2,1652.5 M1631.8,1660.3 L1608.9,1645.7 M1634.7,1655.1 L1613.1,1639.1 M1638.1,1650.0 L1617.8,1632.8 M1641.8,1645.1 L1623.0,1626.7 M1646.0,1640.5 L1628.6,1621.0 M1650.4,1636.1 L1634.7,1615.7 M1655.3,1632.1 L1641.2,1610.7 M1660.4,1628.3 L1648.1,1606.2 M1665.8,1624.9 L1655.4,1602.1 M1671.5,1621.8 L1662.9,1598.4 M1677.4,1619.0 L1670.8,1595.2 M1683.5,1616.6 L1678.9,1592.5 M1689.8,1614.6 L1687.1,1590.2 M1696.3,1613.0 L1695.6,1588.5 M1702.8,1611.8 L1704.1,1587.3 M1709.5,1611.0 L1712.7,1586.7 M1716.1,1610.6 L1721.4,1586.5 M1722.9,1610.6 L1730.0,1586.9 M1729.5,1611.0 L1738.6,1587.8 M1736.2,1611.8 L1747.1,1589.2 M1742.7,1613.0 L1755.5,1591.1 M1749.2,1614.6 L1763.7,1593.6 M1755.5,1616.6 L1771.6,1596.5 M1761.6,1619.0 L1779.4,1599.9 M1767.5,1621.8 L1786.8,1603.8 M1773.2,1624.9 L1793.9,1608.1 M1778.6,1628.3 L1800.6,1612.8 M1783.7,1632.1 L1807.0,1618.0 M1788.6,1636.1 L1812.9,1623.5 M1793.0,1640.5 L1818.4,1629.3 M1797.2,1645.1 L1823.3,1635.5 M1800.9,1650.0 L1827.8,1641.9 M1804.3,1655.1 L1831.8,1648.6 M1807.2,1660.3 L1835.2,1655.6 M1809.7,1665.8 L1838.0,1662.7 M1811.8,1671.3 L1840.3,1670.0 M1813.4,1677.0 L1841.9,1677.4 M1814.6,1682.8 L1843.0,1684.8 M1815.3,1688.6 L1843.5,1692.4" stroke="#7ea8ee" stroke-width="2.4" fill="none" stroke-linecap="round"/>
<ellipse cx="1709" cy="1698" rx="96" ry="85" fill="#2c1c66"/>
<circle cx="1665" cy="1690" r="40" fill="url(#pdots2)"/>
<circle cx="1720" cy="1660" r="42" fill="url(#pdots2)"/>
<circle cx="1760" cy="1720" r="38" fill="url(#pdots2)"/>
<circle cx="1690" cy="1745" r="36" fill="url(#pdots2)"/>
<circle cx="1735" cy="1760" r="30" fill="url(#pdots2)"/>
<circle cx="1650" cy="1730" r="26" fill="url(#pdots2)"/>
<polyline points="1625.0,1680.0 1629.4,1679.9 1628.6,1677.1 1625.2,1673.1 1625.7,1671.0 1630.8,1671.2 1634.2,1670.5 1632.3,1667.2 1629.3,1663.4 1631.1,1662.0 1636.4,1662.3 1638.7,1661.1 1635.9,1657.3 1633.7,1653.9 1636.7,1653.0 1641.9,1653.3 1640.0,1650.0 1643.5,1652.5 1644.6,1650.2 1644.3,1645.0 1645.6,1643.1 1649.3,1645.8 1652.7,1648.1 1653.6,1645.3 1653.3,1640.2 1654.8,1638.7 1658.5,1641.6" fill="none" stroke="#f2aa3a" stroke-width="4.2" stroke-linecap="round" stroke-linejoin="round"/>
<polyline points="1700.0,1640.0 1704.1,1641.3 1704.5,1638.7 1702.5,1634.0 1703.1,1631.6 1707.3,1633.0 1711.3,1634.2 1711.5,1631.5 1709.5,1626.7 1710.3,1624.6 1714.6,1626.1 1718.5,1627.1 1718.4,1624.2 1716.6,1619.4 1720.0,1620.0 1721.5,1624.0 1723.7,1622.8 1726.3,1618.3 1728.5,1617.3 1730.0,1621.4 1731.5,1625.3 1733.7,1623.9 1736.3,1619.4 1738.5,1618.6 1740.0,1622.9 1741.5,1626.6 1743.8,1624.9 1746.3,1620.5 1748.4,1619.9 1749.9,1624.3 1751.5,1627.9 1753.8,1626.0 1756.4,1621.6 1758.4,1621.3" fill="none" stroke="#f2aa3a" stroke-width="4.2" stroke-linecap="round" stroke-linejoin="round"/>
<polyline points="1740.0,1650.0 1739.8,1654.3 1742.3,1654.0 1746.4,1651.0 1748.8,1650.9 1748.6,1655.3 1748.4,1659.5 1750.9,1659.1 1755.1,1656.1 1757.4,1656.1 1757.1,1660.6 1757.0,1664.7 1759.6,1664.2 1763.8,1661.2 1766.0,1661.3 1765.7,1665.9 1765.6,1669.9 1768.3,1669.3 1772.4,1666.3 1774.6,1666.6 1774.2,1671.1 1774.2,1675.1 1777.0,1674.3 1781.1,1671.4 1783.2,1671.8 1782.8,1676.4 1782.8,1680.3 1785.7,1679.4 1789.8,1676.5" fill="none" stroke="#f2aa3a" stroke-width="4.2" stroke-linecap="round" stroke-linejoin="round"/>
<polyline points="1760.0,1690.0 1760.8,1694.3 1763.4,1693.1 1766.9,1689.2 1769.1,1689.5 1769.6,1694.6 1770.7,1697.8 1773.8,1695.2 1777.2,1691.8 1778.8,1693.7 1779.2,1699.1 1780.9,1700.8 1784.2,1697.3 1787.3,1694.9 1788.4,1698.2 1790.0,1700.0 1786.6,1702.6 1788.5,1704.4 1793.5,1705.6 1795.0,1707.4 1791.3,1710.1 1788.1,1712.6 1790.4,1714.3 1795.4,1715.5 1796.5,1717.4 1792.7,1720.1 1789.8,1722.7 1792.4,1724.3 1797.3,1725.5 1798.0,1727.4 1794.0,1730.2 1791.4,1732.7 1794.4,1734.2 1799.2,1735.5 1799.5,1737.5 1795.3,1740.2 1793.1,1742.7 1796.4,1744.2 1801.0,1745.4 1800.9,1747.5 1796.7,1750.3 1794.8,1752.7 1798.4,1754.1 1802.9,1755.4 1802.4,1757.5" fill="none" stroke="#f2aa3a" stroke-width="4.2" stroke-linecap="round" stroke-linejoin="round"/>
<polyline points="1700.0,1700.0 1697.0,1703.1 1699.2,1704.6 1704.4,1705.0 1706.1,1706.6 1702.7,1709.8 1700.1,1712.9 1702.9,1714.1 1708.0,1714.6 1709.1,1716.3 1705.5,1719.7 1703.3,1722.6 1706.5,1723.6 1711.5,1724.1 1712.0,1726.1 1708.3,1729.5 1706.5,1732.2 1710.2,1733.2 1715.0,1733.7 1714.9,1735.9 1711.1,1739.3 1709.8,1741.9 1713.9,1742.7 1718.4,1743.3 1717.8,1745.7 1713.9,1749.1 1713.2,1751.5 1717.6,1752.2 1721.8,1753.0 1720.6,1755.5 1716.7,1758.9 1720.0,1760.0 1715.7,1759.6 1715.8,1762.0 1718.6,1766.3 1718.7,1768.8 1714.4,1768.3 1710.2,1767.9 1710.3,1770.4 1713.1,1774.7 1713.1,1777.1 1708.8,1776.6 1704.6,1776.2 1704.8,1778.7 1707.6,1783.0 1707.6,1785.4 1703.2,1784.9 1699.0,1784.5 1699.2,1787.1" fill="none" stroke="#f2aa3a" stroke-width="4.2" stroke-linecap="round" stroke-linejoin="round"/>
<polyline points="1660.0,1720.0 1655.7,1720.5 1656.6,1723.1 1660.3,1726.8 1660.2,1729.0 1655.3,1729.3 1651.7,1730.1 1653.5,1733.0 1656.9,1736.6 1655.9,1738.4 1650.7,1738.6 1647.9,1739.7 1650.4,1742.9 1653.5,1746.4 1651.4,1747.8 1646.2,1747.9 1644.3,1749.4 1647.4,1752.9 1649.8,1756.1 1646.9,1757.1 1641.7,1757.3 1640.8,1759.2 1644.4,1762.8 1646.0,1765.7 1642.2,1766.4 1637.4,1766.7" fill="none" stroke="#f2aa3a" stroke-width="4.2" stroke-linecap="round" stroke-linejoin="round"/>
<polyline points="1730.0,1700.0 1727.9,1703.8 1730.3,1704.6 1735.3,1703.7 1737.6,1704.6 1735.5,1708.4 1733.5,1712.1 1735.9,1712.9 1740.9,1712.0 1743.1,1712.9 1741.0,1716.7 1739.0,1720.5 1741.4,1721.3 1746.5,1720.3 1748.7,1721.2 1746.6,1725.1 1744.6,1728.8 1747.0,1729.6" fill="none" stroke="#f2aa3a" stroke-width="4.2" stroke-linecap="round" stroke-linejoin="round"/>
<polyline points="1620.0,1730.0 1618.7,1734.1 1621.3,1734.5 1626.0,1732.5 1628.4,1733.1 1627.0,1737.3 1625.8,1741.3 1628.5,1741.5 1633.3,1739.5 1635.4,1740.3 1633.9,1744.6 1632.9,1748.5 1635.8,1748.4 1640.6,1746.6 1642.5,1747.5 1640.9,1752.0 1640.0,1755.7 1643.2,1755.4 1647.9,1753.6 1649.5,1754.7 1647.9,1759.3" fill="none" stroke="#f2aa3a" stroke-width="4.2" stroke-linecap="round" stroke-linejoin="round"/>
<polyline points="1620.0,1700.0 1624.3,1700.4 1624.2,1698.0 1621.4,1693.7 1621.3,1691.2 1625.6,1691.7 1629.8,1692.1 1629.7,1689.6 1626.9,1685.3 1626.9,1682.9 1631.2,1683.4 1635.4,1683.8 1635.2,1681.3 1632.4,1677.0 1632.4,1674.6 1636.8,1675.1 1641.0,1675.5 1640.8,1672.9 1640.0,1670.0 1643.7,1672.2 1644.6,1669.9 1643.9,1664.8 1645.0,1662.6 1648.7,1664.9 1652.3,1667.1 1653.2,1664.6 1652.5,1659.6 1653.6,1657.5 1657.4,1659.9 1661.0,1662.0 1661.8,1659.4 1661.1,1654.3 1662.2,1652.4 1666.1,1654.8 1669.6,1656.8 1670.3,1654.1 1669.6,1649.0 1670.9,1647.2 1674.8,1649.8 1678.2,1651.7 1678.9,1648.8 1678.2,1643.8 1679.5,1642.1 1683.4,1644.7 1686.9,1646.5 1687.4,1643.6 1686.8,1638.5" fill="none" stroke="#3ec3a8" stroke-width="4.2" stroke-linecap="round" stroke-linejoin="round"/>
<polyline points="1700.0,1690.0 1703.5,1692.5 1704.6,1690.2 1704.3,1685.0 1705.6,1683.1 1709.3,1685.8 1712.7,1688.1 1713.6,1685.3 1713.3,1680.2 1714.8,1678.7 1718.5,1681.6 1721.8,1683.6 1722.5,1680.4 1722.2,1675.4 1724.0,1674.3 1727.8,1677.5 1730.9,1679.0 1731.4,1675.5 1731.2,1670.6 1733.2,1670.0 1737.1,1673.3 1740.0,1674.5 1740.0,1670.0 1739.6,1674.3 1742.0,1674.2 1746.3,1671.4 1748.8,1671.3 1748.3,1675.6 1747.9,1679.8 1750.4,1679.7 1754.7,1676.9 1757.1,1676.9 1756.6,1681.2 1756.2,1685.4 1758.7,1685.2 1763.0,1682.4 1765.4,1682.4 1764.9,1686.8 1764.5,1691.0 1767.1,1690.8" fill="none" stroke="#3ec3a8" stroke-width="4.2" stroke-linecap="round" stroke-linejoin="round"/>
<polyline points="1640.0,1740.0 1642.9,1743.2 1644.5,1741.0 1645.3,1735.9 1647.1,1734.5 1650.2,1738.2 1653.0,1740.9 1654.3,1737.9 1655.2,1732.9 1657.2,1732.4 1660.4,1736.5 1663.0,1738.4 1664.2,1734.6 1665.1,1730.0 1667.4,1730.5 1670.5,1734.6 1672.9,1735.7 1674.0,1731.4 1675.1,1727.2 1677.5,1728.6 1680.0,1730.0 1677.9,1733.8 1680.3,1734.6 1685.3,1733.7 1687.6,1734.6 1685.5,1738.4 1683.5,1742.1 1685.9,1742.9 1690.9,1742.0 1693.1,1742.9 1691.0,1746.7 1689.0,1750.5 1691.4,1751.3 1696.5,1750.3 1698.7,1751.2 1696.6,1755.1 1694.6,1758.8 1697.0,1759.6" fill="none" stroke="#3ec3a8" stroke-width="4.2" stroke-linecap="round" stroke-linejoin="round"/>
<polyline points="1740.0,1730.0 1742.9,1733.2 1744.5,1731.0 1745.3,1725.9 1747.1,1724.5 1750.2,1728.2 1753.0,1730.9 1754.3,1727.9 1755.2,1722.9 1757.2,1722.4 1760.4,1726.5 1763.0,1728.4 1764.2,1724.6 1765.1,1720.0 1767.4,1720.5 1770.5,1724.6 1772.9,1725.7 1774.0,1721.4 1775.1,1717.2 1777.5,1718.6" fill="none" stroke="#3ec3a8" stroke-width="4.2" stroke-linecap="round" stroke-linejoin="round"/>
<polyline points="1670.0,1650.0 1674.0,1651.6 1674.5,1649.0 1673.0,1644.0 1674.0,1642.0 1678.3,1644.0 1682.0,1645.2 1682.0,1641.9 1680.6,1637.1 1682.1,1635.7 1686.7,1637.9 1689.9,1638.6 1689.5,1634.9 1688.3,1630.2 1690.3,1629.4 1695.0,1631.8 1697.7,1631.9 1696.9,1627.7 1696.0,1623.4" fill="none" stroke="#3ec3a8" stroke-width="4.2" stroke-linecap="round" stroke-linejoin="round"/>
<rect x="556" y="1518" width="112" height="3.2" fill="url(#ag1)"/>
<path d="M665,1513.5 L677,1519.6 L665,1525.7 Z" fill="#111"/>
<rect x="900" y="1517" width="192" height="4.4" fill="url(#ag1)"/>
<path d="M1089,1513.2 L1102.5,1519.2 L1089,1525.2 Z" fill="#111"/>
<rect x="896" y="1754" width="196" height="4.4" fill="url(#ag1)"/>
<path d="M1089,1750 L1102.5,1756 L1089,1762 Z" fill="#111"/>
<line x1="303.1" y1="1564.6" x2="394.2" y2="1524.3" stroke="#111" stroke-width="2.2"/>
<circle cx="303.1" cy="1564.6" r="3.6" fill="#111" stroke="#fff" stroke-width="0.8"/>
<line x1="292.1" y1="1674.2" x2="391.9" y2="1709.2" stroke="#111" stroke-width="2.2"/>
<circle cx="292.1" cy="1674.2" r="3.6" fill="#111" stroke="#fff" stroke-width="0.8"/>
<line x1="294.1" y1="1753.5" x2="391.9" y2="1794.9" stroke="#111" stroke-width="2.2"/>
<circle cx="294.1" cy="1753.5" r="3.6" fill="#111" stroke="#fff" stroke-width="0.8"/>
<path d="M621,1711 C630,1712 632,1718 632,1728 L632,1745 C632,1751 634,1754 638,1754.5 C634,1755 632,1758 632,1764 L632,1781 C632,1791 630,1797 621,1798" fill="none" stroke="#111" stroke-width="2.4"/></svg>
<div class="r" style="left:255px;top:0px;width:1px;height:42px;background:#e2e2e2"></div>
<div class="r" style="left:255px;top:42px;width:487px;height:17px;background:#b5c4e3"></div>
<div class="r" style="left:1225px;top:42px;width:464px;height:17px;background:#b5c4e3"></div>
<div class="r" style="left:255px;top:42px;width:17px;height:963px;background:#b5c4e3"></div>
<div class="r" style="left:1671px;top:42px;width:18px;height:963px;background:#b5c4e3"></div>
<div class="r" style="left:255px;top:992px;width:1434px;height:13px;background:#b5c4e3"></div>
<div class="r" style="left:0px;top:1094px;width:728px;height:16px;background:#b5c4e3"></div>
<div class="r" style="left:1222px;top:1094px;width:712px;height:16px;background:#b5c4e3"></div>
<div class="r" style="left:0px;top:1094px;width:14px;height:978px;background:#b5c4e3"></div>
<div class="r" style="left:0px;top:2067px;width:1934px;height:5px;background:#a9b8d6"></div>
<div class="t" style="left:787.8px;top:16.5px;font-size:66.0px;font-weight:400;color:#e07c38;transform:scaleX(0.9505);">Formulation 1</div>
<div class="t" style="left:359.7px;top:121.6px;font-size:64.43px;font-weight:700;color:#1e5493;transform:scaleX(0.997);">Virus-mimicking polymer-functionalized</div>
<div class="t" style="left:556.2px;top:196.7px;font-size:64.0px;font-weight:700;color:#1e5493;transform:scaleX(1.0045);">lipid nanoparticle (PF-LNP)</div>
<div class="t" style="left:451.3px;top:800.9px;font-size:27.71px;font-weight:700;color:#111;transform:scaleX(0.9412);">Virus</div>
<div class="t" style="left:689.0px;top:496.1px;font-size:22.43px;font-weight:700;color:#111;transform:scaleX(1.0195);">Viral Envelope</div>
<div class="t" style="left:867.0px;top:496.1px;font-size:22.43px;font-weight:700;color:#111;transform:scaleX(1.0139);">Lipid Nanoparticle</div>
<div class="t" style="left:1062.4px;top:351.8px;font-size:15.14px;font-weight:700;color:#222;transform:scaleX(0.9703);">Cationic/Ionizable  Lipid</div>
<div class="t" style="left:1061.6px;top:427.7px;font-size:14.86px;font-weight:700;color:#222;transform:scaleX(0.9705);">Helper  Lipid</div>
<div class="t" style="left:1088.4px;top:505.7px;font-size:14.29px;font-weight:700;color:#222;transform:scaleX(1.03);">Sterol</div>
<div class="t" style="left:702.0px;top:648.8px;font-size:22.0px;font-weight:700;color:#111;transform:scaleX(1.0393);">Viral Spike</div>
<div class="t" style="left:867.4px;top:648.8px;font-size:22.0px;font-weight:700;color:#111;transform:scaleX(1.0403);">Stimuli-responsive</div>
<div class="t" style="left:874.3px;top:677.3px;font-size:22.0px;font-weight:700;color:#111;transform:scaleX(1.0146);">membrane  active</div>
<div class="t" style="left:850.8px;top:704.5px;font-size:22.0px;font-weight:700;color:#111;transform:scaleX(1.0224);">amphiphilic  polymers</div>
<div class="t" style="left:687.3px;top:822.0px;font-size:23.14px;font-weight:700;color:#111;transform:scaleX(0.9932);">Viral Genome</div>
<div class="t" style="left:899.0px;top:820.2px;font-size:22.86px;font-weight:700;color:#111;transform:scaleX(0.9667);">Nucleic  acid</div>
<div class="t" style="left:1119.8px;top:823.8px;font-size:24.86px;font-weight:700;color:#111;transform:scaleX(1.0552);">Polymer-functionalized Lipid Nanoparticle</div>
<div class="t" style="left:1328.0px;top:855.1px;font-size:25.0px;font-weight:700;color:#111;transform:scaleX(1.0476);">(PF-LNP)</div>
<div class="t" style="left:294.8px;top:914.8px;font-size:43.0px;font-weight:400;color:#111;transform:scaleX(0.9915);"><span style="font-weight:700;color:#1e5493">Patent:</span> PCT/GB2022/052847</div>
<div class="t" style="left:773.0px;top:1069.0px;font-size:65.71px;font-weight:400;color:#e07c38;transform:scaleX(1.0071);">Formulation 2</div>
<div class="t" style="left:405.4px;top:1174.3px;font-size:66.0px;font-weight:700;color:#1e5493;">Virus-mimicking polymer-enveloped</div>
<div class="t" style="left:547.6px;top:1251.6px;font-size:66.29px;font-weight:700;color:#1e5493;transform:scaleX(0.9946);">lipid nanoparticle (PE-LNP)</div>
<div class="t" style="left:397.9px;top:1497.6px;font-size:33.29px;font-weight:400;color:#111;-webkit-text-stroke:0.4px #111;transform:scaleX(1.075);">Envelope</div>
<div class="t" style="left:394.5px;top:1694.7px;font-size:33.14px;font-weight:400;color:#111;-webkit-text-stroke:0.4px #111;transform:scaleX(1.0931);">Nucleic acid</div>
<div class="t" style="left:394.5px;top:1777.7px;font-size:33.29px;font-weight:400;color:#111;-webkit-text-stroke:0.4px #111;transform:scaleX(1.0765);">Nucleocapsid</div>
<div class="t" style="left:446.2px;top:1811.8px;font-size:33.29px;font-weight:400;color:#111;-webkit-text-stroke:0.4px #111;transform:scaleX(1.0908);">protein</div>
<div class="t" style="left:180.7px;top:1850.6px;font-size:39.71px;font-weight:400;color:#111;-webkit-text-stroke:0.4px #111;transform:scaleX(1.0382);">Virus</div>
<div class="t" style="left:669.2px;top:1613.8px;font-size:33.71px;font-weight:400;color:#111;-webkit-text-stroke:0.4px #111;transform:scaleX(1.0717);">Viral envelope</div>
<div class="t" style="left:922.1px;top:1481.5px;font-size:27.43px;font-weight:400;color:#111;-webkit-text-stroke:0.4px #111;transform:scaleX(1.1132);">Mimicked by</div>
<div class="t" style="left:1041.8px;top:1614.0px;font-size:33.71px;font-weight:400;color:#111;-webkit-text-stroke:0.4px #111;transform:scaleX(1.0725);">Polymer envelop (PE)</div>
<div class="t" style="left:674.3px;top:1823.9px;font-size:33.0px;font-weight:400;color:#111;-webkit-text-stroke:0.4px #111;transform:scaleX(1.0959);">Nucleocapsid</div>
<div class="t" style="left:919.2px;top:1719.7px;font-size:27.71px;font-weight:400;color:#111;-webkit-text-stroke:0.4px #111;transform:scaleX(1.1039);">Mimicked by</div>
<div class="t" style="left:1161.4px;top:1827.8px;font-size:32.71px;font-weight:400;color:#111;-webkit-text-stroke:0.4px #111;transform:scaleX(1.1098);">RNA/lipid</div>
<div class="t" style="left:1058.4px;top:1862.6px;font-size:32.71px;font-weight:400;color:#111;-webkit-text-stroke:0.4px #111;transform:scaleX(1.1039);">nanoparticles (LNP)</div>
<div class="t" style="left:1611.0px;top:1378.2px;font-size:31.86px;font-weight:400;color:#111;-webkit-text-stroke:0.4px #111;transform:scaleX(1.1224);">RNA-loaded</div>
<div class="t" style="left:1535.7px;top:1411.4px;font-size:31.86px;font-weight:400;color:#111;-webkit-text-stroke:0.4px #111;transform:scaleX(1.1326);">polymer-enveloped</div>
<div class="t" style="left:1471.3px;top:1445.6px;font-size:31.86px;font-weight:400;color:#111;-webkit-text-stroke:0.4px #111;transform:scaleX(1.1349);">lipid nanoparticle (PE-LNP)</div>
<div class="t" style="left:59.3px;top:1981.5px;font-size:41.29px;font-weight:400;color:#111;transform:scaleX(1.0608);"><span style="font-weight:700;color:#1e5493">Patent:</span> Europe 22732305.2, US 18/570611, Japan 2023-577253, China 202280055882.4</div>
</div></body></html>
